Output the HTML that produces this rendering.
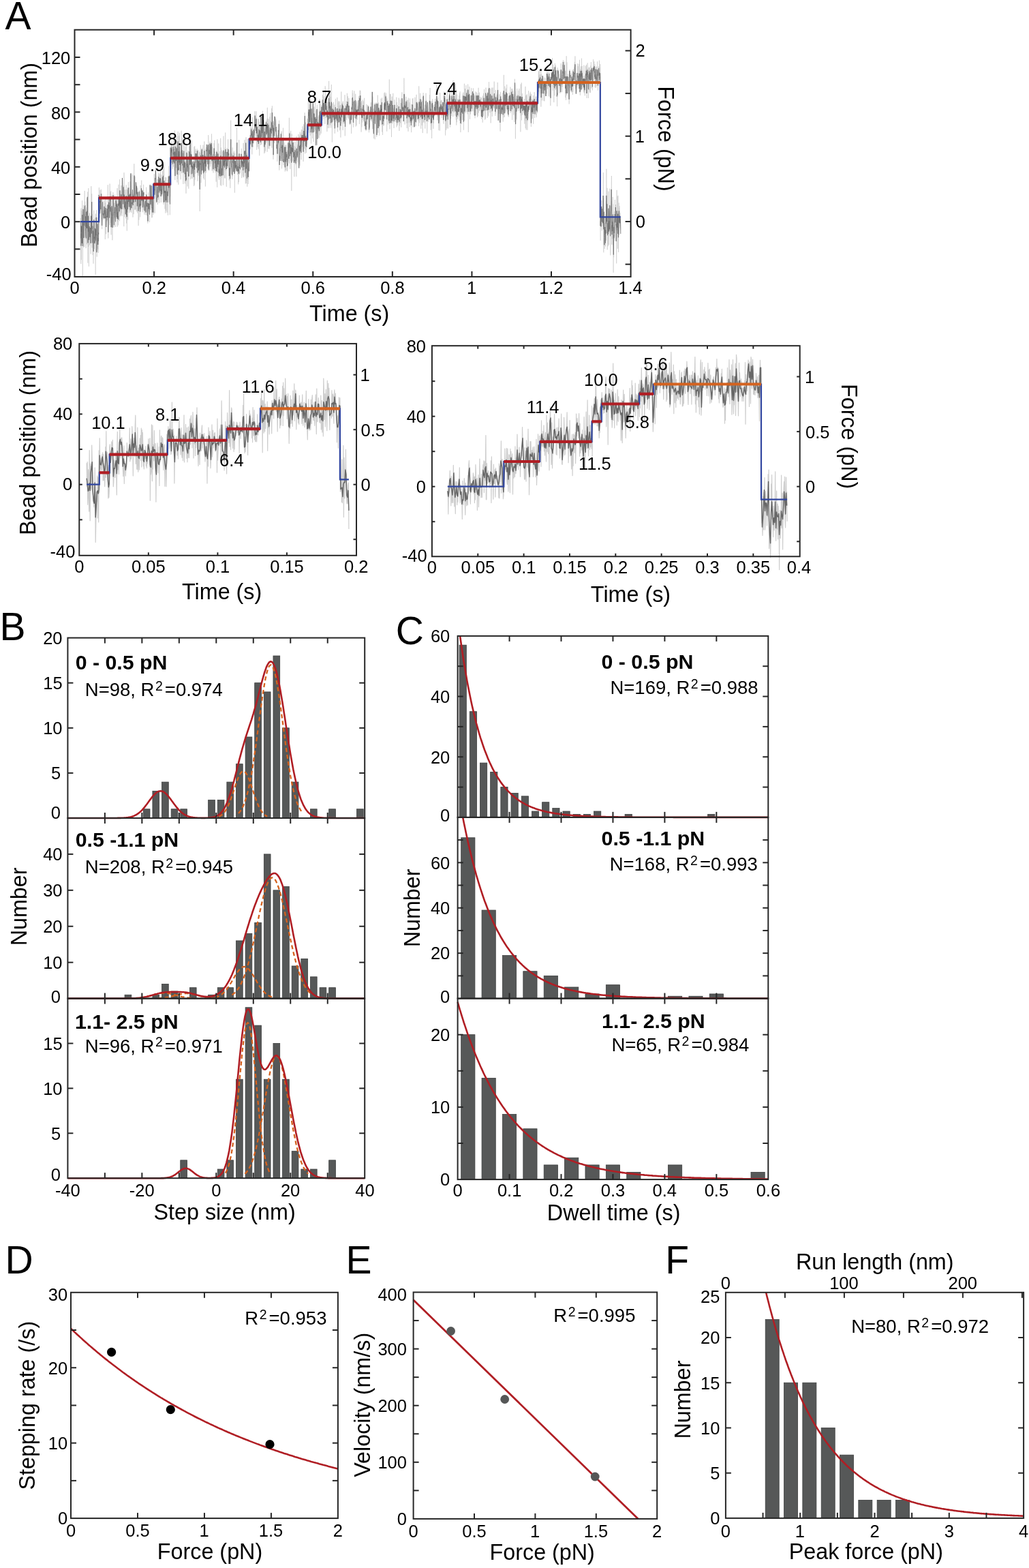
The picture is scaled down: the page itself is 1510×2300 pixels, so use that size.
<!DOCTYPE html>
<html><head><meta charset="utf-8"><title>Figure</title><style>html,body{margin:0;padding:0;background:#fff}svg{display:block}</style></head><body>
<svg width="1510" height="2300" viewBox="0 0 1510 2300" font-family='"Liberation Sans", Arial, Helvetica, sans-serif'>
<rect width="1510" height="2300" fill="#fff"/>
<polyline points="118.1,325.3 118.3,320 118.6,335.3 118.8,387 119,305.5 119.2,381.2 119.5,308.8 119.7,330.5 119.9,360.2 120.1,355.8 120.4,345.5 120.6,294.2 120.8,348.4 121.1,310 121.3,405 121.5,329.3 121.7,341.3 122,306.5 122.2,323.7 122.4,300.8 122.6,363 122.9,329.1 123.1,348.7 123.3,314 123.6,316.5 123.8,362 124,299.8 124.2,279.9 124.5,338.2 124.7,295.5 124.9,312.7 125.1,348.1 125.4,300.9 125.6,347.1 125.8,307 126.1,364.1 126.3,361.2 126.5,314 126.7,320.3 127,304.4 127.2,334 127.4,358.3 127.7,290.5 127.9,352.2 128.1,292.8 128.3,305.8 128.6,281.5 128.8,385.7 129,333.8 129.2,339.7 129.5,315.7 129.7,361.9 129.9,276.1 130.2,333.1 130.4,390.8 130.6,323.8 130.8,334.1 131.1,350.9 131.3,312.5 131.5,335 131.7,359.6 132,337.9 132.2,344.9 132.4,324.9 132.7,342 132.9,333.7 133.1,372.6 133.3,354.8 133.6,329.8 133.8,273.1 134,355.3 134.2,356.7 134.5,312.2 134.7,284.1 134.9,308.1 135.2,363.5 135.4,314 135.6,332.3 135.8,349.8 136.1,374.1 136.3,343.3 136.5,342.6 136.7,331.8 137,386.7 137.2,371.1 137.4,341.2 137.7,308.5 137.9,323.7 138.1,358.1 138.3,324.1 138.6,365.3 138.8,351.3 139,348.9 139.2,358 139.5,353.9 139.7,319.7 139.9,333.8 140.2,402.7 140.4,313.6 140.6,330.3 140.8,367.7 141.1,337.6 141.3,320.3 141.5,308.1 141.7,356.7 142,367.8 142.2,376.6 142.4,343.6 142.7,367.9 142.9,318.6 143.1,345.8 143.3,326.5 143.6,345.1 143.8,358.8 144,365.8 144.3,320.4 144.5,371 144.7,335.2 144.9,322.1 145.2,303.8 145.4,275.1 145.6,306.4 145.8,313.6 146.1,304.2 146.3,319.3 146.5,301.7 146.8,308.2 147,278.7 147.2,308.5 147.4,291.3 147.7,300.2 147.9,307.8 148.1,312.7 148.3,277.7 148.6,279.8 148.8,304.6 149,321.2 149.3,319.8 149.5,329.3 149.7,336.1 149.9,322.2 150.2,312.1 150.4,293.1 150.6,295.9 150.8,305 151.1,318.4 151.3,316.1 151.5,312.4 151.8,308.8 152,322.2 152.2,316.1 152.4,318.1 152.7,317.7 152.9,301.8 153.1,293.6 153.3,320.3 153.6,317.2 153.8,306 154,301.9 154.3,351.1 154.5,297.3 154.7,308.2 154.9,317.1 155.2,291.4 155.4,314.4 155.6,343.4 155.8,326.9 156.1,320.6 156.3,318.8 156.5,309.5 156.8,324.5 157,305.1 157.2,301.6 157.4,309.9 157.7,322.9 157.9,312.2 158.1,319 158.3,271.2 158.6,329.2 158.8,349.5 159,331 159.3,300.9 159.5,291.7 159.7,312.1 159.9,288.6 160.2,319.6 160.4,297.7 160.6,324.5 160.9,330.3 161.1,269.5 161.3,310.1 161.5,294.8 161.8,281.8 162,297.8 162.2,305.2 162.4,327 162.7,280.3 162.9,325.8 163.1,344.4 163.4,318.6 163.6,318.6 163.8,308.5 164,286 164.3,315.9 164.5,313.3 164.7,320 164.9,352.3 165.2,319.2 165.4,314.3 165.6,333.7 165.9,282.1 166.1,285 166.3,298.4 166.5,292 166.8,316.1 167,297.5 167.2,333.4 167.4,330.1 167.7,316.7 167.9,297.7 168.1,315.8 168.4,319 168.6,285.7 168.8,310.1 169,316.2 169.3,308.3 169.5,333 169.7,326.5 169.9,289.6 170.2,306.5 170.4,288.9 170.6,314.3 170.9,288.8 171.1,320.9 171.3,310 171.5,320.3 171.8,301 172,276.1 172.2,332.6 172.4,298.1 172.7,324.8 172.9,307.6 173.1,312.1 173.4,330.4 173.6,304.3 173.8,321.7 174,270.7 174.3,312.4 174.5,293.2 174.7,295.5 174.9,296.9 175.2,302.8 175.4,324.3 175.6,263.2 175.9,297 176.1,283.9 176.3,317.3 176.5,289.4 176.8,305.1 177,291.6 177.2,309.9 177.5,315.6 177.7,290.9 177.9,298 178.1,272 178.4,303.6 178.6,312.7 178.8,287.4 179,317.2 179.3,261.2 179.5,263.8 179.7,271.4 180,287.1 180.2,296.2 180.4,294 180.6,294.4 180.9,307.1 181.1,285.6 181.3,272 181.5,272.8 181.8,332.1 182,253.2 182.2,290.3 182.5,318.2 182.7,301.5 182.9,278.4 183.1,293.8 183.4,308 183.6,314.5 183.8,278.4 184,308.3 184.3,299.7 184.5,315.4 184.7,320.5 185,290.4 185.2,271.3 185.4,303 185.6,327.6 185.9,308.2 186.1,300.2 186.3,338.5 186.5,278 186.8,312.5 187,286.9 187.2,298.2 187.5,297.7 187.7,322.5 187.9,279.5 188.1,286.5 188.4,267 188.6,303.4 188.8,285 189,300.6 189.3,275.1 189.5,286.9 189.7,312.2 190,290.5 190.2,304 190.4,302.5 190.6,287.6 190.9,266.1 191.1,309.6 191.3,296.6 191.5,310.5 191.8,258 192,263.7 192.2,255.8 192.5,278 192.7,312.1 192.9,304.6 193.1,292.3 193.4,295 193.6,306.3 193.8,288.3 194.1,301.7 194.3,297 194.5,256.2 194.7,288 195,318.7 195.2,288.8 195.4,292.3 195.6,284.5 195.9,286.5 196.1,314.1 196.3,289.9 196.6,276.3 196.8,240.3 197,284.8 197.2,259.5 197.5,262.2 197.7,307.6 197.9,304.9 198.1,258.8 198.4,307.6 198.6,300.6 198.8,279.4 199.1,307.3 199.3,267.1 199.5,274.7 199.7,270.3 200,275.3 200.2,310.2 200.4,271.9 200.6,275.9 200.9,279.8 201.1,300.4 201.3,291.7 201.6,312.5 201.8,285.4 202,275.7 202.2,290.1 202.5,299.9 202.7,283.4 202.9,304.7 203.1,331.1 203.4,288.4 203.6,300.2 203.8,322.7 204.1,287.9 204.3,283.5 204.5,279.2 204.7,304.5 205,306.8 205.2,293.8 205.4,296.7 205.6,318.4 205.9,311.2 206.1,271.8 206.3,296 206.6,298 206.8,306.9 207,290.2 207.2,284 207.5,287.2 207.7,264.5 207.9,295 208.1,285 208.4,304.4 208.6,278.4 208.8,288.3 209.1,280.2 209.3,278.9 209.5,311.4 209.7,291.7 210,307.8 210.2,280 210.4,302 210.6,270.8 210.9,291.5 211.1,289.6 211.3,308.3 211.6,301.3 211.8,296.2 212,314.7 212.2,302.3 212.5,307.6 212.7,311.6 212.9,296.2 213.2,291.8 213.4,303.1 213.6,290 213.8,303.8 214.1,315.4 214.3,311.3 214.5,289.9 214.7,274.6 215,295.9 215.2,295 215.4,316.1 215.7,289.9 215.9,293.1 216.1,310.4 216.3,289.1 216.6,294.9 216.8,327.5 217,325.3 217.2,310.2 217.5,303.2 217.7,282.3 217.9,310.1 218.2,302.5 218.4,304.9 218.6,293.7 218.8,303.3 219.1,299.9 219.3,307.6 219.5,325.8 219.7,307 220,271.5 220.2,282.4 220.4,270.7 220.7,285 220.9,307.9 221.1,304.7 221.3,286.6 221.6,302 221.8,284.3 222,273.1 222.2,272.2 222.5,281.5 222.7,319.4 222.9,273.1 223.2,317.7 223.4,318.9 223.6,292.4 223.8,294 224.1,285.6 224.3,295.4 224.5,306.4 224.7,295.5 225,314.7 225.2,294 225.4,279.2 225.7,279.1 225.9,273.9 226.1,280.3 226.3,255.2 226.6,281.4 226.8,278.8 227,261.3 227.2,312.7 227.5,260.6 227.7,263 227.9,282.9 228.2,245.8 228.4,264.4 228.6,252.4 228.8,261.5 229.1,276.4 229.3,284.8 229.5,297.5 229.8,290.3 230,295.9 230.2,285.4 230.4,267 230.7,293 230.9,265.5 231.1,262.7 231.3,300.1 231.6,287.3 231.8,278.7 232,289.8 232.3,292.8 232.5,253.2 232.7,274.9 232.9,255.8 233.2,277.7 233.4,263.9 233.6,297.8 233.8,283.4 234.1,260.4 234.3,274.4 234.5,254.5 234.8,275.2 235,283.9 235.2,279.2 235.4,241.6 235.7,268.2 235.9,282.3 236.1,280.7 236.3,297 236.6,256.2 236.8,286.2 237,265.3 237.3,280.6 237.5,283.9 237.7,287.6 237.9,266 238.2,279.4 238.4,255.4 238.6,251 238.8,283.7 239.1,273.4 239.3,247 239.5,259.2 239.8,273.7 240,299.9 240.2,292.7 240.4,287.6 240.7,243.5 240.9,272.7 241.1,282.3 241.3,281.2 241.6,283.4 241.8,271.8 242,306.3 242.3,301.4 242.5,275.8 242.7,259.9 242.9,312.6 243.2,267.3 243.4,297.4 243.6,309.3 243.8,260.4 244.1,280.7 244.3,271.2 244.5,286.3 244.8,283.3 245,311.7 245.2,288.1 245.4,277.9 245.7,296.9 245.9,273.2 246.1,271.1 246.4,315.8 246.6,264.1 246.8,270.7 247,280 247.3,260.8 247.5,243.5 247.7,296.9 247.9,264 248.2,267.4 248.4,269.3 248.6,257.5 248.9,256.8 249.1,277 249.3,315.3 249.5,287.2 249.8,288 250,249.7 250.2,233.8 250.4,214.3 250.7,248.4 250.9,231.8 251.1,234.3 251.4,232.1 251.6,223.7 251.8,207.6 252,242.2 252.3,210.3 252.5,213.9 252.7,227.8 252.9,219.8 253.2,236 253.4,247.8 253.6,234.9 253.9,234 254.1,231 254.3,244.7 254.5,199.3 254.8,237.3 255,216 255.2,211.9 255.4,232.1 255.7,224.5 255.9,241.3 256.1,250.2 256.4,191.5 256.6,229.9 256.8,264.1 257,245.5 257.3,255.9 257.5,233 257.7,206.6 257.9,211.4 258.2,242.2 258.4,246.3 258.6,216.6 258.9,223.7 259.1,233.3 259.3,199.9 259.5,224.5 259.8,258.6 260,267.5 260.2,229.2 260.4,262.9 260.7,221.9 260.9,216.6 261.1,192.9 261.4,247.3 261.6,225 261.8,270.8 262,236.5 262.3,233.6 262.5,199.4 262.7,256.7 263,226.2 263.2,229.5 263.4,194.8 263.6,248.1 263.9,250.5 264.1,222.3 264.3,233.2 264.5,238.8 264.8,249.4 265,235 265.2,263.3 265.5,230.4 265.7,224.6 265.9,226.8 266.1,191.7 266.4,222.7 266.6,254 266.8,241 267,221.2 267.3,242.6 267.5,202.1 267.7,232 268,245.6 268.2,249.5 268.4,224.5 268.6,253.4 268.9,270 269.1,231.6 269.3,251.6 269.5,213.1 269.8,206.9 270,251.4 270.2,241.1 270.5,243.8 270.7,231.8 270.9,236.4 271.1,254.8 271.4,269.4 271.6,237.1 271.8,214.5 272,265 272.3,253.7 272.5,256.1 272.7,248.1 273,283.8 273.2,246.3 273.4,252.4 273.6,213 273.9,234.1 274.1,233.4 274.3,244.7 274.5,249.5 274.8,230.5 275,273.4 275.2,225.9 275.5,236.4 275.7,247.2 275.9,221 276.1,253.4 276.4,255 276.6,239.3 276.8,276.7 277,245.5 277.3,248.5 277.5,226.6 277.7,214.9 278,232.8 278.2,236.2 278.4,234.2 278.6,254.5 278.9,200.2 279.1,221.2 279.3,209.9 279.6,263.1 279.8,230.2 280,231.2 280.2,222.1 280.5,255.7 280.7,233.8 280.9,244.9 281.1,206.2 281.4,261.6 281.6,248.4 281.8,250.3 282.1,262.2 282.3,238 282.5,238.1 282.7,253.5 283,248.2 283.2,237.9 283.4,242.3 283.6,232.3 283.9,252.6 284.1,256.7 284.3,241.7 284.6,273.1 284.8,215.3 285,236.6 285.2,271.4 285.5,235.4 285.7,214.3 285.9,264.1 286.1,249.8 286.4,221 286.6,254.8 286.8,223.7 287.1,218.5 287.3,238.9 287.5,233.5 287.7,224.7 288,235.5 288.2,224.6 288.4,242.1 288.6,241.1 288.9,253.5 289.1,232.9 289.3,218.5 289.6,218.3 289.8,235.5 290,265.8 290.2,253.4 290.5,228.6 290.7,256.7 290.9,220.2 291.1,257.8 291.4,234.7 291.6,254.5 291.8,251.8 292.1,236.4 292.3,246.8 292.5,222.6 292.7,239.1 293,259.2 293.2,309.9 293.4,252.6 293.6,242.2 293.9,224 294.1,258.8 294.3,212.7 294.6,227.8 294.8,247.6 295,221.4 295.2,268.3 295.5,261.1 295.7,232.7 295.9,232.2 296.2,217.8 296.4,217.1 296.6,248.1 296.8,251.4 297.1,245.6 297.3,242.3 297.5,229.1 297.7,244.1 298,212.7 298.2,237.1 298.4,261.4 298.7,258.7 298.9,228.1 299.1,229.2 299.3,257.5 299.6,263.4 299.8,207.5 300,224.9 300.2,237.6 300.5,253.3 300.7,218.7 300.9,243.7 301.2,227.5 301.4,273.5 301.6,240.8 301.8,232.3 302.1,229.8 302.3,253.4 302.5,246.5 302.7,216 303,237.9 303.2,211.2 303.4,221.7 303.7,212.2 303.9,212 304.1,222 304.3,217 304.6,243.3 304.8,247.6 305,230 305.2,214.3 305.5,246.6 305.7,198.1 305.9,201.5 306.2,247.3 306.4,245.3 306.6,250.5 306.8,228.8 307.1,211.3 307.3,222.8 307.5,240.3 307.7,218.3 308,220.1 308.2,207.8 308.4,211.1 308.7,244.5 308.9,237.7 309.1,209.9 309.3,211.8 309.6,221.5 309.8,240.5 310,212.6 310.2,230.7 310.5,196.4 310.7,211.9 310.9,241.9 311.2,250.6 311.4,215.6 311.6,223.2 311.8,249.7 312.1,229.3 312.3,226 312.5,243.2 312.8,238.3 313,253.6 313.2,248.5 313.4,225.2 313.7,232.6 313.9,233.3 314.1,209.9 314.3,216.4 314.6,249.7 314.8,205.8 315,250.1 315.3,237.1 315.5,229.5 315.7,240.6 315.9,240.8 316.2,253.1 316.4,226.2 316.6,230.6 316.8,229.9 317.1,266.6 317.3,252.7 317.5,221.1 317.8,230 318,222.9 318.2,235.5 318.4,239.3 318.7,274.7 318.9,204.3 319.1,253.2 319.3,243.3 319.6,222.7 319.8,231.7 320,225.5 320.3,235.3 320.5,253 320.7,210.5 320.9,260.3 321.2,231.3 321.4,263.7 321.6,244.8 321.8,257.6 322.1,246 322.3,254.9 322.5,237.6 322.8,221.9 323,247.5 323.2,248.4 323.4,271.8 323.7,202.8 323.9,232.4 324.1,255.8 324.3,216.5 324.6,232.9 324.8,272.6 325,259.5 325.3,220.2 325.5,260.2 325.7,255.8 325.9,249.3 326.2,242.2 326.4,241.1 326.6,222.3 326.8,228.2 327.1,250.6 327.3,242.1 327.5,271.5 327.8,234.2 328,199.6 328.2,234 328.4,242.9 328.7,244.9 328.9,239.4 329.1,222.4 329.4,261.4 329.6,224.6 329.8,249.3 330,232.2 330.3,216.7 330.5,261.4 330.7,194.5 330.9,223.5 331.2,245.3 331.4,232.1 331.6,250.1 331.9,235.6 332.1,230 332.3,273.9 332.5,232.7 332.8,233.3 333,217.4 333.2,223.3 333.4,246.8 333.7,245.4 333.9,234.5 334.1,222.5 334.4,246.3 334.6,204.4 334.8,227.8 335,229.7 335.3,219.8 335.5,236.3 335.7,222.7 335.9,219.8 336.2,264.5 336.4,246.6 336.6,254.8 336.9,235.9 337.1,251.1 337.3,247.6 337.5,254.9 337.8,275.8 338,231.8 338.2,239.6 338.4,234.8 338.7,176.5 338.9,212.7 339.1,235.4 339.4,245.1 339.6,224.9 339.8,253.1 340,255.4 340.3,226.6 340.5,258.2 340.7,262.8 340.9,241 341.2,216.4 341.4,258.5 341.6,230.1 341.9,226.8 342.1,235.2 342.3,223.7 342.5,251.1 342.8,245.4 343,253.5 343.2,244 343.4,221.5 343.7,232 343.9,248.9 344.1,226.3 344.4,282.7 344.6,229.9 344.8,224.1 345,252.5 345.3,246.4 345.5,234 345.7,231.3 346,242.8 346.2,248.7 346.4,248.8 346.6,231.2 346.9,244.2 347.1,252 347.3,251.8 347.5,187.1 347.8,224.7 348,225.9 348.2,236.1 348.5,243.3 348.7,256.2 348.9,251.8 349.1,238.9 349.4,240.6 349.6,270.4 349.8,230.7 350,245.9 350.3,267.2 350.5,246.4 350.7,205.2 351,245.1 351.2,231.9 351.4,235.9 351.6,255.8 351.9,246 352.1,234.4 352.3,254 352.5,246.6 352.8,242.5 353,245.6 353.2,243.7 353.5,233.2 353.7,231.4 353.9,239.4 354.1,223.6 354.4,217.9 354.6,261.1 354.8,234.7 355,237.8 355.3,235.6 355.5,239.3 355.7,239.7 356,242.7 356.2,228.2 356.4,257.7 356.6,230 356.9,260.1 357.1,209.9 357.3,224.3 357.5,260.1 357.8,241.2 358,232.2 358.2,249.5 358.5,225.3 358.7,244.1 358.9,205.2 359.1,234.8 359.4,231.3 359.6,251.9 359.8,258.6 360,228.4 360.3,269.5 360.5,231.5 360.7,207 361,201.2 361.2,269 361.4,240.9 361.6,231.9 361.9,230.6 362.1,224.2 362.3,265.1 362.5,240.6 362.8,273.8 363,240.1 363.2,203.8 363.5,259.5 363.7,237.8 363.9,239.6 364.1,270 364.4,239.6 364.6,263.2 364.8,243.6 365.1,231.9 365.3,252 365.5,233.3 365.7,226.2 366,221.3 366.2,206.1 366.4,214.3 366.6,212.7 366.9,197.9 367.1,218.7 367.3,199.4 367.6,213.6 367.8,184.5 368,203.2 368.2,208.6 368.5,187.9 368.7,193.9 368.9,190.4 369.1,211.6 369.4,187.5 369.6,207.1 369.8,226.4 370.1,206.8 370.3,172.3 370.5,202 370.7,215.9 371,192.7 371.2,215.8 371.4,206.8 371.6,203.4 371.9,192.5 372.1,188.4 372.3,192.8 372.6,197.4 372.8,205.4 373,202.3 373.2,189 373.5,194.1 373.7,198.1 373.9,163.2 374.1,177 374.4,176.6 374.6,186.8 374.8,187 375.1,186.5 375.3,174.9 375.5,202.6 375.7,195.6 376,163.3 376.2,192.3 376.4,172.3 376.6,219.8 376.9,182.1 377.1,184.2 377.3,191.9 377.6,186.7 377.8,188.2 378,215.7 378.2,195 378.5,205.4 378.7,210.6 378.9,174.4 379.1,218.6 379.4,201.3 379.6,206.8 379.8,174.8 380.1,201.3 380.3,194.3 380.5,178.7 380.7,228.3 381,197.5 381.2,183.8 381.4,190.2 381.7,202.2 381.9,206.4 382.1,198.1 382.3,208.3 382.6,212.7 382.8,167.1 383,179.4 383.2,169.8 383.5,188.8 383.7,211.8 383.9,199.8 384.2,171.2 384.4,184.7 384.6,208.4 384.8,183.5 385.1,191.5 385.3,198 385.5,162.8 385.7,206.5 386,199.1 386.2,202.9 386.4,175.9 386.7,178.3 386.9,182 387.1,197.8 387.3,195 387.6,196 387.8,225.2 388,215.6 388.2,181.2 388.5,183.4 388.7,223.8 388.9,188.9 389.2,216.9 389.4,221.4 389.6,186.4 389.8,190.4 390.1,196.2 390.3,180 390.5,177.1 390.7,186 391,209.1 391.2,188.4 391.4,192.6 391.7,188.1 391.9,174.3 392.1,222.8 392.3,157.8 392.6,185.8 392.8,207.7 393,173.5 393.2,207.8 393.5,218.1 393.7,180.6 393.9,198 394.2,174.7 394.4,202.8 394.6,194.9 394.8,197.5 395.1,218.6 395.3,201.2 395.5,215.2 395.7,201.7 396,171.4 396.2,196.4 396.4,199.9 396.7,166 396.9,214 397.1,192.4 397.3,198.4 397.6,177.7 397.8,193.6 398,198.9 398.3,189.6 398.5,196.1 398.7,158.9 398.9,216.9 399.2,174.2 399.4,155.3 399.6,175.1 399.8,177.9 400.1,201.7 400.3,177.4 400.5,198.8 400.8,179.4 401,233.8 401.2,205.9 401.4,228.3 401.7,177.8 401.9,207.3 402.1,180 402.3,207.3 402.6,209.9 402.8,170.2 403,176.9 403.3,176.1 403.5,170.8 403.7,184.3 403.9,181.2 404.2,172.5 404.4,198.4 404.6,206.3 404.8,174.6 405.1,188.7 405.3,200.2 405.5,197.8 405.8,190.3 406,217 406.2,217.5 406.4,215 406.7,199.6 406.9,236.8 407.1,233.4 407.3,198.2 407.6,203.5 407.8,225.6 408,190.5 408.3,211.6 408.5,206.4 408.7,194.1 408.9,203.7 409.2,181.2 409.4,199.2 409.6,176.7 409.8,249.7 410.1,235.3 410.3,232.1 410.5,217.5 410.8,229.9 411,235.2 411.2,232.7 411.4,231.3 411.7,200.5 411.9,223 412.1,205.9 412.3,194.8 412.6,194.4 412.8,221.9 413,232.9 413.3,192.3 413.5,247.3 413.7,242.8 413.9,212.6 414.2,211 414.4,217.9 414.6,237 414.9,214.5 415.1,201.8 415.3,227.3 415.5,187.7 415.8,224 416,242.4 416.2,228.7 416.4,236.8 416.7,232.9 416.9,235.8 417.1,224.8 417.4,208.7 417.6,219.1 417.8,221.7 418,245.1 418.3,251.7 418.5,232.8 418.7,212.8 418.9,214.1 419.2,222.4 419.4,249.9 419.6,232.2 419.9,225 420.1,212.3 420.3,239.6 420.5,228.5 420.8,223.3 421,224.7 421.2,251.3 421.4,220.5 421.7,250.7 421.9,244.8 422.1,224.3 422.4,237.3 422.6,220.1 422.8,208.5 423,218.1 423.3,207.7 423.5,231.8 423.7,224 423.9,233.6 424.2,239.6 424.4,172.8 424.6,230.6 424.9,194.4 425.1,229.2 425.3,210.9 425.5,227 425.8,247.9 426,196 426.2,227.6 426.4,222.2 426.7,191.8 426.9,235.8 427.1,225.3 427.4,215.4 427.6,213.3 427.8,279.8 428,219.7 428.3,196.4 428.5,210.4 428.7,221.2 428.9,221.2 429.2,225.3 429.4,209.2 429.6,236.5 429.9,218.1 430.1,203.4 430.3,211.5 430.5,219 430.8,238.4 431,232.5 431.2,218 431.5,224.1 431.7,228 431.9,259.2 432.1,213.8 432.4,232.2 432.6,236.4 432.8,207.9 433,227.5 433.3,226.7 433.5,215.5 433.7,232 434,239.6 434.2,242.2 434.4,218.4 434.6,223.6 434.9,259.1 435.1,199.7 435.3,221.5 435.5,232.4 435.8,220.1 436,227 436.2,218.7 436.5,229.3 436.7,238 436.9,211.9 437.1,219.4 437.4,215.2 437.6,209.2 437.8,215.5 438,196.9 438.3,229.5 438.5,245.7 438.7,245.4 439,237.6 439.2,199.3 439.4,240.7 439.6,202.7 439.9,212.1 440.1,243.4 440.3,193.5 440.5,226.7 440.8,216.5 441,209.2 441.2,196.4 441.5,218.3 441.7,204.6 441.9,230.3 442.1,234.3 442.4,190.1 442.6,206.3 442.8,209.5 443,194.8 443.3,194.7 443.5,215.5 443.7,209.7 444,185.4 444.2,203 444.4,220.4 444.6,190.9 444.9,195.4 445.1,237 445.3,232.2 445.5,182.3 445.8,185.8 446,213.7 446.2,188.1 446.5,204.3 446.7,200.9 446.9,218.1 447.1,165.3 447.4,170.9 447.6,187.7 447.8,225.3 448.1,205.9 448.3,179.4 448.5,216.6 448.7,220.3 449,202.1 449.2,199.2 449.4,211.6 449.6,224.2 449.9,206.2 450.1,211.9 450.3,201.3 450.6,194.6 450.8,185.6 451,203.8 451.2,193.1 451.5,174.6 451.7,193.4 451.9,184.4 452.1,190.2 452.4,147.5 452.6,184.3 452.8,165.4 453.1,161.4 453.3,160.3 453.5,194.6 453.7,188.2 454,159.7 454.2,153.1 454.4,171.7 454.6,163.1 454.9,198.9 455.1,147.2 455.3,141.2 455.6,168.6 455.8,173.3 456,177.2 456.2,187.9 456.5,210.5 456.7,170.5 456.9,167.3 457.1,146.8 457.4,180.1 457.6,191 457.8,173 458.1,196.6 458.3,177.3 458.5,203 458.7,183.3 459,159 459.2,166.1 459.4,150.6 459.6,147.3 459.9,180.6 460.1,189.1 460.3,208 460.6,173.2 460.8,171.4 461,156.6 461.2,193.1 461.5,183.1 461.7,167.1 461.9,188.5 462.1,185.9 462.4,147.7 462.6,190.6 462.8,180.8 463.1,172.3 463.3,171.5 463.5,208.6 463.7,206.7 464,211.6 464.2,161.7 464.4,170.1 464.7,196 464.9,162.3 465.1,171.3 465.3,153.7 465.6,213 465.8,200.4 466,189.2 466.2,186.1 466.5,175.8 466.7,177.2 466.9,193 467.2,171.1 467.4,202.2 467.6,175.4 467.8,168.9 468.1,202.4 468.3,179.6 468.5,190.7 468.7,175 469,145.4 469.2,190.8 469.4,161 469.7,198.4 469.9,157.4 470.1,151.8 470.3,185.9 470.6,187.7 470.8,184.4 471,164.2 471.2,195.8 471.5,159.8 471.7,175.8 471.9,154.2 472.2,160.7 472.4,179.7 472.6,155.9 472.8,175.7 473.1,176.8 473.3,139.1 473.5,147.5 473.7,159.6 474,156.6 474.2,168.5 474.4,134.3 474.7,174.3 474.9,174.6 475.1,161.5 475.3,141.5 475.6,162 475.8,153.6 476,170.5 476.2,160.5 476.5,172.1 476.7,153.7 476.9,181.8 477.2,126.3 477.4,145.6 477.6,168.6 477.8,140.5 478.1,172.9 478.3,145 478.5,162.8 478.7,148.6 479,155.4 479.2,163.9 479.4,159.9 479.7,155.8 479.9,193.1 480.1,162.9 480.3,148.3 480.6,175.6 480.8,174.7 481,179.5 481.3,188.1 481.5,149.8 481.7,178.6 481.9,179.8 482.2,163.3 482.4,166.8 482.6,118.9 482.8,153.9 483.1,187.8 483.3,135.8 483.5,153.3 483.8,164.8 484,168.7 484.2,183.6 484.4,135.3 484.7,160.8 484.9,172.8 485.1,141.8 485.3,159.2 485.6,187.5 485.8,179 486,168.4 486.3,124 486.5,160.8 486.7,169.2 486.9,158.8 487.2,162.9 487.4,208.5 487.6,161.6 487.8,151.6 488.1,168.9 488.3,161.4 488.5,162.5 488.8,165.2 489,178.3 489.2,170.6 489.4,149.8 489.7,164.7 489.9,174.2 490.1,159.9 490.3,184.4 490.6,178.4 490.8,153.7 491,172.7 491.3,195.8 491.5,190.5 491.7,166.9 491.9,179.1 492.2,155.9 492.4,144.9 492.6,174.5 492.8,170.7 493.1,174.5 493.3,165.7 493.5,171.2 493.8,159.7 494,174.6 494.2,179.5 494.4,167.4 494.7,179.9 494.9,143 495.1,157.4 495.3,189.7 495.6,193.3 495.8,171.6 496,167.3 496.3,150 496.5,173.1 496.7,180 496.9,148.1 497.2,178.6 497.4,178.1 497.6,177.6 497.9,155.3 498.1,178.8 498.3,148.8 498.5,191.2 498.8,171.8 499,154 499.2,189.9 499.4,186.9 499.7,160.2 499.9,201.6 500.1,154.3 500.4,172.7 500.6,184.9 500.8,134.5 501,181.6 501.3,165.8 501.5,167.3 501.7,152.1 501.9,172.9 502.2,151.3 502.4,154.4 502.6,161.6 502.9,150.3 503.1,191 503.3,148.3 503.5,157.4 503.8,164.3 504,170.2 504.2,181.3 504.4,181 504.7,164.3 504.9,163.5 505.1,169.9 505.4,181.1 505.6,179.4 505.8,161.6 506,139.1 506.3,199.4 506.5,181.4 506.7,172 506.9,173.1 507.2,160.6 507.4,154.4 507.6,163.6 507.9,164.6 508.1,159.2 508.3,148.5 508.5,163.5 508.8,176.2 509,160 509.2,167.1 509.4,136.7 509.7,163.1 509.9,164 510.1,148.4 510.4,141.2 510.6,172.1 510.8,154.1 511,172.7 511.3,158.9 511.5,174.4 511.7,160.5 511.9,143.9 512.2,165.1 512.4,162.2 512.6,176.2 512.9,159.9 513.1,161.7 513.3,179.6 513.5,183 513.8,176.4 514,180.2 514.2,170.5 514.4,174.2 514.7,175.8 514.9,168.2 515.1,162.6 515.4,163.5 515.6,195.9 515.8,160.4 516,157.5 516.3,155.7 516.5,160.8 516.7,164 517,143.9 517.2,132.4 517.4,165.2 517.6,136.6 517.9,164.1 518.1,162.9 518.3,178.3 518.5,186.6 518.8,168.4 519,155 519.2,146.3 519.5,151.5 519.7,163.9 519.9,133.3 520.1,164.8 520.4,164.5 520.6,173.1 520.8,158.9 521,165 521.3,152.8 521.5,156.4 521.7,137.8 522,165.1 522.2,185.6 522.4,165.2 522.6,168.4 522.9,148.8 523.1,184.2 523.3,151.5 523.5,173.7 523.8,164.1 524,147.5 524.2,175.6 524.5,161.9 524.7,164.4 524.9,167.8 525.1,159.8 525.4,155.6 525.6,168.9 525.8,156.7 526,162.9 526.3,152.6 526.5,141.2 526.7,154.4 527,157.6 527.2,165.2 527.4,182.1 527.6,140.6 527.9,166.6 528.1,132.6 528.3,148.9 528.5,157.1 528.8,132.9 529,137.3 529.2,165.5 529.5,165.1 529.7,162 529.9,150.7 530.1,193.6 530.4,159.4 530.6,148.4 530.8,186.4 531,171.1 531.3,157.1 531.5,179.7 531.7,164.2 532,169.7 532.2,163.9 532.4,146.4 532.6,175.4 532.9,164.4 533.1,148.5 533.3,152.8 533.6,178.1 533.8,159 534,165.8 534.2,175 534.5,167.9 534.7,143.8 534.9,175.2 535.1,179.6 535.4,178.8 535.6,189.6 535.8,172.9 536.1,178.6 536.3,190 536.5,162.9 536.7,191.8 537,191.7 537.2,177.4 537.4,191.4 537.6,177.1 537.9,152.9 538.1,182.3 538.3,169.7 538.6,169.5 538.8,166.5 539,182.8 539.2,172.1 539.5,154.5 539.7,171.4 539.9,174.2 540.1,154.4 540.4,159 540.6,158.7 540.8,155.9 541.1,170.8 541.3,180.5 541.5,194.3 541.7,185.1 542,182.5 542.2,183.6 542.4,187.6 542.6,161.6 542.9,176 543.1,170.9 543.3,164.3 543.6,161 543.8,160.5 544,163.7 544.2,150.3 544.5,176.6 544.7,168 544.9,170 545.1,173.2 545.4,178.4 545.6,159.3 545.8,165.6 546.1,143.5 546.3,134.4 546.5,138.3 546.7,189.2 547,141.7 547.2,175 547.4,189 547.6,160.3 547.9,191 548.1,194.5 548.3,181.8 548.6,203.2 548.8,178.2 549,158.8 549.2,177 549.5,163.4 549.7,151 549.9,151.6 550.2,204.4 550.4,164.2 550.6,169.5 550.8,161 551.1,171.2 551.3,166 551.5,164.9 551.7,153.6 552,150.3 552.2,159.1 552.4,174.7 552.7,200.9 552.9,186.2 553.1,196.8 553.3,177.3 553.6,168.9 553.8,150.9 554,171.2 554.2,139.6 554.5,166.2 554.7,194.7 554.9,175.9 555.2,187.4 555.4,165.3 555.6,150.5 555.8,163.6 556.1,164.8 556.3,187.5 556.5,198.9 556.7,159.8 557,165.3 557.2,168.9 557.4,166.2 557.7,154 557.9,172.9 558.1,176.8 558.3,177.7 558.6,154 558.8,168.9 559,144.6 559.2,183.1 559.5,154.9 559.7,165.7 559.9,162.1 560.2,160.7 560.4,153.5 560.6,143.4 560.8,193.5 561.1,172.5 561.3,171.8 561.5,198 561.7,166.4 562,175.2 562.2,166.5 562.4,184.5 562.7,174.2 562.9,172.2 563.1,164.3 563.3,171.2 563.6,184 563.8,136.4 564,164 564.2,158.9 564.5,160.6 564.7,135.5 564.9,175.1 565.2,151.3 565.4,160.7 565.6,157.2 565.8,139.4 566.1,156.6 566.3,136.5 566.5,150.2 566.8,159 567,163 567.2,162.7 567.4,159.8 567.7,192.7 567.9,169 568.1,144.3 568.3,153.3 568.6,152.1 568.8,158.3 569,151.6 569.3,147.6 569.5,182.6 569.7,161.1 569.9,154.2 570.2,155.7 570.4,156.4 570.6,179.9 570.8,167.6 571.1,177.4 571.3,116.5 571.5,166.2 571.8,177.8 572,189.4 572.2,161.9 572.4,137.8 572.7,171.9 572.9,155.5 573.1,138.1 573.3,155.3 573.6,179.1 573.8,181 574,175.1 574.3,149.3 574.5,201.1 574.7,146.9 574.9,161.8 575.2,141.7 575.4,181.5 575.6,169.3 575.8,177.2 576.1,165.8 576.3,162.7 576.5,166.2 576.8,136.9 577,179.8 577.2,178.7 577.4,158.9 577.7,164.5 577.9,169.6 578.1,187.9 578.3,171.7 578.6,167.2 578.8,159.8 579,146.3 579.3,160.4 579.5,170.5 579.7,164.2 579.9,169.9 580.2,179 580.4,174 580.6,172.2 580.8,177.8 581.1,170.6 581.3,167.1 581.5,173 581.8,142.7 582,186.5 582.2,149.9 582.4,181.4 582.7,169.2 582.9,184.6 583.1,169.1 583.4,154.3 583.6,182.7 583.8,170.8 584,169 584.3,166.9 584.5,179.9 584.7,176.7 584.9,169.3 585.2,143.6 585.4,160.4 585.6,168.1 585.9,192 586.1,171.6 586.3,164.6 586.5,184.4 586.8,165.9 587,167.6 587.2,169.8 587.4,146.1 587.7,180.5 587.9,173.4 588.1,163.4 588.4,151.1 588.6,170.5 588.8,186.8 589,156.6 589.3,151.4 589.5,173.5 589.7,143.6 589.9,135.3 590.2,160 590.4,156.3 590.6,162.1 590.9,157.5 591.1,169.7 591.3,160.7 591.5,155.8 591.8,157.3 592,173.3 592.2,178.1 592.4,175.6 592.7,172.7 592.9,114.5 593.1,148.5 593.4,159.4 593.6,166.4 593.8,138.9 594,182.5 594.3,165.7 594.5,152.3 594.7,163.4 594.9,155.5 595.2,150.5 595.4,169.2 595.6,155.7 595.9,141.9 596.1,153.6 596.3,160.9 596.5,147.3 596.8,181 597,147.1 597.2,188.1 597.4,175.2 597.7,149.5 597.9,165.1 598.1,180.4 598.4,160.9 598.6,146.6 598.8,165.1 599,192.8 599.3,143.7 599.5,173.6 599.7,165.9 600,164.2 600.2,159.9 600.4,159.9 600.6,179.7 600.9,174 601.1,150.2 601.3,186.2 601.5,144.5 601.8,172.3 602,165.1 602.2,179.7 602.5,168.1 602.7,179.9 602.9,164.9 603.1,179.3 603.4,169.8 603.6,194.2 603.8,152.8 604,180.3 604.3,171.9 604.5,168 604.7,158.4 605,173 605.2,145 605.4,147.1 605.6,176.8 605.9,144 606.1,186.6 606.3,162.9 606.5,171.3 606.8,169.6 607,173.5 607.2,163.5 607.5,161.6 607.7,165.3 607.9,182.1 608.1,183.7 608.4,185.3 608.6,172.2 608.8,164 609,142.8 609.3,176.7 609.5,178.6 609.7,161.1 610,178.6 610.2,185.1 610.4,167.1 610.6,180.1 610.9,169.9 611.1,138.8 611.3,157.2 611.5,158 611.8,170.9 612,151 612.2,157.5 612.5,149.4 612.7,162 612.9,164 613.1,177.5 613.4,175.8 613.6,166.6 613.8,168.5 614,165.9 614.3,165.4 614.5,185.1 614.7,126.4 615,159.9 615.2,166.8 615.4,180.3 615.6,148.6 615.9,169.4 616.1,176 616.3,157.1 616.6,136.8 616.8,159 617,146.7 617.2,172.9 617.5,150.6 617.7,188.8 617.9,165.5 618.1,151.7 618.4,155.3 618.6,146.1 618.8,168 619.1,183.9 619.3,159.1 619.5,175.5 619.7,148 620,165.7 620.2,195.1 620.4,142 620.6,180.3 620.9,179.8 621.1,136.2 621.3,143.3 621.6,150.3 621.8,179.1 622,158.7 622.2,162.7 622.5,176.1 622.7,167.3 622.9,169.5 623.1,160.9 623.4,180.6 623.6,153.6 623.8,188.6 624.1,159.7 624.3,153.5 624.5,174.1 624.7,171.2 625,136.6 625.2,168.3 625.4,146.5 625.6,154.8 625.9,177.9 626.1,154.6 626.3,172.1 626.6,161.6 626.8,195.7 627,166.5 627.2,150.6 627.5,151.1 627.7,153.7 627.9,168.9 628.1,166.1 628.4,178.6 628.6,167.4 628.8,166.6 629.1,169.4 629.3,163.2 629.5,168.9 629.7,176 630,175.4 630.2,156 630.4,139.1 630.6,153.1 630.9,168.8 631.1,129 631.3,158.4 631.6,172.2 631.8,158.1 632,150 632.2,190.6 632.5,185 632.7,161.4 632.9,184.1 633.2,183.7 633.4,148.1 633.6,203 633.8,150.8 634.1,161 634.3,148.9 634.5,164.8 634.7,145.2 635,164.4 635.2,180.6 635.4,168.3 635.7,161.9 635.9,188.9 636.1,153.9 636.3,180.9 636.6,162.4 636.8,169.3 637,167.5 637.2,167.6 637.5,163.1 637.7,153.2 637.9,155.6 638.2,169.8 638.4,160.7 638.6,145.2 638.8,152.9 639.1,152.5 639.3,162.6 639.5,166 639.7,165.9 640,156 640.2,166.1 640.4,146.3 640.7,124.6 640.9,165 641.1,143.1 641.3,153.4 641.6,149.1 641.8,176.5 642,150.1 642.2,170.8 642.5,159.9 642.7,148.4 642.9,142.8 643.2,171.7 643.4,170.6 643.6,175.7 643.8,191.2 644.1,168.4 644.3,168.7 644.5,162.9 644.7,165.2 645,158.3 645.2,149.8 645.4,191.6 645.7,136.1 645.9,166.1 646.1,168.2 646.3,164.9 646.6,147.9 646.8,159.3 647,155.9 647.2,146.7 647.5,162.4 647.7,156.5 647.9,153.9 648.2,173 648.4,147.4 648.6,169.1 648.8,153.1 649.1,168.2 649.3,163.8 649.5,166.2 649.8,149.4 650,153.2 650.2,152.9 650.4,168.3 650.7,175.8 650.9,181.6 651.1,158.7 651.3,167.5 651.6,143 651.8,134.2 652,153.2 652.3,156.2 652.5,143 652.7,139.8 652.9,171.5 653.2,152.9 653.4,141.4 653.6,198.6 653.8,168.1 654.1,162.1 654.3,176.3 654.5,156.7 654.8,190.8 655,145.8 655.2,149.8 655.4,166.8 655.7,156.6 655.9,188.4 656.1,134.6 656.3,146.5 656.6,161.2 656.8,165.5 657,171.6 657.3,161.1 657.5,188.5 657.7,149.2 657.9,159.2 658.2,169.2 658.4,153 658.6,152.4 658.8,149.9 659.1,147.7 659.3,140.6 659.5,148.3 659.8,133.7 660,161.4 660.2,133.6 660.4,186.6 660.7,181 660.9,172.9 661.1,154.2 661.3,149.2 661.6,174 661.8,158.4 662,163.9 662.3,144.2 662.5,170 662.7,143 662.9,155.4 663.2,129 663.4,142.8 663.6,159.3 663.8,146.3 664.1,145.9 664.3,164.3 664.5,151.5 664.8,171.1 665,118.1 665.2,160.9 665.4,160.6 665.7,130.9 665.9,133.3 666.1,165 666.4,136.2 666.6,142 666.8,161.2 667,147.4 667.3,159.2 667.5,140.7 667.7,158.2 667.9,169.7 668.2,159.7 668.4,122.8 668.6,163.3 668.9,156.1 669.1,143.4 669.3,175.9 669.5,131.6 669.8,183.6 670,146.9 670.2,179.1 670.4,156.7 670.7,138.5 670.9,159.2 671.1,162.7 671.4,166.2 671.6,174.6 671.8,145.4 672,165.1 672.3,169.5 672.5,155 672.7,145.2 672.9,145.2 673.2,169.8 673.4,171.4 673.6,147.2 673.9,140.2 674.1,177.2 674.3,136.6 674.5,161.4 674.8,147.6 675,134.1 675.2,163.2 675.4,159.1 675.7,182.7 675.9,194.1 676.1,157.9 676.4,175.5 676.6,176.2 676.8,153 677,147.6 677.3,182.1 677.5,153 677.7,157.6 677.9,152.8 678.2,155.7 678.4,149.6 678.6,168.3 678.9,176 679.1,152 679.3,137.6 679.5,156.7 679.8,135.5 680,147.7 680.2,174.9 680.4,190.7 680.7,162.3 680.9,140 681.1,166 681.4,122.7 681.6,145 681.8,177 682,165.5 682.3,134.2 682.5,130 682.7,165.8 682.9,152 683.2,144.1 683.4,157.8 683.6,145 683.9,125.1 684.1,164.3 684.3,143.1 684.5,138.3 684.8,132.6 685,154.3 685.2,138.9 685.5,160.5 685.7,146.9 685.9,167.4 686.1,146.3 686.4,142.2 686.6,123.6 686.8,136.1 687,160 687.3,193.9 687.5,131.9 687.7,135.2 688,154.8 688.2,156.5 688.4,139.6 688.6,151.2 688.9,127.1 689.1,145.5 689.3,162.9 689.5,174.8 689.8,149.4 690,147.6 690.2,158.4 690.5,167.6 690.7,158.2 690.9,140.3 691.1,155.2 691.4,164.1 691.6,138.7 691.8,129.1 692,155.9 692.3,154.6 692.5,163.2 692.7,151.5 693,140.9 693.2,142.5 693.4,133.8 693.6,134.7 693.9,139.5 694.1,141 694.3,163.3 694.5,129.4 694.8,146.6 695,138.7 695.2,168.7 695.5,150.5 695.7,141.5 695.9,157.2 696.1,147 696.4,139.8 696.6,168.9 696.8,158.2 697,173.4 697.3,165.6 697.5,160.3 697.7,151.4 698,134.4 698.2,160 698.4,150.6 698.6,159.2 698.9,150.3 699.1,139.6 699.3,135.4 699.5,159.8 699.8,168.3 700,146.8 700.2,158.4 700.5,172 700.7,139.8 700.9,147.9 701.1,137.2 701.4,170.3 701.6,156.7 701.8,146.7 702.1,128.8 702.3,149 702.5,165.6 702.7,147.8 703,146.5 703.2,162 703.4,135.7 703.6,154.7 703.9,162.8 704.1,142.4 704.3,141.6 704.6,157.4 704.8,152.6 705,151.3 705.2,158.3 705.5,159.7 705.7,143 705.9,145.6 706.1,161.5 706.4,171.2 706.6,174.5 706.8,143.2 707.1,171.3 707.3,165.9 707.5,154.8 707.7,162.3 708,167.1 708.2,179.7 708.4,140.5 708.6,164.1 708.9,152.4 709.1,150.3 709.3,169.9 709.6,163.6 709.8,136.9 710,147.2 710.2,155 710.5,131 710.7,163.3 710.9,149.3 711.1,151.6 711.4,154.3 711.6,175.8 711.8,150.6 712.1,144.4 712.3,174.4 712.5,142.9 712.7,142.1 713,128.6 713.2,162.5 713.4,151.9 713.6,155.2 713.9,151.1 714.1,147.9 714.3,138.7 714.6,138.1 714.8,155.4 715,151.7 715.2,173 715.5,138.3 715.7,141.6 715.9,134.6 716.1,169.1 716.4,130.9 716.6,160.6 716.8,170.6 717.1,147.7 717.3,160 717.5,120.2 717.7,146.3 718,129 718.2,155.1 718.4,152.6 718.7,140.1 718.9,165.3 719.1,156.3 719.3,144 719.6,144.2 719.8,130.1 720,148.7 720.2,180.5 720.5,140 720.7,157.3 720.9,144.1 721.2,164 721.4,159.3 721.6,150.3 721.8,128.6 722.1,146.1 722.3,170.8 722.5,150.5 722.7,163.6 723,148.5 723.2,128.5 723.4,161 723.7,159.3 723.9,146 724.1,148.2 724.3,158.2 724.6,144.4 724.8,158.4 725,151.5 725.2,119.6 725.5,151.8 725.7,144 725.9,140.9 726.2,159.5 726.4,147.4 726.6,162.3 726.8,169.9 727.1,155.8 727.3,132.1 727.5,143.4 727.7,166.5 728,150.1 728.2,142.1 728.4,151.4 728.7,159.8 728.9,155.7 729.1,161.1 729.3,139.8 729.6,147 729.8,147.1 730,150.5 730.2,120.9 730.5,148.5 730.7,131.8 730.9,172.2 731.2,173.9 731.4,176.5 731.6,164.5 731.8,146.5 732.1,166.8 732.3,149.7 732.5,159.9 732.7,138.4 733,143 733.2,159.2 733.4,178.2 733.7,152.5 733.9,185.2 734.1,192.6 734.3,134.9 734.6,153.4 734.8,140.5 735,152 735.3,146.3 735.5,153.3 735.7,168.9 735.9,168.8 736.2,158.9 736.4,156.3 736.6,158.1 736.8,157.7 737.1,164 737.3,155.1 737.5,162.8 737.8,136 738,165 738.2,178.5 738.4,156.3 738.7,133.3 738.9,172.4 739.1,148 739.3,109.9 739.6,149.7 739.8,161.2 740,158.5 740.3,171.9 740.5,163.2 740.7,157 740.9,126.5 741.2,138.6 741.4,158.2 741.6,165.8 741.8,141.2 742.1,148 742.3,163.6 742.5,130.4 742.8,129.6 743,153.9 743.2,159.8 743.4,150.2 743.7,124 743.9,156.7 744.1,137.8 744.3,166.5 744.6,154.6 744.8,158.3 745,162 745.3,144.9 745.5,164.1 745.7,170 745.9,157.9 746.2,171.5 746.4,141.9 746.6,163.4 746.8,154.2 747.1,135.9 747.3,148.1 747.5,141.4 747.8,141.1 748,149 748.2,162.9 748.4,144.2 748.7,150.3 748.9,127.6 749.1,149.9 749.3,165.7 749.6,161.2 749.8,156.3 750,142.1 750.3,135.3 750.5,147.4 750.7,130.1 750.9,131.6 751.2,163.7 751.4,137.3 751.6,175.9 751.9,130.2 752.1,155.9 752.3,133.1 752.5,151.5 752.8,133.3 753,149.2 753.2,145.3 753.4,140.5 753.7,154.8 753.9,168.4 754.1,137.9 754.4,159.2 754.6,146.4 754.8,145.7 755,179.1 755.3,115.8 755.5,137 755.7,121.8 755.9,143.9 756.2,144.8 756.4,203.5 756.6,154.9 756.9,176.6 757.1,169.4 757.3,144.9 757.5,157.9 757.8,174.9 758,152.9 758.2,154 758.4,158.3 758.7,129.9 758.9,139.8 759.1,157.2 759.4,160.2 759.6,138.8 759.8,148.4 760,151.2 760.3,150.1 760.5,162.7 760.7,155.1 760.9,155.9 761.2,132.8 761.4,137.7 761.6,158.9 761.9,130 762.1,157 762.3,144.4 762.5,142 762.8,162.4 763,144.1 763.2,141 763.4,144.6 763.7,154.9 763.9,193.4 764.1,123.5 764.4,154.5 764.6,152.6 764.8,169.5 765,151.3 765.3,121.3 765.5,176.4 765.7,142.4 765.9,156.9 766.2,137.2 766.4,142.4 766.6,150.3 766.9,168.5 767.1,167.9 767.3,147.1 767.5,162.7 767.8,149.8 768,157.3 768.2,158.8 768.5,165.5 768.7,149 768.9,156.3 769.1,161.2 769.4,159.4 769.6,145.3 769.8,181.7 770,150.7 770.3,169.2 770.5,160.7 770.7,176.7 771,126.9 771.2,188.1 771.4,155.1 771.6,140 771.9,159.7 772.1,190.4 772.3,165.3 772.5,139.7 772.8,151.1 773,177.5 773.2,138.4 773.5,155.5 773.7,155.4 773.9,190.7 774.1,154.6 774.4,177.5 774.6,150.1 774.8,147.6 775,173.8 775.3,167.2 775.5,133.2 775.7,167.2 776,166.8 776.2,148.2 776.4,160.6 776.6,161.2 776.9,150 777.1,147.9 777.3,145.7 777.5,151.4 777.8,137.1 778,155.7 778.2,134.7 778.5,157.4 778.7,154.8 778.9,142.2 779.1,169.5 779.4,186 779.6,176.5 779.8,137.8 780,175.1 780.3,159.9 780.5,153.9 780.7,145.2 781,153.5 781.2,173.9 781.4,163 781.6,149.8 781.9,146.5 782.1,149.4 782.3,164.4 782.5,181.8 782.8,140.2 783,155.5 783.2,151.2 783.5,146 783.7,162.5 783.9,163.8 784.1,135.1 784.4,141.4 784.6,173.1 784.8,161 785.1,163.7 785.3,148.9 785.5,150.8 785.7,163.2 786,149.9 786.2,141.7 786.4,157 786.6,169.2 786.9,141.6 787.1,172.2 787.3,166.9 787.6,145.4 787.8,157.9 788,157.4 788.2,165.9 788.5,166 788.7,138.3 788.9,138.2 789.1,137.3 789.4,124.2 789.6,128.4 789.8,127.2 790.1,143.7 790.3,104.6 790.5,137.6 790.7,110.1 791,132.1 791.2,140.5 791.4,102.2 791.6,128.2 791.9,118.2 792.1,118.2 792.3,123.9 792.6,109.1 792.8,110 793,133.2 793.2,137.1 793.5,116.4 793.7,103.2 793.9,156.6 794.1,138.6 794.4,128.6 794.6,108.6 794.8,114.7 795.1,127.3 795.3,111 795.5,147.4 795.7,127.6 796,132 796.2,111.5 796.4,113.3 796.6,114.2 796.9,130.1 797.1,122.3 797.3,121.5 797.6,130.2 797.8,129.6 798,147.9 798.2,124 798.5,113.6 798.7,127.9 798.9,148.4 799.1,119.5 799.4,127 799.6,120.9 799.8,131.9 800.1,130 800.3,114.2 800.5,122.3 800.7,139.3 801,140.8 801.2,137.6 801.4,137.1 801.7,119.9 801.9,119.5 802.1,137.4 802.3,108 802.6,123.8 802.8,98.8 803,119.1 803.2,113.6 803.5,105.8 803.7,130.7 803.9,111.8 804.2,115.9 804.4,117.1 804.6,111 804.8,141.3 805.1,113.1 805.3,122.5 805.5,100.7 805.7,112.5 806,115.8 806.2,116 806.4,111.8 806.7,122.6 806.9,141.7 807.1,117.2 807.3,117.7 807.6,113.5 807.8,155.1 808,141.5 808.2,125.8 808.5,127.3 808.7,106.6 808.9,114.2 809.2,119.2 809.4,117.1 809.6,103.5 809.8,104.2 810.1,122.1 810.3,119 810.5,85.1 810.7,116.5 811,132.8 811.2,105.5 811.4,118.8 811.7,94.7 811.9,127.7 812.1,100.5 812.3,98.8 812.6,111.5 812.8,150.1 813,108.2 813.2,98.9 813.5,123.4 813.7,120 813.9,140.2 814.2,98.5 814.4,92.9 814.6,111.1 814.8,121.4 815.1,121.8 815.3,131.9 815.5,95.7 815.7,105 816,116.3 816.2,130.1 816.4,124.9 816.7,112.1 816.9,102.5 817.1,129.5 817.3,130.6 817.6,156.1 817.8,114.6 818,139.3 818.3,99.2 818.5,108.8 818.7,106.6 818.9,108.5 819.2,102.4 819.4,107 819.6,113.3 819.8,108.3 820.1,125.3 820.3,114.6 820.5,115.6 820.8,136.6 821,120.1 821.2,118 821.4,114.7 821.7,116.5 821.9,123.9 822.1,103.8 822.3,130.7 822.6,136.6 822.8,131.4 823,108.9 823.3,93 823.5,109.4 823.7,117 823.9,126.8 824.2,111.8 824.4,109.9 824.6,135.2 824.8,103.9 825.1,127.5 825.3,125.6 825.5,94.9 825.8,117.3 826,106.5 826.2,101.5 826.4,88.1 826.7,92 826.9,120 827.1,108.8 827.3,119.2 827.6,100.1 827.8,109.9 828,110.9 828.3,92.1 828.5,90.6 828.7,121.5 828.9,118.8 829.2,103.6 829.4,115.2 829.6,126.2 829.8,143.2 830.1,104.3 830.3,125.1 830.5,146.8 830.8,118.4 831,138.8 831.2,82.2 831.4,139.8 831.7,119 831.9,91.3 832.1,129.6 832.3,133.6 832.6,135.6 832.8,135.6 833,117.9 833.3,108.6 833.5,113.1 833.7,119.2 833.9,125.7 834.2,113 834.4,121.1 834.6,133.1 834.8,124.8 835.1,152.6 835.3,150.7 835.5,103.4 835.8,112.4 836,101.9 836.2,104.7 836.4,128.9 836.7,107.9 836.9,107.6 837.1,119 837.4,133.5 837.6,118.2 837.8,117.3 838,135.5 838.3,129.2 838.5,129 838.7,135 838.9,107.6 839.2,123.3 839.4,112.3 839.6,135 839.9,131.2 840.1,104.5 840.3,139.1 840.5,102.8 840.8,134.9 841,121.4 841.2,105.3 841.4,101.4 841.7,113.2 841.9,117.6 842.1,108.1 842.4,126 842.6,97.9 842.8,117 843,116.8 843.3,90.9 843.5,121.9 843.7,100.1 843.9,82.4 844.2,108.7 844.4,115 844.6,130.6 844.9,110.8 845.1,137.9 845.3,136.2 845.5,132.4 845.8,134.4 846,120.8 846.2,107.7 846.4,124.1 846.7,128.3 846.9,118.2 847.1,112 847.4,93.2 847.6,124.2 847.8,120.3 848,97.2 848.3,117 848.5,124.3 848.7,113.1 848.9,125.3 849.2,125.8 849.4,93.7 849.6,110.4 849.9,121.3 850.1,128.1 850.3,135.4 850.5,87.9 850.8,113.7 851,126.3 851.2,132.9 851.4,139.8 851.7,102.8 851.9,111.6 852.1,101.1 852.4,128.1 852.6,97.4 852.8,133.2 853,130.6 853.3,124 853.5,85.6 853.7,107 854,127.5 854.2,96.9 854.4,113.7 854.6,116 854.9,130.2 855.1,121.2 855.3,121.1 855.5,111.7 855.8,118.9 856,117.3 856.2,128.7 856.5,116.7 856.7,134.6 856.9,95.6 857.1,136.5 857.4,115.2 857.6,135 857.8,120.3 858,131.3 858.3,140.4 858.5,111.9 858.7,120.5 859,116.4 859.2,122.4 859.4,96.7 859.6,116.6 859.9,113.9 860.1,105.9 860.3,114.6 860.5,94.9 860.8,137 861,123.3 861.2,144 861.5,104.5 861.7,100.7 861.9,120.5 862.1,92.3 862.4,120.4 862.6,107.1 862.8,111.6 863,120.2 863.3,117.7 863.5,144 863.7,127.3 864,99.7 864.2,132.2 864.4,98.2 864.6,118.7 864.9,99.3 865.1,104.7 865.3,135.5 865.5,109.1 865.8,107 866,107.8 866.2,111 866.5,136.1 866.7,97.8 866.9,96.3 867.1,122.9 867.4,91.1 867.6,108.2 867.8,129.5 868,113.1 868.3,105.8 868.5,102.4 868.7,99 869,104.5 869.2,116.3 869.4,132.4 869.6,127.4 869.9,104.7 870.1,102.2 870.3,122.5 870.6,87.2 870.8,107 871,108 871.2,96.6 871.5,98.6 871.7,118.7 871.9,90.2 872.1,101.6 872.4,105.5 872.6,116 872.8,94.3 873.1,128.3 873.3,108.5 873.5,109.1 873.7,107.7 874,102.8 874.2,97.9 874.4,129 874.6,115.5 874.9,111.1 875.1,126.5 875.3,101.5 875.6,119.9 875.8,110.9 876,97.5 876.2,121.9 876.5,90.3 876.7,121.2 876.9,101 877.1,119.2 877.4,132.6 877.6,120.7 877.8,104 878.1,113.2 878.3,108.2 878.5,97.7 878.7,99.1 879,114.6 879.2,121.5 879.4,88.6 879.6,113 879.9,122 880.1,116.5 880.3,99.4 880.6,131 880.8,94.1 881,335.9 881.2,352.9 881.5,286.5 881.7,329.2 881.9,332.7 882.1,330.1 882.4,308.1 882.6,316.8 882.8,293.8 883.1,328.4 883.3,338.3 883.5,309.5 883.7,302.8 884,316.1 884.2,327.4 884.4,328.5 884.6,324.4 884.9,331.4 885.1,292.8 885.3,253.1 885.6,348.4 885.8,370.3 886,290.9 886.2,311.3 886.5,338.4 886.7,355.5 886.9,347.2 887.2,364.9 887.4,327 887.6,339.8 887.8,340.9 888.1,317.4 888.3,361.6 888.5,344.5 888.7,352.4 889,314.6 889.2,352.8 889.4,294.7 889.7,334.7 889.9,247.8 890.1,293.7 890.3,341.9 890.6,307.8 890.8,324.7 891,275.8 891.2,366.3 891.5,339.7 891.7,320.5 891.9,331.5 892.2,329.9 892.4,361.2 892.6,327.2 892.8,280.7 893.1,313 893.3,359.2 893.5,339.2 893.7,309.4 894,338.3 894.2,325.8 894.4,339.1 894.7,276.7 894.9,297.4 895.1,341.9 895.3,317.1 895.6,334.3 895.8,374.4 896,310.9 896.2,326.8 896.5,304.7 896.7,302.2 896.9,316.1 897.2,276 897.4,258 897.6,358.7 897.8,316.1 898.1,350.3 898.3,323.5 898.5,324.9 898.7,342 899,344.1 899.2,289 899.4,359.3 899.7,299.3 899.9,331 900.1,399.9 900.3,330.3 900.6,377.3 900.8,319.2 901,347.2 901.2,332.1 901.5,344.8 901.7,311.2 901.9,310.2 902.2,346.8 902.4,292.9 902.6,313.5 902.8,353.4 903.1,316.3 903.3,307.3 903.5,300 903.8,336.6 904,321.2 904.2,338.2 904.4,329.6 904.7,386.4 904.9,323.5 905.1,278.8 905.3,336.7 905.6,331.4 905.8,337.6 906,288 906.3,364.8 906.5,331.1 906.7,330.6 906.9,286.8 907.2,344.6 907.4,328.1 907.6,369.9 907.8,319.4 908.1,297.4 908.3,335 908.5,304.9 908.8,344.6 909,302.1 909.2,329.3 909.4,325.5 909.7,332.3 909.9,321.2 910.1,312.2 910.3,334.8 910.6,317.5 910.8,337.4" fill="none" stroke="#c4c4c4" stroke-width="0.55" stroke-linejoin="round"/>
<polyline points="118.1,324.8 118.3,325.1 118.6,349.5 118.8,342.7 119,360.7 119.2,331.4 119.5,340.2 119.7,332.7 119.9,350.2 120.1,356.6 120.4,330.3 120.6,328.5 120.8,315.1 121.1,357.1 121.3,349.4 121.5,361 121.7,324.3 122,322.7 122.2,306.9 122.4,327.5 122.6,330.8 122.9,349.1 123.1,329.7 123.3,326 123.6,330.9 123.8,325.7 124,310.8 124.2,304.1 124.5,301.7 124.7,314.1 124.9,317.7 125.1,320.3 125.4,332.5 125.6,317.4 125.8,342.1 126.1,345.9 126.3,349.5 126.5,332.9 126.7,310.7 127,318 127.2,333.8 127.4,326.9 127.7,335 127.9,309.4 128.1,315.1 128.3,288.8 128.6,323.2 128.8,334 129,356.3 129.2,329.5 129.5,339.8 129.7,316.8 129.9,321.3 130.2,333.7 130.4,351.3 130.6,352.1 130.8,336.7 131.1,332 131.3,332.6 131.5,336.2 131.7,346.1 132,347.9 132.2,337.3 132.4,337.3 132.7,334 132.9,350.3 133.1,356.8 133.3,355 133.6,316.8 133.8,317.3 134,327.2 134.2,342.6 134.5,314.8 134.7,296.1 134.9,316 135.2,327 135.4,335.7 135.6,331.4 135.8,353.7 136.1,356.4 136.3,354.6 136.5,338.6 136.7,355.5 137,365.7 137.2,369 137.4,339.5 137.7,322.2 137.9,328.4 138.1,334.1 138.3,349.8 138.6,347.6 138.8,357 139,354.1 139.2,355.3 139.5,344 139.7,334.9 139.9,353.3 140.2,351 140.4,350.4 140.6,336.4 140.8,345.3 141.1,342.4 141.3,318.9 141.5,325.5 141.7,345.9 142,370.2 142.2,365.5 142.4,364.7 142.7,344 142.9,344.2 143.1,328.5 143.3,339.1 143.6,343.2 143.8,358.9 144,348.9 144.3,353.7 144.5,341.4 144.7,343.7 144.9,330.6 145.2,285.9 145.4,293.2 145.6,296.9 145.8,308.3 146.1,313.3 146.3,308.4 146.5,309.9 146.8,294.7 147,297.1 147.2,290.6 147.4,298.7 147.7,298.7 147.9,307 148.1,297.7 148.3,287.3 148.6,284.3 148.8,300.4 149,316.2 149.3,325.2 149.5,330.6 149.7,331 149.9,325.4 150.2,308.7 150.4,298 150.6,296.3 150.8,305.6 151.1,313.8 151.3,315.5 151.5,312.8 151.8,314.8 152,315.6 152.2,320.1 152.4,318.3 152.7,312.6 152.9,302.9 153.1,304.7 153.3,310.7 153.6,314.4 153.8,308.4 154,320.4 154.3,317.9 154.5,319.6 154.7,307.3 154.9,304.9 155.2,306.7 155.4,317.4 155.6,330.6 155.8,333 156.1,323.9 156.3,317.2 156.5,318.7 156.8,313.6 157,310.4 157.2,305.9 157.4,312 157.7,315.8 157.9,319.1 158.1,300.1 158.3,306.1 158.6,318.1 158.8,340.6 159,329.9 159.3,307.7 159.5,300.9 159.7,296.7 159.9,306.2 160.2,301.4 160.4,314.8 160.6,319.5 160.9,308.1 161.1,303 161.3,288.5 161.5,295 161.8,288.5 162,293.7 162.2,310.4 162.4,303.9 162.7,311.1 162.9,317.5 163.1,333.2 163.4,329.2 163.6,316.5 163.8,304.4 164,302.4 164.3,304.7 164.5,317.6 164.7,331.8 164.9,333.8 165.2,331.3 165.4,325 165.6,310.4 165.9,299.7 166.1,286.1 166.3,290.5 166.5,301.3 166.8,301.9 167,317.3 167.2,322.3 167.4,330.2 167.7,315.8 167.9,311.3 168.1,311.9 168.4,307 168.6,305.2 168.8,303.9 169,312.2 169.3,321.2 169.5,325.3 169.7,318.1 169.9,307.6 170.2,294 170.4,302.8 170.6,296.5 170.9,308.4 171.1,307.6 171.3,318.4 171.5,311.3 171.8,299.4 172,302.9 172.2,302.3 172.4,321 172.7,311.4 172.9,316.6 173.1,319.8 173.4,317.1 173.6,322.2 173.8,298.7 174,302.1 174.3,291.3 174.5,300.8 174.7,295.4 174.9,298.2 175.2,310.2 175.4,296.1 175.6,294.8 175.9,279.4 176.1,299.9 176.3,296.9 176.5,304.8 176.8,294.7 177,303.4 177.2,306.7 177.5,306.3 177.7,302.3 177.9,285.3 178.1,289.9 178.4,296.5 178.6,301.7 178.8,306.6 179,287.4 179.3,279.1 179.5,261 179.7,271 180,283.2 180.2,292.3 180.4,294.5 180.6,299.4 180.9,295.6 181.1,287.1 181.3,274.4 181.5,292.1 181.8,285.1 182,291.8 182.2,286.3 182.5,304.3 182.7,300.4 182.9,290.7 183.1,294.1 183.4,306.6 183.6,301.1 183.8,301.3 184,295.7 184.3,309.3 184.5,314.2 184.7,310.4 185,293.8 185.2,287.4 185.4,300.8 185.6,315.4 185.9,314 186.1,318.1 186.3,307 186.5,311.3 186.8,292 187,299.4 187.2,294.5 187.5,307.1 187.7,300.4 187.9,296.2 188.1,275.5 188.4,284.1 188.6,284.5 188.8,296 189,285.9 189.3,287.2 189.5,290.6 189.7,297.3 190,303.5 190.2,299.5 190.4,298.6 190.6,284.6 190.9,287.2 191.1,289.7 191.3,307.8 191.5,287.6 191.8,275.4 192,254.3 192.2,262.4 192.5,280.3 192.7,298.7 192.9,305.1 193.1,297.3 193.4,298.4 193.6,296.9 193.8,299.2 194.1,296.3 194.3,283.7 194.5,278.3 194.7,286.7 195,298.8 195.2,301.1 195.4,287.3 195.6,286.9 195.9,295.2 196.1,296.9 196.3,293.5 196.6,265.1 196.8,263.6 197,257.5 197.2,265 197.5,274.2 197.7,291.6 197.9,289.9 198.1,289.9 198.4,288.8 198.6,296.1 198.8,295.8 199.1,283.5 199.3,281.7 199.5,267.5 199.7,270.6 200,283.6 200.2,284.6 200.4,284.5 200.6,273.3 200.9,283.8 201.1,289.8 201.3,302.4 201.6,296.3 201.8,290.3 202,281.7 202.2,287.3 202.5,290.1 202.7,295.5 202.9,307.5 203.1,309.5 203.4,306.9 203.6,304.7 203.8,304.1 204.1,298.2 204.3,281.2 204.5,288.1 204.7,296.3 205,302.9 205.2,299 205.4,303.6 205.6,310.5 205.9,301 206.1,292.5 206.3,287.6 206.6,301.5 206.8,298.3 207,293.1 207.2,286.4 207.5,276.2 207.7,280.5 207.9,279.6 208.1,294.3 208.4,288.7 208.6,289.6 208.8,279.8 209.1,280.9 209.3,288.5 209.5,293.7 209.7,304.2 210,292.5 210.2,295.5 210.4,282.4 210.6,286.4 210.9,282.2 211.1,295.7 211.3,299.9 211.6,302 211.8,304.7 212,305.7 212.2,309.2 212.5,308 212.7,306.3 212.9,299.9 213.2,296.6 213.4,294.8 213.6,299.1 213.8,304.1 214.1,311.5 214.3,306.8 214.5,291.1 214.7,285.5 215,287.2 215.2,303.1 215.4,300.8 215.7,299.8 215.9,297.5 216.1,297.9 216.3,297.9 216.6,304.6 216.8,317.6 217,324.5 217.2,314.8 217.5,298 217.7,297.9 217.9,298 218.2,306.8 218.4,299.4 218.6,300.5 218.8,298.7 219.1,303.7 219.3,312.2 219.5,314.8 219.7,301.5 220,285.2 220.2,271.5 220.4,276 220.7,286.7 220.9,299.3 221.1,300 221.3,297.2 221.6,290.2 221.8,284.8 222,274.1 222.2,272.3 222.5,290.6 222.7,289.8 222.9,304.6 223.2,304.2 223.4,311.5 223.6,302.5 223.8,289.3 224.1,291.5 224.3,295.8 224.5,299.2 224.7,306 225,311.7 225.2,289.9 225.4,285.3 225.7,277.3 225.9,278.8 226.1,268.8 226.3,271.8 226.6,271 226.8,273.5 227,285.7 227.2,277.7 227.5,279.2 227.7,267.6 227.9,261.6 228.2,263 228.4,250.3 228.6,257.2 228.8,260.9 229.1,273.5 229.3,287.6 229.5,292.9 229.8,296.4 230,292.2 230.2,283.6 230.4,282.9 230.7,274.8 230.9,273.8 231.1,275.8 231.3,284.8 231.6,290.1 231.8,286.2 232,288.8 232.3,279.4 232.5,272.6 232.7,259.3 232.9,268.4 233.2,264.3 233.4,280.5 233.6,282.3 233.8,281.3 234.1,272.1 234.3,261.4 234.5,267.4 234.8,270.4 235,279.9 235.2,267.4 235.4,261.6 235.7,262.4 235.9,276.6 236.1,288.1 236.3,278.2 236.6,280.6 236.8,268 237,276.7 237.3,276.9 237.5,285.2 237.7,279.1 237.9,277.7 238.2,266 238.4,259.8 238.6,261.9 238.8,268.2 239.1,267 239.3,258.2 239.5,257.8 239.8,277.9 240,290.1 240.2,296.7 240.4,274.2 240.7,266.9 240.9,265.1 241.1,279 241.3,282.7 241.6,279.9 241.8,288.2 242,295.5 242.3,296.4 242.5,279.9 242.7,282.8 242.9,280.8 243.2,294 243.4,293.3 243.6,290.6 243.8,284.5 244.1,269.1 244.3,280 244.5,280.5 244.8,295.7 245,296.8 245.2,294.2 245.4,288.9 245.7,283 245.9,280.8 246.1,287.5 246.4,284.3 246.6,283.9 246.8,270.7 247,269.5 247.3,258.6 247.5,265.7 247.7,267 247.9,275.5 248.2,265.5 248.4,263.3 248.6,258.5 248.9,262.7 249.1,283.7 249.3,295.6 249.5,299.5 249.8,275 250,270.1 250.2,216.6 250.4,231.5 250.7,231 250.9,239.3 251.1,231.7 251.4,229.4 251.6,219.4 251.8,223.5 252,217.2 252.3,220.9 252.5,215.4 252.7,218.6 252.9,226.8 253.2,235 253.4,240.3 253.6,239.9 253.9,233.5 254.1,237.4 254.3,223.7 254.5,226.6 254.8,215.4 255,220.2 255.2,218.9 255.4,221.5 255.7,232.2 255.9,239.6 256.1,227.2 256.4,222.5 256.6,228.1 256.8,248.4 257,258.1 257.3,246.7 257.5,231.9 257.7,215 257.9,218.5 258.2,233.5 258.4,235.9 258.6,228.7 258.9,223.4 259.1,217.4 259.3,217.7 259.5,227.2 259.8,253.1 260,254 260.2,256 260.4,239.3 260.7,233.8 260.9,207.3 261.1,217.4 261.4,220.3 261.6,250 261.8,245.7 262,249.2 262.3,221.9 262.5,229.2 262.7,226.7 263,238.5 263.2,214.5 263.4,222.9 263.6,230.3 263.9,242 264.1,235.5 264.3,230.7 264.5,241.3 264.8,242.3 265,251.1 265.2,244.1 265.5,240.1 265.7,226.4 265.9,211.4 266.1,210.2 266.4,221.2 266.6,239.7 266.8,239.2 267,233.7 267.3,220.5 267.5,223.7 267.7,225.2 268,242.5 268.2,240.4 268.4,242.9 268.6,250.7 268.9,253.3 269.1,252.7 269.3,230.9 269.5,221.5 269.8,221.5 270,232.5 270.2,245.8 270.5,238.1 270.7,237.2 270.9,240.8 271.1,255.3 271.4,254.9 271.6,239.7 271.8,238.6 272,244.6 272.3,259.8 272.5,253.8 272.7,265.4 273,260.8 273.2,263.6 273.4,235.4 273.6,232 273.9,223.8 274.1,236.6 274.3,242.8 274.5,240.7 274.8,251.7 275,243.3 275.2,245.3 275.5,235.8 275.7,233.6 275.9,239.3 276.1,243.3 276.4,250 276.6,258.7 276.8,255.1 277,258.6 277.3,239.8 277.5,227.6 277.7,222.3 278,226.5 278.2,232.5 278.4,241.7 278.6,228 278.9,222.9 279.1,206 279.3,230.4 279.6,233.4 279.8,241.4 280,225.8 280.2,236.1 280.5,236.4 280.7,245.2 280.9,226.7 281.1,236.6 281.4,238.5 281.6,255.2 281.8,254.8 282.1,251.3 282.3,246.8 282.5,243.2 282.7,247.4 283,246.6 283.2,243.4 283.4,236.9 283.6,242.4 283.9,247.6 284.1,251.4 284.3,259.7 284.6,243.3 284.8,242.1 285,240 285.2,248.9 285.5,240.5 285.7,237.4 285.9,242.4 286.1,245.2 286.4,242 286.6,232.2 286.8,230.8 287.1,225.1 287.3,228.6 287.5,230.4 287.7,230.8 288,225.7 288.2,233.1 288.4,234.7 288.6,246.4 288.9,242.5 289.1,233.8 289.3,221.1 289.6,222 289.8,239.4 290,253.3 290.2,250.1 290.5,246.8 290.7,235 290.9,244.9 291.1,237 291.4,250.2 291.6,247.8 291.8,248.3 292.1,245.4 292.3,234.5 292.5,235.5 292.7,239.9 293,273.6 293.2,277.9 293.4,272.1 293.6,239.2 293.9,242 294.1,230.3 294.3,231.8 294.6,227.8 294.8,230.7 295,246.3 295.2,251.1 295.5,255.7 295.7,242.1 295.9,225.8 296.2,219.1 296.4,226.2 296.6,238.3 296.8,249.8 297.1,247.5 297.3,238 297.5,239 297.7,227.1 298,230.6 298.2,237 298.4,254.2 298.7,251.1 298.9,239.3 299.1,238.6 299.3,252.2 299.6,243.6 299.8,232.1 300,221.2 300.2,240.1 300.5,236.4 300.7,239.5 300.9,229.4 301.2,250.1 301.4,249.1 301.6,250.6 301.8,234.2 302.1,239.2 302.3,244.3 302.5,239 302.7,233.2 303,219.9 303.2,221.9 303.4,212.6 303.7,212.3 303.9,213.2 304.1,214.3 304.3,226.2 304.6,236.4 304.8,240.9 305,230.4 305.2,229.7 305.5,217.7 305.7,212.2 305.9,213.5 306.2,231.2 306.4,249.2 306.6,242.8 306.8,229.2 307.1,219.9 307.3,223.6 307.5,225.9 307.7,225.5 308,213.5 308.2,210.5 308.4,219.8 308.7,230.9 308.9,230.7 309.1,218.1 309.3,212 309.6,223.9 309.8,223.4 310,227.3 310.2,211 310.5,209.9 310.7,214 310.9,235 311.2,236.2 311.4,228.6 311.6,229 311.8,233.6 312.1,235 312.3,232.5 312.5,235.3 312.8,246.6 313,248.1 313.2,243.4 313.4,235.6 313.7,229.7 313.9,224.3 314.1,217.5 314.3,224.1 314.6,222.8 314.8,235.3 315,231.1 315.3,239.5 315.5,236.2 315.7,237 315.9,246.9 316.2,240.6 316.4,236.7 316.6,228.8 316.8,243.1 317.1,251 317.3,248.7 317.5,234.8 317.8,222.9 318,228.3 318.2,232.1 318.4,251.8 318.7,239.9 318.9,245 319.1,233.3 319.3,240.6 319.6,231.9 319.8,225.4 320,230 320.3,238 320.5,232.8 320.7,241.5 320.9,234.1 321.2,253.3 321.4,247.9 321.6,257.9 321.8,250.7 322.1,254.9 322.3,247.3 322.5,238.6 322.8,235.3 323,239.5 323.2,258.7 323.4,241.1 323.7,236.2 323.9,228.4 324.1,235.1 324.3,235.1 324.6,240.8 324.8,257.8 325,252.4 325.3,247.8 325.5,247 325.7,257.4 325.9,251.1 326.2,244.6 326.4,235.3 326.6,229.7 326.8,232.7 327.1,240.3 327.3,257.2 327.5,250.6 327.8,234.1 328,220.6 328.2,223.8 328.4,240.2 328.7,243 328.9,235.8 329.1,241.1 329.4,235.9 329.6,245.7 329.8,235.6 330,232 330.3,236.6 330.5,222.5 330.7,224.6 330.9,219.1 331.2,232.9 331.4,243.4 331.6,239.1 331.9,238.5 332.1,248 332.3,246.7 332.5,247.8 332.8,226.5 333,222.9 333.2,228.4 333.4,238.7 333.7,243.6 333.9,233.5 334.1,234.3 334.4,223.5 334.6,224.6 334.8,218.8 335,224.7 335.3,228.1 335.5,224.9 335.7,225.5 335.9,235.5 336.2,245 336.4,258.1 336.6,247.1 336.9,249.2 337.1,246.2 337.3,253.3 337.5,262.3 337.8,257.1 338,251.1 338.2,235.1 338.4,214.4 338.7,204.4 338.9,205 339.1,230.3 339.4,234.8 339.6,242.4 339.8,245.6 340,246.5 340.3,248.4 340.5,251.8 340.7,256.4 340.9,241 341.2,239.2 341.4,235.6 341.6,238.8 341.9,230.5 342.1,228.1 342.3,237.1 342.5,241.3 342.8,251.9 343,249.3 343.2,240.6 343.4,232.6 343.7,234.2 343.9,236 344.1,255 344.4,247.7 344.6,247.4 344.8,236.1 345,241.4 345.3,245.7 345.5,237.6 345.7,236.3 346,242.2 346.2,247.5 346.4,244.1 346.6,242.1 346.9,243.1 347.1,250.8 347.3,229.3 347.5,218.9 347.8,209.3 348,226.9 348.2,234.7 348.5,245.9 348.7,251.6 348.9,250.4 349.1,244.3 349.4,250.8 349.6,248 349.8,250.4 350,248.8 350.3,254.8 350.5,239.7 350.7,231.5 351,225.5 351.2,237.7 351.4,241.3 351.6,247 351.9,246.1 352.1,246 352.3,245.7 352.5,248.4 352.8,246.1 353,244.7 353.2,240.7 353.5,235.4 353.7,234.3 353.9,230 354.1,225.8 354.4,233.5 354.6,237.7 354.8,245.4 355,235.7 355.3,237 355.5,238.3 355.7,240 356,237 356.2,243.1 356.4,238.3 356.6,249.9 356.9,232.4 357.1,230 357.3,229.6 357.5,241.8 357.8,244.9 358,240.8 358.2,234.5 358.5,239.3 358.7,222.3 358.9,226.2 359.1,221.1 359.4,238.7 359.6,247.7 359.8,247.3 360,253.4 360.3,243.2 360.5,234.9 360.7,209.6 361,223.1 361.2,236.9 361.4,247.5 361.6,233.4 361.9,227.4 362.1,239.7 362.3,243.3 362.5,261.7 362.8,253.1 363,238.6 363.2,232.7 363.5,233.1 363.7,245.6 363.9,249.8 364.1,250.2 364.4,259.9 364.6,249.2 364.8,246.2 365.1,243 365.3,238 365.5,250.8 365.7,215.5 366,219.4 366.2,215.6 366.4,211.9 366.6,208.9 366.9,210.2 367.1,206 367.3,211.5 367.6,199.5 367.8,199.1 368,198.7 368.2,199.7 368.5,196.2 368.7,189.8 368.9,198.1 369.1,195.8 369.4,202.6 369.6,207.7 369.8,215.4 370.1,202.5 370.3,192.5 370.5,197 370.7,203.9 371,209.6 371.2,206.2 371.4,210.2 371.6,201.2 371.9,194.7 372.1,190.5 372.3,192.6 372.6,198.5 372.8,203 373,199.3 373.2,195.4 373.5,194 373.7,184 373.9,178 374.1,169.6 374.4,178.8 374.6,182.1 374.8,187 375.1,181.9 375.3,186.8 375.5,191.7 375.7,186.5 376,182.6 376.2,174.4 376.4,195.3 376.6,191.7 376.9,195.3 377.1,186 377.3,187.2 377.6,189 377.8,197.5 378,200.5 378.2,207.9 378.5,205.3 378.7,197.8 378.9,202.8 379.1,198.9 379.4,211 379.6,195.6 379.8,195.4 380.1,189.8 380.3,191.8 380.5,201.7 380.7,204.4 381,204.7 381.2,191.3 381.4,192.5 381.7,201.2 381.9,204 382.1,207.1 382.3,208.7 382.6,197 382.8,186.6 383,170.6 383.2,177.3 383.5,191 383.7,201.5 383.9,195.5 384.2,184.6 384.4,187.7 384.6,192.3 384.8,195.1 385.1,191.2 385.3,182.5 385.5,189 385.7,188.8 386,204.2 386.2,192.9 386.4,185 386.7,176.3 386.9,185 387.1,191.8 387.3,196.7 387.6,206.7 387.8,215.5 388,208.7 388.2,193 388.5,196.8 388.7,199.4 388.9,212.2 389.2,210.6 389.4,209.9 389.6,200.8 389.8,190.3 390.1,188.1 390.3,183.4 390.5,179.4 390.7,189.5 391,194.6 391.2,197.3 391.4,188.9 391.7,183 391.9,195.4 392.1,183.3 392.3,187.9 392.6,181.3 392.8,188.7 393,195.7 393.2,200.5 393.5,203.2 393.7,199.1 393.9,183.2 394.2,191.1 394.4,190.9 394.6,198.6 394.8,204.6 395.1,208.7 395.3,213.7 395.5,208.2 395.7,195.9 396,189.9 396.2,189.1 396.4,187.1 396.7,193 396.9,191.1 397.1,202.6 397.3,189.2 397.6,190.1 397.8,189.1 398,194.1 398.3,195.6 398.5,179.6 398.7,190.6 398.9,181.8 399.2,180.8 399.4,165.1 399.6,165.9 399.8,184.1 400.1,184.8 400.3,192.4 400.5,183.8 400.8,205.6 401,207.9 401.2,227 401.4,204.7 401.7,205.5 401.9,187.6 402.1,198.1 402.3,199.4 402.6,196.3 402.8,184.2 403,171.2 403.3,171.5 403.5,174.6 403.7,176.2 403.9,177.4 404.2,182.3 404.4,191.6 404.6,192.8 404.8,188.5 405.1,186.2 405.3,195.1 405.5,195.8 405.8,201.5 406,209.4 406.2,218.2 406.4,212 406.7,219 406.9,225.7 407.1,225.3 407.3,212.9 407.6,209.9 407.8,207.1 408,209.2 408.3,202.6 408.5,204 408.7,200.4 408.9,191.5 409.2,192.8 409.4,182 409.6,209 409.8,222.5 410.1,242 410.3,230.7 410.5,228.6 410.8,229.5 411,234.8 411.2,236 411.4,222.3 411.7,218.8 411.9,209.1 412.1,206.7 412.3,196.5 412.6,201.7 412.8,216.8 413,215.7 413.3,224.8 413.5,229.5 413.7,236.1 413.9,223.1 414.2,213 414.4,222 414.6,223.7 414.9,217.7 415.1,213.3 415.3,203.3 415.5,212.7 415.8,216.7 416,233 416.2,238 416.4,233.7 416.7,237.4 416.9,232.3 417.1,222.6 417.4,217 417.6,215.7 417.8,229.2 418,241.8 418.3,245.4 418.5,234 418.7,218.7 418.9,215.7 419.2,228.6 419.4,236.2 419.6,237.3 419.9,222.8 420.1,225.7 420.3,227.2 420.5,230.8 420.8,226.4 421,234.1 421.2,233.1 421.4,243.9 421.7,239.9 421.9,242.9 422.1,237.5 422.4,227.5 422.6,221.7 422.8,214.8 423,209.7 423.3,218.9 423.5,220.7 423.7,230.8 423.9,233 424.2,214.5 424.4,213.1 424.6,195.7 424.9,216.5 425.1,210.2 425.3,221.9 425.5,229.1 425.8,223.1 426,224.1 426.2,214.1 426.4,212.1 426.7,215.4 426.9,217 427.1,225.9 427.4,216.3 427.6,238.3 427.8,238.7 428,232.9 428.3,206.9 428.5,206.3 428.7,216.6 428.9,222.4 429.2,217 429.4,223.2 429.6,221 429.9,218 430.1,209.4 430.3,208.9 430.5,223.2 430.8,230.1 431,230.7 431.2,224.8 431.5,223.1 431.7,239 431.9,235.1 432.1,236.5 432.4,228 432.6,225.6 432.8,223.9 433,220.4 433.3,223.2 433.5,225.2 433.7,229.6 434,239.6 434.2,235.7 434.4,228.9 434.6,235.5 434.9,228.4 435.1,227.9 435.3,217.8 435.5,225.3 435.8,228.5 436,222.1 436.2,225.9 436.5,230.7 436.7,227.8 436.9,223.8 437.1,215.6 437.4,214.5 437.6,213 437.8,205.8 438,213.5 438.3,225.3 438.5,243.4 438.7,246.5 439,228.9 439.2,227.5 439.4,213.9 439.6,219.7 439.9,219.9 440.1,216.6 440.3,222.1 440.5,212.7 440.8,218 441,207 441.2,207.4 441.5,205.3 441.7,218.9 441.9,224.1 442.1,219.2 442.4,209.3 442.6,200.7 442.8,202 443,198.1 443.3,199.5 443.5,206 443.7,201.9 444,198.1 444.2,201.4 444.4,203.7 444.6,201 444.9,207.6 445.1,222.8 445.3,218.1 445.5,199.2 445.8,192 446,193.4 446.2,201.5 446.5,196.4 446.7,207.7 446.9,193 447.1,181.4 447.4,170.1 447.6,193 447.8,205.7 448.1,203.1 448.3,199.6 448.5,205 448.7,214.4 449,207.1 449.2,203.9 449.4,212.6 449.6,215.2 449.9,215.8 450.1,207 450.3,202.8 450.6,192.5 450.8,194.5 451,193.3 451.2,196.4 451.5,181.2 451.7,185.1 451.9,190.8 452.1,174.1 452.4,173.3 452.6,164.5 452.8,170 453.1,160.7 453.3,171.9 453.5,181.6 453.7,182.6 454,165.3 454.2,160.6 454.4,161.3 454.6,178.7 454.9,169.1 455.1,161.6 455.3,149.5 455.6,159.6 455.8,172.4 456,180.7 456.2,194.2 456.5,191.3 456.7,183.9 456.9,159.5 457.1,163.4 457.4,171.7 457.6,181.9 457.8,188.8 458.1,182.7 458.3,194.4 458.5,189.3 458.7,182.8 459,168.2 459.2,156.2 459.4,151.5 459.6,157.5 459.9,172.2 460.1,194.2 460.3,192.7 460.6,184.8 460.8,166.5 461,173.1 461.2,178.1 461.5,181.5 461.7,180.2 461.9,181.1 462.1,172.6 462.4,175.3 462.6,171.9 462.8,181.6 463.1,174.5 463.3,184.4 463.5,197.6 463.7,213.2 464,195.3 464.2,180.7 464.4,175.3 464.7,175.2 464.9,175.8 465.1,160 465.3,179 465.6,189.7 465.8,203.9 466,192.5 466.2,184.1 466.5,178.9 466.7,182.4 466.9,180.1 467.2,189.5 467.4,182.6 467.6,182.5 467.8,182.5 468.1,183.4 468.3,192.2 468.5,181.9 468.7,168.9 469,168.4 469.2,163.8 469.4,184 469.7,170.5 469.9,167.9 470.1,162.7 470.3,174.4 470.6,186 470.8,178.7 471,181.8 471.2,171.5 471.5,176.5 471.7,167 471.9,156.8 472.2,164.7 472.4,165.6 472.6,170.2 472.8,170.7 473.1,163.5 473.3,152.6 473.5,146.5 473.7,153.1 474,161.7 474.2,151.1 474.4,158.4 474.7,160.7 474.9,170.8 475.1,159.4 475.3,153.6 475.6,151 475.8,161.9 476,161.7 476.2,168.6 476.5,162.4 476.7,169.9 476.9,153.2 477.2,149.9 477.4,144.8 477.6,150 477.8,161.1 478.1,151 478.3,160.7 478.5,150.1 478.7,154.9 479,155.4 479.2,159.3 479.4,159.7 479.7,170.5 479.9,171.7 480.1,169.3 480.3,162.1 480.6,166.4 480.8,179.1 481,182.8 481.3,173.6 481.5,173.8 481.7,170.2 481.9,175.4 482.2,170.8 482.4,148.2 482.6,144.1 482.8,152.4 483.1,158.9 483.3,158.7 483.5,149.9 483.8,162.5 484,174 484.2,162.5 484.4,160.3 484.7,155.5 484.9,158.2 485.1,158.1 485.3,162.7 485.6,177.5 485.8,180.4 486,156.5 486.3,149.7 486.5,149.8 486.7,163.3 486.9,163.4 487.2,178.7 487.4,179.3 487.6,175 487.8,160.5 488.1,159.6 488.3,163.8 488.5,163.1 488.8,168.6 489,172.2 489.2,166.2 489.4,161.2 489.7,162 489.9,166.6 490.1,172.9 490.3,175.7 490.6,172.3 490.8,168.6 491,175.3 491.3,188.3 491.5,187 491.7,180.9 491.9,167 492.2,158.9 492.4,157.3 492.6,163 492.8,174.3 493.1,171.1 493.3,170.5 493.5,165.3 493.8,168.6 494,172.1 494.2,174.3 494.4,176.9 494.7,162.5 494.9,159 495.1,162.7 495.3,182 495.6,186.8 495.8,178.4 496,162.7 496.3,162.8 496.5,167.1 496.7,166.9 496.9,168.7 497.2,168.2 497.4,179.2 497.6,170.1 497.9,170.8 498.1,159.6 498.3,173.4 498.5,170.4 498.8,172.4 499,172.6 499.2,177.7 499.4,180.3 499.7,184.4 499.9,172.7 500.1,177.1 500.4,170.9 500.6,163.6 500.8,166.9 501,159.8 501.3,171.7 501.5,161.2 501.7,163.5 501.9,158 502.2,157.8 502.4,154.5 502.6,153.6 502.9,167.5 503.1,162.9 503.3,164.7 503.5,155.2 503.8,163 504,172.8 504.2,178.7 504.4,176.4 504.7,169.4 504.9,165.5 505.1,172 505.4,177.7 505.6,174.8 505.8,158.8 506,166.5 506.3,174.1 506.5,186 506.7,176.7 506.9,168.6 507.2,161.7 507.4,158.7 507.6,159.9 507.9,161.4 508.1,155.7 508.3,156.5 508.5,161.5 508.8,166.6 509,167.8 509.2,152.9 509.4,154.2 509.7,153 509.9,157.3 510.1,149.3 510.4,152.3 510.6,154.5 510.8,166.3 511,161.6 511.3,168.8 511.5,164.6 511.7,158.7 511.9,155.1 512.2,155.9 512.4,168.3 512.6,166 512.9,165.4 513.1,167.5 513.3,176.1 513.5,181.4 513.8,181.6 514,177.5 514.2,176.3 514.4,174.6 514.7,174.3 514.9,169.8 515.1,165 515.4,175.8 515.6,175.2 515.8,172.1 516,157.7 516.3,157.5 516.5,160.4 516.7,155.4 517,144.5 517.2,145.6 517.4,142.9 517.6,154.1 517.9,153.7 518.1,169.3 518.3,177.9 518.5,179.9 518.8,171.2 519,155.6 519.2,149.5 519.5,152.4 519.7,147.9 519.9,152.5 520.1,152.8 520.4,168.5 520.6,165.4 520.8,166 521,158.3 521.3,157.4 521.5,146.9 521.7,151.9 522,162.8 522.2,173.2 522.4,174.2 522.6,160.6 522.9,167.4 523.1,161.8 523.3,170.6 523.5,162.9 523.8,162.2 524,162.3 524.2,161.2 524.5,168.3 524.7,165.4 524.9,164.6 525.1,160.4 525.4,161.4 525.6,160.4 525.8,163.2 526,156.5 526.3,150.8 526.5,147.2 526.7,149.6 527,158.5 527.2,168.8 527.4,162.3 527.6,162.9 527.9,144.1 528.1,147.5 528.3,143.5 528.5,143.7 528.8,140.2 529,142.5 529.2,154.4 529.5,164.6 529.7,159.1 529.9,169 530.1,169 530.4,167.9 530.6,164.5 530.8,169.9 531,172.7 531.3,170.4 531.5,167.8 531.7,172.8 532,166 532.2,159.7 532.4,162.2 532.6,161.9 532.9,162.8 533.1,154.3 533.3,159.4 533.6,163.3 533.8,167.8 534,166.9 534.2,170.1 534.5,162 534.7,161.7 534.9,166.3 535.1,179.4 535.4,185 535.6,181.8 535.8,182.7 536.1,182.3 536.3,178.4 536.5,183.7 536.7,184.1 537,189.9 537.2,189.9 537.4,183.8 537.6,174.7 537.9,171.7 538.1,169 538.3,175.2 538.6,168.4 538.8,174.8 539,174.4 539.2,170.8 539.5,166.4 539.7,167.2 539.9,166.3 540.1,162.5 540.4,156.8 540.6,156.4 540.8,161.1 541.1,169.9 541.3,183.6 541.5,189.4 541.7,190.3 542,186.1 542.2,186.2 542.4,179.8 542.6,176.1 542.9,169.5 543.1,171.1 543.3,164.8 543.6,161.6 543.8,161.1 544,156.6 544.2,162.8 544.5,165.1 544.7,171.6 544.9,170.7 545.1,174.7 545.4,170.5 545.6,167.9 545.8,154.6 546.1,145.3 546.3,135 546.5,152 546.7,154.8 547,169.1 547.2,168.9 547.4,175.8 547.6,181.4 547.9,183.9 548.1,192 548.3,196.3 548.6,190.5 548.8,181.6 549,171.6 549.2,165.9 549.5,163.1 549.7,153.4 549.9,168.5 550.2,173.7 550.4,181.6 550.6,163.2 550.8,167.6 551.1,165 551.3,166.7 551.5,160.6 551.7,154.5 552,152.3 552.2,159.7 552.4,179.3 552.7,189.6 552.9,198.1 553.1,188.9 553.3,182.5 553.6,165.1 553.8,162.4 554,152.3 554.2,157.3 554.5,166.1 554.7,180.3 554.9,188 555.2,177.1 555.4,167.4 555.6,158.2 555.8,158.3 556.1,172.4 556.3,185.3 556.5,183.7 556.7,175.3 557,163.7 557.2,166.4 557.4,161.8 557.7,163.9 557.9,167.3 558.1,176.2 558.3,169.6 558.6,166.4 558.8,153.8 559,164.6 559.2,159.8 559.5,167.6 559.7,160.2 559.9,161.5 560.2,157.8 560.4,150.2 560.6,163 560.8,169.8 561.1,181.2 561.3,182.3 561.5,180.1 561.7,181.8 562,169.8 562.2,175.9 562.4,176.8 562.7,177.9 562.9,170.8 563.1,169.9 563.3,173.7 563.6,163.8 563.8,160.8 564,151.6 564.2,160.4 564.5,150.3 564.7,155.6 564.9,153.1 565.2,161.7 565.4,155.4 565.6,151.4 565.8,149.3 566.1,141.5 566.3,145.5 566.5,147 566.8,156.7 567,161.7 567.2,161.5 567.4,173.1 567.7,175.2 567.9,170.1 568.1,154.4 568.3,148.6 568.6,153.7 568.8,153 569,151.4 569.3,161 569.5,163.4 569.7,168 569.9,156.1 570.2,155 570.4,164.7 570.6,168.9 570.8,177.1 571.1,153 571.3,152.5 571.5,152.1 571.8,180.9 572,177.7 572.2,163.1 572.4,156.7 572.7,154 572.9,154.4 573.1,147.6 573.3,156.9 573.6,172.8 573.8,180 574,169.5 574.3,176.5 574.5,166.5 574.7,170.8 574.9,148.2 575.2,161.6 575.4,164.2 575.6,177.4 575.8,172.2 576.1,169.6 576.3,164.9 576.5,154 576.8,160.3 577,165.6 577.2,173.9 577.4,167.4 577.7,164.1 577.9,175.5 578.1,177.9 578.3,176.7 578.6,166.5 578.8,156.4 579,153.9 579.3,158 579.5,165.3 579.7,167.3 579.9,172 580.2,175.1 580.4,175.8 580.6,175.8 580.8,174.5 581.1,172.4 581.3,171 581.5,159.2 581.8,167.8 582,158.9 582.2,173 582.4,167 582.7,179.8 582.9,175 583.1,169.8 583.4,168.9 583.6,169 583.8,175.7 584,169.5 584.3,172.4 584.5,176 584.7,176.2 584.9,163.3 585.2,156.7 585.4,156.2 585.6,174.8 585.9,178.6 586.1,177.6 586.3,174.2 586.5,172.7 586.8,173.4 587,168.2 587.2,160.2 587.4,165.7 587.7,166.1 587.9,173.4 588.1,162.2 588.4,161.1 588.6,170.1 588.8,172 589,164.3 589.3,159.9 589.5,155.3 589.7,148.2 589.9,144.3 590.2,148.2 590.4,158.7 590.6,158 590.9,162.9 591.1,162.6 591.3,161.3 591.5,157.6 591.8,161.7 592,170.4 592.2,178 592.4,176.6 592.7,153.5 592.9,142.6 593.1,137.9 593.4,158 593.6,154.1 593.8,162.5 594,162.6 594.3,167.5 594.5,160.5 594.7,156.8 594.9,155.4 595.2,158.3 595.4,158.2 595.6,155 595.9,148.8 596.1,151.1 596.3,152.7 596.5,163.4 596.8,157.9 597,173.5 597.2,171.4 597.4,171.7 597.7,163.7 597.9,165.4 598.1,169.5 598.4,162.6 598.6,157 598.8,168.5 599,167.5 599.3,171.2 599.5,160.7 599.7,168.4 600,163.3 600.2,161.1 600.4,166.5 600.6,172 600.9,169 601.1,171.1 601.3,159.8 601.5,168.5 601.8,160.4 602,173.7 602.2,172 602.5,177.4 602.7,172.3 602.9,176.3 603.1,172.5 603.4,183.9 603.6,173.1 603.8,177.5 604,168.5 604.3,175.3 604.5,166 604.7,167 605,158 605.2,153.4 605.4,155.4 605.6,154.6 605.9,169.8 606.1,163.9 606.3,174.7 606.5,168.1 606.8,172.7 607,168.7 607.2,166.4 607.5,162.9 607.7,170.3 607.9,178.4 608.1,186.3 608.4,182.2 608.6,174.9 608.8,158.8 609,160.5 609.3,166.5 609.5,172.5 609.7,173.9 610,176.4 610.2,178.6 610.4,179.2 610.6,173 610.9,163.6 611.1,153.6 611.3,149.9 611.5,162.2 611.8,159.4 612,159.4 612.2,151.6 612.5,155.6 612.7,157.6 612.9,168.7 613.1,173.7 613.4,175 613.6,171 613.8,168 614,167 614.3,173.6 614.5,158.4 614.7,156.4 615,149.7 615.2,169.4 615.4,166 615.6,166.6 615.9,165.1 616.1,167.9 616.3,155.5 616.6,149.7 616.8,145.4 617,159.2 617.2,156 617.5,171.6 617.7,169.1 617.9,169.7 618.1,157.1 618.4,149.6 618.6,155.5 618.8,166.8 619.1,171.6 619.3,174.4 619.5,161 619.7,163.4 620,170.6 620.2,168.6 620.4,174.1 620.6,168.2 620.9,165.8 621.1,151.8 621.3,140.7 621.6,156.7 621.8,162.8 622,167 622.2,165.9 622.5,169.7 622.7,171.5 622.9,166.5 623.1,171.3 623.4,164.7 623.6,176 623.8,167.6 624.1,167.7 624.3,162.5 624.5,166.5 624.7,160.1 625,158.2 625.2,148.3 625.4,155.5 625.6,159.3 625.9,161.8 626.1,168.7 626.3,162.3 626.6,177.7 626.8,175.9 627,171.7 627.2,154.7 627.5,149.8 627.7,156.6 627.9,163 628.1,172.3 628.4,170.9 628.6,172 628.8,168.3 629.1,166.7 629.3,167.9 629.5,169.9 629.7,175 630,169.8 630.2,155.7 630.4,147.8 630.6,152.4 630.9,148.3 631.1,150.4 631.3,151.7 631.6,162.6 631.8,159.7 632,166.7 632.2,176.5 632.5,180.9 632.7,178.6 632.9,178.1 633.2,173.2 633.4,180.1 633.6,167.8 633.8,172.6 634.1,152.4 634.3,157.8 634.5,151 634.7,157.5 635,163.4 635.2,172.1 635.4,170.9 635.7,174 635.9,168.8 636.1,175.8 636.3,165.7 636.6,171.7 636.8,166 637,169.2 637.2,166.5 637.5,160.1 637.7,156.9 637.9,159 638.2,162.3 638.4,157.8 638.6,151.3 638.8,149.2 639.1,154.6 639.3,160.4 639.5,164.7 639.7,162.6 640,162.5 640.2,154.9 640.4,143 640.7,142.8 640.9,140.8 641.1,152.6 641.3,146.4 641.6,158.3 641.8,157.8 642,165.9 642.2,159.1 642.5,159.1 642.7,148.3 642.9,152.8 643.2,161.1 643.4,173.9 643.6,180.9 643.8,180.6 644.1,177.6 644.3,167.1 644.5,166.2 644.7,161.8 645,157.2 645.2,166.9 645.4,158.7 645.7,165.1 645.9,156.1 646.1,166.4 646.3,160.8 646.6,156.3 646.8,153.3 647,153.1 647.2,153.6 647.5,154.7 647.7,156.9 647.9,160.4 648.2,158 648.4,163.1 648.6,156 648.8,163.3 649.1,161.4 649.3,166.9 649.5,159.1 649.8,155.3 650,150.2 650.2,157.3 650.4,166.1 650.7,175.9 650.9,173.3 651.1,169.5 651.3,155.2 651.6,145.8 651.8,140.5 652,145.3 652.3,149 652.5,143.6 652.7,150.2 652.9,152.6 653.2,153.8 653.4,164.7 653.6,169.5 653.8,177.5 654.1,169.6 654.3,164.3 654.5,175.8 654.8,164 655,161.1 655.2,152.4 655.4,156.7 655.7,170.4 655.9,162.8 656.1,152.6 656.3,145.6 656.6,158.1 656.8,167.2 657,167.5 657.3,175.4 657.5,167.9 657.7,166.3 657.9,159.7 658.2,160.7 658.4,158.8 658.6,150.7 658.8,148.8 659.1,144.7 659.3,144.1 659.5,138.6 659.8,146.5 660,140.8 660.2,161.1 660.4,168.6 660.7,182.9 660.9,171.1 661.1,158.8 661.3,159.9 661.6,160.8 661.8,166.4 662,155.8 662.3,159.4 662.5,152.1 662.7,156.5 662.9,140.6 663.2,141.4 663.4,141.8 663.6,148.7 663.8,150.5 664.1,151.6 664.3,154.4 664.5,163.1 664.8,146.4 665,149.5 665.2,145.3 665.4,150.7 665.7,140.3 665.9,141.2 666.1,144.2 666.4,146.9 666.6,145.1 666.8,150.4 667,156.2 667.3,148.3 667.5,152.6 667.7,156.6 667.9,163.3 668.2,150.6 668.4,147.6 668.6,145.7 668.9,154.1 669.1,159.3 669.3,148.9 669.5,164.8 669.8,153.8 670,171.3 670.2,161.2 670.4,158.3 670.7,150.6 670.9,152.8 671.1,163.1 671.4,168.8 671.6,163 671.8,161.8 672,159.7 672.3,164 672.5,156.2 672.7,146.8 672.9,152.7 673.2,162.2 673.4,163.7 673.6,151.6 673.9,154.3 674.1,150.3 674.3,158 674.5,147.1 674.8,146 675,146 675.2,151.4 675.4,169.2 675.7,181 675.9,180.5 676.1,177.5 676.4,170.8 676.6,169.5 676.8,158.6 677,161.1 677.3,160.9 677.5,164.8 677.7,154.2 677.9,154.4 678.2,151.9 678.4,158.2 678.6,165.1 678.9,166.7 679.1,154.6 679.3,148.1 679.5,140.5 679.8,145.5 680,151.9 680.2,173 680.4,178.6 680.7,165.6 680.9,155.7 681.1,140.9 681.4,143.1 681.6,147.1 681.8,163.5 682,159.5 682.3,141.4 682.5,141.9 682.7,148.7 682.9,153.7 683.2,151.3 683.4,147.6 683.6,141.8 683.9,143.4 684.1,143 684.3,147.7 684.5,136.4 684.8,140.3 685,140.3 685.2,150.8 685.5,149 685.7,158.4 685.9,154 686.1,151.9 686.4,135.2 686.6,131.6 686.8,139 687,164 687.3,163.6 687.5,154 687.7,139.4 688,148.6 688.2,150.3 688.4,148.5 688.6,137.9 688.9,140.1 689.1,144.2 689.3,162 689.5,164.1 689.8,158.3 690,151.4 690.2,158.9 690.5,162.7 690.7,155.7 690.9,151.5 691.1,153.1 691.4,153.4 691.6,143 691.8,139.8 692,146 692.3,159.3 692.5,156.9 692.7,152.4 693,144.6 693.2,137.2 693.4,135.3 693.6,134.4 693.9,136.7 694.1,148.2 694.3,143.9 694.5,146 694.8,137.1 695,151.7 695.2,153.5 695.5,154.1 695.7,150.6 695.9,148.2 696.1,148.1 696.4,152.6 696.6,156.4 696.8,169.5 697,168 697.3,168.8 697.5,160.3 697.7,148.5 698,148.5 698.2,148.1 698.4,157.3 698.6,153.5 698.9,150.2 699.1,140.2 699.3,144.4 699.5,155 699.8,158.9 700,158.7 700.2,160.2 700.5,157.5 700.7,152.8 700.9,140.2 701.1,151.6 701.4,155 701.6,158.2 701.8,143.1 702.1,140 702.3,147 702.5,154 702.7,153.5 703,152.1 703.2,147.2 703.4,150.4 703.6,150.7 703.9,153.5 704.1,148.1 704.3,146 704.6,150.1 704.8,153.5 705,153.9 705.2,156.3 705.5,153.7 705.7,148.7 705.9,148.9 706.1,159.9 706.4,170.9 706.6,163.9 706.8,164 707.1,161 707.3,164.9 707.5,161.8 707.7,162.2 708,172 708.2,162.5 708.4,162.8 708.6,152.2 708.9,155.8 709.1,157.6 709.3,163 709.6,156.9 709.8,148.8 710,145.4 710.2,143.7 710.5,149.5 710.7,147.4 710.9,155.5 711.1,151.5 711.4,162 711.6,161.7 711.8,158.1 712.1,157.1 712.3,154.2 712.5,153.9 712.7,136.5 713,143.9 713.2,146.8 713.4,157.8 713.6,153.4 713.9,151.4 714.1,145.7 714.3,140.7 714.6,143.1 714.8,147.9 715,161.7 715.2,155 715.5,151.2 715.7,136.2 715.9,148.4 716.1,144.6 716.4,153.4 716.6,154.8 716.8,161.2 717.1,160.6 717.3,141.3 717.5,140.9 717.7,129.2 718,142.5 718.2,144.6 718.4,149.2 718.7,152.1 718.9,154.6 719.1,155.4 719.3,147.7 719.6,137.9 719.8,139.3 720,153.8 720.2,156.8 720.5,159.9 720.7,146.7 720.9,155.5 721.2,156.2 721.4,158.4 721.6,145.1 721.8,140.4 722.1,147.5 722.3,156 722.5,162.5 722.7,154.1 723,146 723.2,144.7 723.4,148.8 723.7,155.6 723.9,150.8 724.1,149.9 724.3,150.4 724.6,153 724.8,151 725,142.4 725.2,138.6 725.5,137 725.7,144 725.9,147.2 726.2,148.7 726.4,156.8 726.6,160.7 726.8,163.8 727.1,152 727.3,142.6 727.5,146.4 727.7,153 728,152.9 728.2,147.4 728.4,150.5 728.7,156.2 728.9,159.6 729.1,152.3 729.3,149.1 729.6,143.6 729.8,147.7 730,138 730.2,138 730.5,132 730.7,149.9 730.9,160.9 731.2,176.6 731.4,174.3 731.6,163.7 731.8,160.3 732.1,154.5 732.3,159.9 732.5,148.5 732.7,146.5 733,145.8 733.2,161.5 733.4,164.8 733.7,174.5 733.9,179.9 734.1,173.3 734.3,161 734.6,141.6 734.8,148 735,145.1 735.3,149.9 735.5,156.2 735.7,165.1 735.9,167 736.2,161.6 736.4,158.3 736.6,157.7 736.8,160.3 737.1,159.6 737.3,160.8 737.5,151.3 737.8,154.6 738,160.3 738.2,168.3 738.4,156.4 738.7,154.1 738.9,151 739.1,142.1 739.3,133.4 739.6,138.7 739.8,156.7 740,165.1 740.3,166.3 740.5,165 740.7,148.5 740.9,138.7 741.2,138.7 741.4,154.2 741.6,155.2 741.8,150.7 742.1,150.4 742.3,145.8 742.5,139.3 742.8,135.3 743,146.8 743.2,153.7 743.4,143.4 743.7,141.9 743.9,136.9 744.1,153.2 744.3,152.9 744.6,160.4 744.8,158.9 745,154.9 745.3,157.5 745.5,160.6 745.7,165.6 745.9,168.2 746.2,158.4 746.4,159.6 746.6,153.3 746.8,151.4 747.1,145.7 747.3,140.5 747.5,142.7 747.8,143.6 748,151 748.2,152.2 748.4,153.5 748.7,139.5 748.9,141.9 749.1,147.2 749.3,160.4 749.6,162.8 749.8,153.6 750,144 750.3,140.6 750.5,135.7 750.7,134.8 750.9,140.4 751.2,143.7 751.4,160.2 751.6,147.2 751.9,154.9 752.1,138 752.3,146.8 752.5,138 752.8,143.7 753,142.4 753.2,144.5 753.4,146.4 753.7,156 753.9,154.5 754.1,156.1 754.4,148.6 754.6,150.2 754.8,158.3 755,147.7 755.3,143.3 755.5,121.5 755.7,132.6 755.9,135.7 756.2,165.7 756.4,170.2 756.6,182.1 756.9,169.5 757.1,165.2 757.3,158.4 757.5,160.3 757.8,163.5 758,161.5 758.2,155.8 758.4,146.8 758.7,141.6 758.9,140.7 759.1,152.8 759.4,152.2 759.6,148.1 759.8,145.7 760,149.7 760.3,154.5 760.5,156.2 760.7,158.8 760.9,147.3 761.2,140.5 761.4,141.2 761.6,141.6 761.9,147.3 762.1,142.4 762.3,147.3 762.5,149.2 762.8,148.5 763,148.9 763.2,141.3 763.4,146.2 763.7,165.6 763.9,157.7 764.1,157.1 764.4,141.8 764.6,159.7 764.8,157.7 765,146.3 765.3,148.5 765.5,145.3 765.7,158.9 765.9,144.1 766.2,143.1 766.4,142 766.6,153.4 766.9,162.7 767.1,161.7 767.3,159.7 767.5,152.9 767.8,156.4 768,155 768.2,161.3 768.5,157.4 768.7,157.1 768.9,155.3 769.1,159 769.4,155.4 769.6,162.2 769.8,159.4 770,168.3 770.3,161 770.5,169.5 770.7,155 771,164.2 771.2,156.7 771.4,161.4 771.6,150.5 771.9,164.1 772.1,173.6 772.3,166.3 772.5,150.9 772.8,155.7 773,155.4 773.2,157.1 773.5,147.8 773.7,168.7 773.9,168.1 774.1,176 774.4,160.4 774.6,158.9 774.8,156.5 775,163.8 775.3,157.6 775.5,155.4 775.7,155.5 776,161.2 776.2,158.3 776.4,156.7 776.6,157.3 776.9,152.6 777.1,146.8 777.3,147 777.5,142.9 777.8,147.1 778,140.7 778.2,148.2 778.5,148.1 778.7,150.3 778.9,155.5 779.1,166.8 779.4,180.5 779.6,167.7 779.8,164 780,157.5 780.3,164.5 780.5,152.3 780.7,150.2 781,157.8 781.2,164.4 781.4,163.4 781.6,152.8 781.9,147.9 782.1,152.6 782.3,167 782.5,162.5 782.8,159.7 783,147.6 783.2,150.4 783.5,152.7 783.7,157.8 783.9,153.3 784.1,145 784.4,149.4 784.6,158.5 784.8,167.4 785.1,157.9 785.3,154.1 785.5,153.9 785.7,154.3 786,150.7 786.2,148.8 786.4,155.8 786.6,155.5 786.9,161.4 787.1,160.9 787.3,161.6 787.6,156.8 787.8,152.8 788,161.2 788.2,163.6 788.5,156.4 788.7,146.1 788.9,148.7 789.1,121.4 789.4,130.9 789.6,127.1 789.8,134.7 790.1,125.3 790.3,129.5 790.5,116.9 790.7,127.2 791,128.4 791.2,124.9 791.4,123.9 791.6,115.5 791.9,121.2 792.1,119.4 792.3,116.2 792.6,113.4 792.8,116.3 793,126.7 793.2,130 793.5,118.1 793.7,125.5 793.9,134 794.1,143.2 794.4,125.8 794.6,116.4 794.8,115.5 795.1,116.7 795.3,129.5 795.5,128.6 795.7,137.1 796,123.6 796.2,117.8 796.4,111.4 796.6,117.7 796.9,121.9 797.1,124.5 797.3,124.3 797.6,127 797.8,137.3 798,134.8 798.2,128.2 798.5,121.4 798.7,130.4 798.9,132.3 799.1,132.5 799.4,121.6 799.6,126.4 799.8,127.7 800.1,125.5 800.3,121.5 800.5,125 800.7,135.5 801,141 801.2,139.9 801.4,132.6 801.7,125.4 801.9,125.9 802.1,120.9 802.3,122.9 802.6,108 802.8,112.8 803,108.6 803.2,111.3 803.5,115.7 803.7,115.1 803.9,119.4 804.2,113.8 804.4,113.4 804.6,123.6 804.8,122.1 805.1,126.1 805.3,111.1 805.5,110.6 805.7,107.9 806,114.4 806.2,113.8 806.4,116 806.7,126.5 806.9,127.9 807.1,125.9 807.3,116.1 807.6,129.7 807.8,139.2 808,143.8 808.2,133.3 808.5,120.2 808.7,115.8 808.9,112.8 809.2,117.1 809.4,112.5 809.6,107.5 809.8,109.2 810.1,115 810.3,107.6 810.5,105.8 810.7,111.1 811,118.5 811.2,119.2 811.4,105.4 811.7,113.2 811.9,106.6 812.1,108 812.3,102.1 812.6,120.2 812.8,124.2 813,119.5 813.2,109.2 813.5,113.7 813.7,129.3 813.9,120 814.2,109.9 814.4,98.4 814.6,107.3 814.8,118.3 815.1,126.4 815.3,116.2 815.5,110.2 815.7,103.5 816,117.5 816.2,124.5 816.4,122.9 816.7,112.8 816.9,113.9 817.1,121.3 817.3,141.5 817.6,136.2 817.8,139.4 818,117.5 818.3,115.6 818.5,103.4 818.7,107.1 818.9,104.2 819.2,104.6 819.4,106.7 819.6,108.4 819.8,115.5 820.1,116.5 820.3,118.8 820.5,123 820.8,125.2 821,126 821.2,118.1 821.4,116 821.7,118.9 821.9,114.8 822.1,120 822.3,124.7 822.6,135 822.8,127 823,110.8 823.3,102 823.5,105.5 823.7,117.7 823.9,119.3 824.2,116.1 824.4,119.6 824.6,116.5 824.8,123.6 825.1,119.3 825.3,116.2 825.5,112.8 825.8,104.7 826,107.8 826.2,96.9 826.4,90.9 826.7,98.1 826.9,105.8 827.1,115.8 827.3,109 827.6,109.2 827.8,105.5 828,103.2 828.3,95.3 828.5,99.3 828.7,109.4 828.9,114.8 829.2,112 829.4,114.5 829.6,129.6 829.8,125.8 830.1,125.2 830.3,126.2 830.5,131.8 830.8,137 831,112.4 831.2,120.6 831.4,113 831.7,116.7 831.9,111.9 832.1,118.3 832.3,134.9 832.6,137 832.8,131.3 833,120.5 833.3,112.5 833.5,113 833.7,119.2 833.9,119.3 834.2,119.6 834.4,122.7 834.6,127.3 834.8,138.9 835.1,145.7 835.3,137.8 835.5,122 835.8,104.2 836,104.1 836.2,110.8 836.4,112.5 836.7,113.9 836.9,110 837.1,120 837.4,123.1 837.6,123.7 837.8,123.4 838,128 838.3,132.4 838.5,132.5 838.7,123.6 838.9,122.7 839.2,112.5 839.4,124.5 839.6,126.9 839.9,123.8 840.1,125.2 840.3,115.4 840.5,126.5 840.8,119.4 841,121.1 841.2,108 841.4,104.9 841.7,109.7 841.9,112.3 842.1,117.2 842.4,109.6 842.6,113.2 842.8,109.5 843,106.6 843.3,109 843.5,102.3 843.7,99.5 843.9,94.3 844.2,99.4 844.4,118.5 844.6,118.7 844.9,127.8 845.1,129.9 845.3,137.2 845.5,137.5 845.8,130.4 846,121.8 846.2,117.9 846.4,120.5 846.7,124.5 846.9,120 847.1,107 847.4,109.4 847.6,111.6 847.8,113.8 848,111.1 848.3,112.9 848.5,117.8 848.7,122.2 848.9,121.8 849.2,115.3 849.4,109.2 849.6,107.7 849.9,120.3 850.1,130.1 850.3,117.4 850.5,112.1 850.8,107.8 851,126.2 851.2,134.9 851.4,126.3 851.7,118.2 851.9,104.1 852.1,112.7 852.4,108 852.6,119.9 852.8,120.5 853,131.3 853.3,113 853.5,103.8 853.7,105.2 854,109.5 854.2,112.2 854.4,107.5 854.6,120.4 854.9,123.2 855.1,124.9 855.3,117.8 855.5,117 855.8,115.7 856,122.4 856.2,120.5 856.5,127.7 856.7,115.3 856.9,122.7 857.1,115.7 857.4,129.3 857.6,124.5 857.8,130.2 858,132.2 858.3,128.7 858.5,125.3 858.7,115.8 859,119.4 859.2,110.8 859.4,111.2 859.6,108 859.9,110.8 860.1,110.5 860.3,103.7 860.5,115 860.8,118.6 861,137 861.2,124.9 861.5,116.1 861.7,107.8 861.9,102.6 862.1,109.8 862.4,105.6 862.6,112.7 862.8,112.1 863,116.3 863.3,128.6 863.5,131.1 863.7,124.7 864,119.8 864.2,109.2 864.4,115.8 864.6,103.9 864.9,106.3 865.1,112.3 865.3,116.3 865.5,117.6 865.8,106.6 866,107.5 866.2,118.4 866.5,115.2 866.7,109.3 866.9,104 867.1,102.4 867.4,106.3 867.6,108.9 867.8,117.5 868,116.5 868.3,106.1 868.5,101.1 868.7,100.1 869,105.5 869.2,118.5 869.4,127.3 869.6,122.4 869.9,110.9 870.1,109.3 870.3,102.5 870.6,104.6 870.8,99.3 871,102.5 871.2,99.3 871.5,103.2 871.7,101.2 871.9,101.7 872.1,97.2 872.4,106.6 872.6,104.2 872.8,112.7 873.1,109.5 873.3,115.6 873.5,107.7 873.7,105.8 874,101.4 874.2,109.1 874.4,114.6 874.6,119.2 874.9,118.4 875.1,113.2 875.3,116.4 875.6,110.5 875.8,109.2 876,109.5 876.2,102.2 876.5,111.1 876.7,102.5 876.9,114.4 877.1,118.1 877.4,125.5 877.6,119.8 877.8,112.1 878.1,108.1 878.3,104.8 878.5,100 878.7,102.7 879,111 879.2,107.3 879.4,106.5 879.6,106.7 879.9,117.5 880.1,112.6 880.3,115.3 880.6,107.4 880.8,116.9 881,331.3 881.2,325.7 881.5,322.5 881.7,313.5 881.9,332.3 882.1,323.5 882.4,317.2 882.6,303 882.8,311.3 883.1,318.8 883.3,325.4 883.5,315.6 883.7,306.1 884,314.3 884.2,323.1 884.4,326 884.6,327.2 884.9,314.8 885.1,287 885.3,293.4 885.6,323.1 885.8,336.3 886,323.6 886.2,310.7 886.5,335.9 886.7,348.5 886.9,359.3 887.2,348.4 887.4,345.7 887.6,336 887.8,333.1 888.1,342 888.3,342.1 888.5,356.5 888.7,337.3 889,342.6 889.2,318.8 889.4,328.2 889.7,288.1 889.9,286.9 890.1,291 890.3,312.9 890.6,325.1 890.8,299.1 891,322.4 891.2,327.7 891.5,345.2 891.7,331.4 891.9,327.1 892.2,343.3 892.4,341.7 892.6,322.4 892.8,305.7 893.1,315.1 893.3,339.6 893.5,338 893.7,329.1 894,323.9 894.2,336.4 894.4,312.3 894.7,301.2 894.9,302.9 895.1,317.8 895.3,331.5 895.6,346.3 895.8,340 896,339.5 896.2,312.9 896.5,310 896.7,306 896.9,294.8 897.2,277.8 897.4,293.7 897.6,310.7 897.8,344.2 898.1,330.3 898.3,334.6 898.5,330.3 898.7,339.1 899,325.4 899.2,330.3 899.4,314.5 899.7,331 899.9,344 900.1,357.7 900.3,373.6 900.6,344.8 900.8,349.3 901,332.9 901.2,341.9 901.5,328.5 901.7,320.5 901.9,320.4 902.2,314.1 902.4,314.5 902.6,318.1 902.8,326.2 903.1,324.1 903.3,304.1 903.5,311.2 903.8,317.9 904,330.4 904.2,329.3 904.4,353.9 904.7,346.9 904.9,329.6 905.1,309.3 905.3,313.4 905.6,333.8 905.8,317.4 906,329.5 906.3,327.1 906.5,342.8 906.7,313.7 906.9,318.7 907.2,318.4 907.4,348.3 907.6,340.7 907.8,327.6 908.1,315.6 908.3,309.5 908.5,326.3 908.8,315.7 909,323.7 909.2,317.3 909.4,327.3 909.7,324.6 909.9,320.8 910.1,319.9 910.3,320.7 910.6,328.2 910.8,342.9" fill="none" stroke="#6c6c6c" stroke-width="0.8" stroke-linejoin="round"/>
<polyline points="118.1,325.1 145.1,325.1 145.1,290.3 225.2,290.3 225.2,270.3 250.2,270.3 250.2,231.9 365.6,231.9 365.6,204.1 451.3,204.1 451.3,183.3 471.9,183.3 471.9,166.4 655.9,166.4 655.9,151.3 789,151.3 789,121 880.8,121 880.8,318.3 910.8,318.3" fill="none" stroke="#3146A0" stroke-width="2.2" stroke-linejoin="miter"/>
<line x1="145.10" y1="290.30" x2="225.20" y2="290.30" stroke="#B01E24" stroke-width="4.2" stroke-linecap="butt"/>
<line x1="225.20" y1="270.30" x2="250.20" y2="270.30" stroke="#B01E24" stroke-width="4.2" stroke-linecap="butt"/>
<line x1="250.20" y1="231.90" x2="365.60" y2="231.90" stroke="#B01E24" stroke-width="4.2" stroke-linecap="butt"/>
<line x1="365.60" y1="204.10" x2="451.30" y2="204.10" stroke="#B01E24" stroke-width="4.2" stroke-linecap="butt"/>
<line x1="451.30" y1="183.30" x2="471.90" y2="183.30" stroke="#B01E24" stroke-width="4.2" stroke-linecap="butt"/>
<line x1="471.90" y1="166.40" x2="655.90" y2="166.40" stroke="#B01E24" stroke-width="4.2" stroke-linecap="butt"/>
<line x1="655.90" y1="151.30" x2="789.00" y2="151.30" stroke="#B01E24" stroke-width="4.2" stroke-linecap="butt"/>
<line x1="789.00" y1="121.00" x2="880.80" y2="121.00" stroke="#D4621F" stroke-width="4.2" stroke-linecap="butt"/>
<rect x="109.50" y="43.70" width="816.10" height="362.30" fill="none" stroke="#262626" stroke-width="2.0"/>
<line x1="226.09" y1="406.00" x2="226.09" y2="398.00" stroke="#262626" stroke-width="2.0"/>
<line x1="226.09" y1="43.70" x2="226.09" y2="51.70" stroke="#262626" stroke-width="2.0"/>
<line x1="342.67" y1="406.00" x2="342.67" y2="398.00" stroke="#262626" stroke-width="2.0"/>
<line x1="342.67" y1="43.70" x2="342.67" y2="51.70" stroke="#262626" stroke-width="2.0"/>
<line x1="459.26" y1="406.00" x2="459.26" y2="398.00" stroke="#262626" stroke-width="2.0"/>
<line x1="459.26" y1="43.70" x2="459.26" y2="51.70" stroke="#262626" stroke-width="2.0"/>
<line x1="575.84" y1="406.00" x2="575.84" y2="398.00" stroke="#262626" stroke-width="2.0"/>
<line x1="575.84" y1="43.70" x2="575.84" y2="51.70" stroke="#262626" stroke-width="2.0"/>
<line x1="692.43" y1="406.00" x2="692.43" y2="398.00" stroke="#262626" stroke-width="2.0"/>
<line x1="692.43" y1="43.70" x2="692.43" y2="51.70" stroke="#262626" stroke-width="2.0"/>
<line x1="809.01" y1="406.00" x2="809.01" y2="398.00" stroke="#262626" stroke-width="2.0"/>
<line x1="809.01" y1="43.70" x2="809.01" y2="51.70" stroke="#262626" stroke-width="2.0"/>
<line x1="109.50" y1="365.40" x2="117.50" y2="365.40" stroke="#262626" stroke-width="2.0"/>
<line x1="109.50" y1="325.20" x2="117.50" y2="325.20" stroke="#262626" stroke-width="2.0"/>
<line x1="109.50" y1="285.00" x2="117.50" y2="285.00" stroke="#262626" stroke-width="2.0"/>
<line x1="109.50" y1="244.80" x2="117.50" y2="244.80" stroke="#262626" stroke-width="2.0"/>
<line x1="109.50" y1="204.60" x2="117.50" y2="204.60" stroke="#262626" stroke-width="2.0"/>
<line x1="109.50" y1="164.40" x2="117.50" y2="164.40" stroke="#262626" stroke-width="2.0"/>
<line x1="109.50" y1="124.20" x2="117.50" y2="124.20" stroke="#262626" stroke-width="2.0"/>
<line x1="109.50" y1="84.00" x2="117.50" y2="84.00" stroke="#262626" stroke-width="2.0"/>
<line x1="925.60" y1="387.65" x2="917.60" y2="387.65" stroke="#262626" stroke-width="2.0"/>
<line x1="925.60" y1="325.00" x2="917.60" y2="325.00" stroke="#262626" stroke-width="2.0"/>
<line x1="925.60" y1="262.35" x2="917.60" y2="262.35" stroke="#262626" stroke-width="2.0"/>
<line x1="925.60" y1="199.70" x2="917.60" y2="199.70" stroke="#262626" stroke-width="2.0"/>
<line x1="925.60" y1="137.05" x2="917.60" y2="137.05" stroke="#262626" stroke-width="2.0"/>
<line x1="925.60" y1="74.40" x2="917.60" y2="74.40" stroke="#262626" stroke-width="2.0"/>
<text x="60.75" y="94.27" font-size="25.5" fill="#000">120</text>
<text x="74.93" y="174.67" font-size="25.5" fill="#000">80</text>
<text x="74.93" y="255.07" font-size="25.5" fill="#000">40</text>
<text x="89.11" y="335.47" font-size="25.5" fill="#000">0</text>
<text x="67.74" y="410.87" font-size="25.5" fill="#000">-40</text>
<text x="102.41" y="430.80" font-size="25.5" fill="#000">0</text>
<text x="208.50" y="430.80" font-size="25.5" fill="#000">0.2</text>
<text x="324.82" y="430.80" font-size="25.5" fill="#000">0.4</text>
<text x="441.60" y="430.80" font-size="25.5" fill="#000">0.6</text>
<text x="558.17" y="430.80" font-size="25.5" fill="#000">0.8</text>
<text x="684.99" y="430.80" font-size="25.5" fill="#000">1</text>
<text x="790.96" y="430.80" font-size="25.5" fill="#000">1.2</text>
<text x="907.28" y="430.80" font-size="25.5" fill="#000">1.4</text>
<text x="932.80" y="333.97" font-size="25.5" fill="#000">0</text>
<text x="931.86" y="208.67" font-size="25.5" fill="#000">1</text>
<text x="932.52" y="83.37" font-size="25.5" fill="#000">2</text>
<text x="454.07" y="470.90" font-size="32.3" fill="#000">Time (s)</text>
<text transform="translate(54.40,363.05) rotate(-90)" font-size="32.3">Bead position (nm)</text>
<text transform="translate(966.30,126.35) rotate(90)" font-size="32.3">Force (pN)</text>
<text x="205.80" y="251.40" font-size="25.5" fill="#000">9.9</text>
<text x="231.56" y="212.50" font-size="25.5" fill="#000">18.8</text>
<text x="342.86" y="185.20" font-size="25.5" fill="#000">14.1</text>
<text x="450.79" y="151.30" font-size="25.5" fill="#000">8.7</text>
<text x="451.36" y="232.00" font-size="25.5" fill="#000">10.0</text>
<text x="635.09" y="139.00" font-size="25.5" fill="#000">7.4</text>
<text x="761.76" y="104.10" font-size="25.5" fill="#000">15.2</text>
<text x="7.39" y="43.10" font-size="57" fill="#000">A</text>
<polyline points="127.2,679.3 127.7,713.8 128.2,677.5 128.7,740.3 129.2,728.9 129.7,688.8 130.2,720.7 130.7,750.2 131.2,660.5 131.7,716.5 132.2,763.8 132.7,680.2 133.2,716.7 133.7,684 134.2,718.9 134.7,653.1 135.2,675.2 135.7,704.7 136.2,723.9 136.7,727.4 137.2,728.8 137.7,744 138.2,733.9 138.7,732.7 139.2,686.1 139.7,709.3 140.2,795.5 140.7,771.5 141.2,732.1 141.7,727.7 142.2,735.8 142.7,697.8 143.2,759.9 143.7,700.1 144.2,707.3 144.7,765.9 145.2,660.9 145.7,722.9 146.2,642.8 146.7,673.8 147.2,687.3 147.7,683.5 148.2,692.7 148.7,672.2 149.2,689.2 149.7,666.9 150.2,681.9 150.7,663.8 151.2,704.9 151.7,666.6 152.2,704.6 152.7,683.3 153.2,684.1 153.7,713.7 154.2,693.9 154.8,655.7 155.3,700.4 155.8,632.7 156.3,696.4 156.8,683.8 157.3,663.1 157.8,693.3 158.3,685.8 158.8,731 159.3,682.7 159.8,729.7 160.3,719.6 160.8,655.7 161.3,651.8 161.8,693.9 162.3,666.9 162.8,674.4 163.3,665.9 163.8,647.9 164.3,666.1 164.8,655.7 165.3,645.4 165.8,671 166.3,713.8 166.8,707.2 167.3,674.5 167.8,677.4 168.3,684.4 168.8,700.5 169.3,679.3 169.8,663.5 170.3,666.2 170.8,698.3 171.3,725.9 171.8,662.9 172.3,633.4 172.8,689.1 173.3,671.7 173.8,675.4 174.3,695.4 174.8,672.9 175.3,644.2 175.8,629.8 176.3,664.9 176.8,643.6 177.3,671.9 177.8,642.4 178.3,662 178.8,641.8 179.3,664.9 179.8,664.6 180.3,686 180.8,698.7 181.3,667.4 181.8,653.9 182.3,709.4 182.8,677.4 183.3,682.2 183.8,679.6 184.3,698.1 184.8,686.6 185.3,680.1 185.8,682.2 186.3,649.6 186.8,655.7 187.3,667.4 187.8,669.7 188.3,666.2 188.8,671 189.3,661.5 189.8,652.4 190.3,627.8 190.8,676.8 191.3,672.5 191.8,643.8 192.3,673.3 192.8,670.5 193.3,663.8 193.8,625.6 194.3,637.3 194.8,650.8 195.3,698.1 195.8,648 196.3,659.5 196.8,642.5 197.3,654.7 197.8,670 198.3,623.7 198.8,609.2 199.3,680.5 199.8,665.6 200.3,653.8 200.8,688 201.3,688.5 201.8,627.2 202.3,666 202.8,692.2 203.3,657 203.8,664.7 204.3,689.1 204.8,664.5 205.3,643.1 205.8,652.6 206.3,638.6 206.8,675.5 207.3,628.1 207.8,684.9 208.3,630.7 208.8,663.3 209.3,634.3 209.9,658.9 210.4,683.7 210.9,683.1 211.4,687.9 211.9,659.9 212.4,661.1 212.9,664.5 213.4,672.4 213.9,654.6 214.4,683.8 214.9,669.3 215.4,686.6 215.9,673 216.4,679.8 216.9,654 217.4,659.9 217.9,643.8 218.4,663.1 218.9,665.4 219.4,684.6 219.9,642.9 220.4,734.2 220.9,667.6 221.4,696 221.9,691.7 222.4,622.9 222.9,670.8 223.4,705.7 223.9,623.8 224.4,688.1 224.9,652.3 225.4,661 225.9,676 226.4,631.7 226.9,670.7 227.4,655 227.9,650.6 228.4,678.1 228.9,736.2 229.4,673.3 229.9,676.7 230.4,664.3 230.9,649.8 231.4,668 231.9,693.8 232.4,666.9 232.9,678.4 233.4,655.6 233.9,712.4 234.4,630.9 234.9,677.3 235.4,675.9 235.9,667.9 236.4,640.6 236.9,639.3 237.4,659 237.9,666.1 238.4,641.8 238.9,643.4 239.4,678.7 239.9,689.5 240.4,655.8 240.9,654 241.4,652.2 241.9,713.3 242.4,672.5 242.9,663.6 243.4,687 243.9,713.7 244.4,689.4 244.9,637 245.4,665.5 245.9,638.8 246.4,639 246.9,625.6 247.4,641.1 247.9,628.8 248.4,658.3 248.9,654.3 249.4,621.6 249.9,615 250.4,642.7 250.9,666.6 251.4,664.3 251.9,656 252.4,590.2 252.9,642.2 253.4,636.2 253.9,645.8 254.4,629.4 254.9,643.6 255.4,638.7 255.9,708.9 256.4,670.1 256.9,647.3 257.4,651 257.9,648.8 258.4,655.3 258.9,639.8 259.4,646.6 259.9,668.1 260.4,663.4 260.9,652.3 261.4,673.1 261.9,650.3 262.4,626.3 262.9,612.1 263.4,631.7 263.9,643.1 264.4,651 265,667 265.5,633.8 266,627.5 266.5,661.6 267,671.3 267.5,637.5 268,654 268.5,675.7 269,654 269.5,649.3 270,608.9 270.5,677.9 271,661.2 271.5,650.3 272,637.9 272.5,622.4 273,647.2 273.5,647.3 274,672.5 274.5,627.3 275,677.8 275.5,647.7 276,671.2 276.5,626 277,654.8 277.5,671.6 278,649.2 278.5,614.3 279,636.2 279.5,652 280,612.4 280.5,609.5 281,644.5 281.5,622 282,656.9 282.5,620.1 283,604.6 283.5,625.6 284,671.9 284.5,624 285,643.5 285.5,651.1 286,628.8 286.5,668.6 287,650.2 287.5,656.7 288,613.6 288.5,615.2 289,597.8 289.5,649.5 290,647.6 290.5,668 291,683.6 291.5,648.8 292,645.1 292.5,659.5 293,681.5 293.5,635.2 294,662.2 294.5,644.5 295,641.8 295.5,661.2 296,629.1 296.5,623.8 297,657.2 297.5,641.5 298,637.3 298.5,637.8 299,651.6 299.5,635.7 300,660.8 300.5,654.3 301,677.1 301.5,671 302,665.4 302.5,645.7 303,653.5 303.5,640.3 304,709.1 304.5,647.3 305,664.3 305.5,684.1 306,627.2 306.5,639.7 307,648.9 307.5,638.8 308,632.5 308.5,649.9 309,686.7 309.5,675 310,657.8 310.5,657.3 311,622.9 311.5,670.1 312,664.1 312.5,631.1 313,657 313.5,650 314,642.8 314.5,635 315,640.6 315.5,634.6 316,662.3 316.5,660.1 317,659.1 317.5,648.9 318,644.1 318.5,693.1 319,614.2 319.5,675.1 320.1,661.3 320.6,655 321.1,644.4 321.6,651.8 322.1,632.2 322.6,629.2 323.1,654.6 323.6,623.2 324.1,673.6 324.6,678.9 325.1,587.8 325.6,623.6 326.1,662 326.6,661.6 327.1,659 327.6,662.4 328.1,669.1 328.6,669.6 329.1,689.9 329.6,653.8 330.1,669.1 330.6,618.5 331.1,647.5 331.6,624.8 332.1,675.5 332.6,694.9 333.1,642.3 333.6,605.6 334.1,628.1 334.6,630 335.1,632.2 335.6,649.7 336.1,648.5 336.6,572.6 337.1,655.1 337.6,618.3 338.1,616.9 338.6,659.6 339.1,621.5 339.6,598 340.1,600.3 340.6,628.9 341.1,645 341.6,657.5 342.1,624 342.6,618.2 343.1,662.6 343.6,619.1 344.1,658.9 344.6,635.8 345.1,638.8 345.6,630.2 346.1,639.4 346.6,625.8 347.1,619.2 347.6,631.2 348.1,620.1 348.6,634.8 349.1,630.6 349.6,624.4 350.1,624.3 350.6,624.9 351.1,664.3 351.6,629.2 352.1,619.2 352.6,625.9 353.1,643.3 353.6,626.4 354.1,629.3 354.6,625.5 355.1,631.2 355.6,634.6 356.1,635.8 356.6,594.5 357.1,608.7 357.6,577.5 358.1,647.7 358.6,656.7 359.1,664.6 359.6,640.8 360.1,662.5 360.6,637.4 361.1,636.2 361.6,607.7 362.1,621.7 362.6,624.3 363.1,652.1 363.6,667.5 364.1,623 364.6,639.1 365.1,637.7 365.6,621 366.1,602 366.6,621.2 367.1,607.3 367.6,629.2 368.1,631.6 368.6,629.2 369.1,627.4 369.6,642.6 370.1,613.3 370.6,648.8 371.1,597.7 371.6,632.7 372.1,639.2 372.6,616 373.1,601.7 373.6,644.9 374.1,618.7 374.7,647.7 375.2,647.9 375.7,629.7 376.2,628.4 376.7,647.9 377.2,633.3 377.7,607.9 378.2,630.1 378.7,638.2 379.2,630.5 379.7,631 380.2,624.6 380.7,626.1 381.2,611 381.7,601.4 382.2,619.5 382.7,584.5 383.2,605.3 383.7,572.8 384.2,607 384.7,588 385.2,663.8 385.7,587.1 386.2,589.6 386.7,629.4 387.2,635.2 387.7,571.5 388.2,620.1 388.7,633 389.2,592.6 389.7,628.3 390.2,606.1 390.7,596.9 391.2,608.9 391.7,607.8 392.2,589.1 392.7,661.2 393.2,603.9 393.7,597 394.2,627.3 394.7,609.9 395.2,637 395.7,602.1 396.2,613.6 396.7,607.2 397.2,606.7 397.7,599.6 398.2,600.7 398.7,636 399.2,587.3 399.7,591.2 400.2,591 400.7,609 401.2,605.6 401.7,614 402.2,568.5 402.7,599.5 403.2,593.9 403.7,591.4 404.2,600.6 404.7,558.7 405.2,603.8 405.7,603 406.2,570.8 406.7,596.2 407.2,633 407.7,593.5 408.2,611.9 408.7,595.7 409.2,586.4 409.7,582.4 410.2,594.5 410.7,627.9 411.2,619 411.7,589.6 412.2,623.7 412.7,601.2 413.2,585.2 413.7,608.8 414.2,580.8 414.7,566.3 415.2,624.4 415.7,561 416.2,609.9 416.7,569.9 417.2,596.7 417.7,593.4 418.2,588.4 418.7,555.1 419.2,594.9 419.7,596.1 420.2,578.4 420.7,595.5 421.2,614.5 421.7,581.4 422.2,602 422.7,577.4 423.2,609.7 423.7,614.4 424.2,650.6 424.7,619.4 425.2,608.4 425.7,628.6 426.2,580.4 426.7,621.4 427.2,588 427.7,586 428.2,620.8 428.7,602.9 429.2,625.4 429.8,573.2 430.3,608.8 430.8,590.5 431.3,596.2 431.8,562.9 432.3,617.5 432.8,602 433.3,580 433.8,572 434.3,583.4 434.8,629.8 435.3,599.9 435.8,594.5 436.3,611.8 436.8,602.9 437.3,609.5 437.8,620.4 438.3,612.8 438.8,622.4 439.3,580 439.8,603.6 440.3,591.3 440.8,602.7 441.3,601.5 441.8,590 442.3,596.1 442.8,621.6 443.3,591.3 443.8,578.9 444.3,617.3 444.8,624.1 445.3,601.1 445.8,609.8 446.3,590.2 446.8,602.4 447.3,626.7 447.8,621.5 448.3,606.1 448.8,598.1 449.3,573.3 449.8,610.6 450.3,616.1 450.8,626.6 451.3,644.9 451.8,613.6 452.3,626.8 452.8,585.5 453.3,630.3 453.8,622.9 454.3,630.9 454.8,618.2 455.3,610.5 455.8,630.5 456.3,586.3 456.8,612.4 457.3,621.4 457.8,584.2 458.3,579.7 458.8,611.5 459.3,604 459.8,614.8 460.3,616.9 460.8,590 461.3,611.1 461.8,624.3 462.3,595.1 462.8,595.4 463.3,578.9 463.8,616.1 464.3,636.7 464.8,570.2 465.3,615.4 465.8,618.6 466.3,593.6 466.8,598.1 467.3,583.5 467.8,588.6 468.3,607.8 468.8,619.3 469.3,608.1 469.8,620.6 470.3,607.1 470.8,580.1 471.3,630.1 471.8,626.6 472.3,587.6 472.8,634.1 473.3,609.5 473.8,603.6 474.3,640 474.8,555.2 475.3,571.4 475.8,615.5 476.3,594.6 476.8,577.6 477.3,625.9 477.8,606.6 478.3,571.3 478.8,583.1 479.3,613.8 479.8,631.7 480.3,558.3 480.8,603.7 481.3,591.2 481.8,562.4 482.3,594.2 482.8,569.4 483.3,589 483.8,630.6 484.3,607.5 484.9,610.5 485.4,605.3 485.9,601 486.4,613.3 486.9,572.7 487.4,586.1 487.9,610.6 488.4,578 488.9,581.4 489.4,612.4 489.9,621.1 490.4,576.9 490.9,571.8 491.4,600.1 491.9,596.7 492.4,577 492.9,600.3 493.4,600.4 493.9,593.8 494.4,648.8 494.9,619.6 495.4,609.9 495.9,614.7 496.4,657.2 496.9,619.4 497.4,582.9 497.9,604.4 498.4,599.2 498.9,583.7 499.4,721 499.9,719.9 500.4,713.1 500.9,701.7 501.4,736.4 501.9,674 502.4,737.7 502.9,719.4 503.4,723.2 503.9,653.5 504.4,758.6 504.9,671.3 505.4,692.4 505.9,731.1 506.4,700 506.9,706.3 507.4,659.4 507.9,705.5 508.4,724.1 508.9,738.8 509.4,718.2 509.9,731.8 510.4,738.6 510.9,710.9 511.4,708.2 511.9,776" fill="none" stroke="#cdcdcd" stroke-width="1.2" stroke-linejoin="round"/>
<polyline points="127.2,701.7 128.2,710.4 129.2,720.2 130.2,719.2 131.2,708.7 132.2,719.5 133.2,693.2 134.2,686.2 135.2,677.8 136.2,720.1 137.2,734.7 138.2,738.2 139.2,708.1 140.2,758.8 141.2,743.8 142.2,721.8 143.2,719.8 144.2,724 145.2,717.2 146.2,668 147.2,681 148.2,682 149.2,677.2 150.2,670 151.2,678.7 152.2,684.3 153.2,693.2 154.2,687.8 155.3,662.2 156.3,671.1 157.3,679.4 158.3,703.6 159.3,714.5 160.3,710.2 161.3,667.2 162.3,678.5 163.3,662.3 164.3,656.7 165.3,657.3 166.3,699 167.3,687 168.3,687.5 169.3,680.9 170.3,675.7 171.3,694.8 172.3,661.8 173.3,679 174.3,680.4 175.3,649.2 176.3,644.7 177.3,651.9 178.3,648.4 179.3,656.9 180.3,684.1 181.3,673 182.3,680.1 183.3,680.5 184.3,689.5 185.3,682.9 186.3,662.1 187.3,665.4 188.3,668.7 189.3,660.3 190.3,652.1 191.3,664.4 192.3,663.4 193.3,653.2 194.3,637.1 195.3,666.9 196.3,650.9 197.3,656.2 198.3,634.6 199.3,653 200.3,668.6 201.3,668.1 202.3,661.7 203.3,671.2 204.3,672.6 205.3,652.6 206.3,655.4 207.3,661.4 208.3,659.6 209.3,652.1 210.4,675.5 211.4,677.4 212.4,660.6 213.4,663.1 214.4,668.6 215.4,676.7 216.4,669 217.4,652 218.4,657.2 219.4,663.9 220.4,681.9 221.4,685.4 222.4,661.6 223.4,668.1 224.4,655.6 225.4,662.6 226.4,659.4 227.4,659.9 228.4,687.2 229.4,695.9 230.4,663.8 231.4,669.8 232.4,680.5 233.4,681.4 234.4,673.6 235.4,674.3 236.4,649.7 237.4,655.2 238.4,651.5 239.4,671 240.4,665.5 241.4,673.8 242.4,682.1 243.4,688.5 244.4,679.6 245.4,654.4 246.4,632.7 247.4,630.9 248.4,646.8 249.4,629.4 250.4,642.1 251.4,661.6 252.4,630.5 253.4,640.5 254.4,640.5 255.4,662.9 256.4,677.6 257.4,649.6 258.4,649.2 259.4,651 260.4,661.2 261.4,658.9 262.4,629.2 263.4,628.9 264.4,652.4 265.5,643.2 266.5,653.8 267.5,654 268.5,661.8 269.5,638.2 270.5,650.6 271.5,649.9 272.5,635.2 273.5,655.4 274.5,660.5 275.5,664.8 276.5,649.2 277.5,658.4 278.5,632.4 279.5,633.3 280.5,621 281.5,640.8 282.5,628.1 283.5,633.7 284.5,645.5 285.5,641.4 286.5,648.8 287.5,640.7 288.5,608.8 289.5,632.1 290.5,666.7 291.5,660.3 292.5,661.9 293.5,660.6 294.5,649.8 295.5,642.8 296.5,637.2 297.5,644.5 298.5,641.1 299.5,649 300.5,663.8 301.5,669.7 302.5,654.9 303.5,668 304.5,673 305.5,660.6 306.5,639 307.5,641 308.5,656.9 309.5,674.2 310.5,646 311.5,652.6 312.5,649.7 313.5,650.5 314.5,640.2 315.5,645.7 316.5,660.5 317.5,650.7 318.5,650.7 319.5,649.1 320.6,653 321.6,643.4 322.6,639 323.6,650.1 324.6,646.7 325.6,623.2 326.6,661.4 327.6,662.5 328.6,675 329.6,671.2 330.6,645 331.6,649.5 332.6,676.7 333.6,625.8 334.6,630.2 335.6,642.9 336.6,623.4 337.6,630.3 338.6,635.2 339.6,605.6 340.6,625.3 341.6,642.4 342.6,634.2 343.6,645.8 344.6,644 345.6,636.9 346.6,629.5 347.6,624.1 348.6,627 349.6,627.1 350.6,638.2 351.6,636.9 352.6,630.3 353.6,632.5 354.6,629 355.6,633.4 356.6,612.1 357.6,610.8 358.6,656 359.6,655.2 360.6,644.8 361.6,622.2 362.6,633.1 363.6,648.4 364.6,632.9 365.6,621.6 366.6,610.1 367.6,622.9 368.6,629.5 369.6,628.9 370.6,619.6 371.6,623.3 372.6,618.5 373.6,621.3 374.7,637.9 375.7,634.9 376.7,637.3 377.7,623.9 378.7,633.3 379.7,628.8 380.7,620.5 381.7,621.6 382.7,601.9 383.7,595.3 384.7,619.8 385.7,613.9 386.7,618.1 387.7,608.7 388.7,614.9 389.7,607.6 390.7,604.3 391.7,602.4 392.7,619.3 393.7,609.6 394.7,625.4 395.7,616.8 396.7,609.4 397.7,602.8 398.7,608.6 399.7,591.6 400.7,601.9 401.7,595.5 402.7,586 403.7,595.1 404.7,587.6 405.7,593.4 406.7,598.2 407.7,612.8 408.7,597.2 409.7,586.5 410.7,613.5 411.7,610.9 412.7,604.9 413.7,592.5 414.7,589.5 415.7,597.2 416.7,593.4 417.7,592.9 418.7,580.3 419.7,590 420.7,597 421.7,599.1 422.7,596.8 423.7,624.9 424.7,626.8 425.7,606.4 426.7,597.1 427.7,597.8 428.7,615.8 429.8,602.8 430.8,597.5 431.8,592.4 432.8,599 433.8,577.5 434.8,605.1 435.8,601.5 436.8,607.6 437.8,614.4 438.8,605.2 439.8,592.6 440.8,598.7 441.8,595.8 442.8,603.3 443.8,595.5 444.8,613.5 445.8,600.9 446.8,606.8 447.8,619.2 448.8,592 449.8,598.8 450.8,629 451.8,628.2 452.8,614.2 453.8,628.4 454.8,621.2 455.8,609.8 456.8,606.7 457.8,594 458.8,599.1 459.8,611.9 460.8,606.3 461.8,609.5 462.8,589.4 463.8,610.9 464.8,605.7 465.8,608.2 466.8,592.4 467.8,593.1 468.8,612.7 469.8,611.6 470.8,606.1 471.8,616.1 472.8,609.6 473.8,617.4 474.8,589.6 475.8,594.2 476.8,598.1 477.8,601.8 478.8,588.8 479.8,601 480.8,584.9 481.8,581.5 482.8,585.6 483.8,609.4 484.9,607.6 485.9,606.6 486.9,591.8 487.9,592.4 488.9,590.2 489.9,605.1 490.9,582.2 491.9,592.6 492.9,591.8 493.9,615.5 494.9,626.4 495.9,626.6 496.9,619.7 497.9,594.6 498.9,595.5 499.9,717.4 500.9,716.5 501.9,715.1 502.9,728.6 503.9,710.3 504.9,707.6 505.9,707.7 506.9,689.1 507.9,695.8 508.9,726.7 509.9,729.4 510.9,719.6 511.9,748.9" fill="none" stroke="#686868" stroke-width="1.5" stroke-linejoin="round"/>
<polyline points="127.2,710.7 145.8,710.7 145.8,693.3 160.6,693.3 160.6,666.6 245.9,666.6 245.9,645.8 332.7,645.8 332.7,629.1 382,629.1 382,599.4 498.9,599.4 498.9,703.3 511.9,703.3" fill="none" stroke="#3146A0" stroke-width="2.2" stroke-linejoin="miter"/>
<line x1="145.80" y1="693.30" x2="160.60" y2="693.30" stroke="#B01E24" stroke-width="4.2" stroke-linecap="butt"/>
<line x1="160.60" y1="666.60" x2="245.90" y2="666.60" stroke="#B01E24" stroke-width="4.2" stroke-linecap="butt"/>
<line x1="245.90" y1="645.80" x2="332.70" y2="645.80" stroke="#B01E24" stroke-width="4.2" stroke-linecap="butt"/>
<line x1="332.70" y1="629.10" x2="382.00" y2="629.10" stroke="#B01E24" stroke-width="4.2" stroke-linecap="butt"/>
<line x1="382.00" y1="599.40" x2="498.90" y2="599.40" stroke="#D4621F" stroke-width="4.2" stroke-linecap="butt"/>
<rect x="116.30" y="504.10" width="406.70" height="310.70" fill="none" stroke="#262626" stroke-width="2.0"/>
<line x1="217.85" y1="814.80" x2="217.85" y2="810.30" stroke="#262626" stroke-width="2.0"/>
<line x1="217.85" y1="504.10" x2="217.85" y2="508.60" stroke="#262626" stroke-width="2.0"/>
<line x1="319.40" y1="814.80" x2="319.40" y2="810.30" stroke="#262626" stroke-width="2.0"/>
<line x1="319.40" y1="504.10" x2="319.40" y2="508.60" stroke="#262626" stroke-width="2.0"/>
<line x1="420.95" y1="814.80" x2="420.95" y2="810.30" stroke="#262626" stroke-width="2.0"/>
<line x1="420.95" y1="504.10" x2="420.95" y2="508.60" stroke="#262626" stroke-width="2.0"/>
<line x1="116.30" y1="762.35" x2="120.80" y2="762.35" stroke="#262626" stroke-width="2.0"/>
<line x1="116.30" y1="710.70" x2="120.80" y2="710.70" stroke="#262626" stroke-width="2.0"/>
<line x1="116.30" y1="659.05" x2="120.80" y2="659.05" stroke="#262626" stroke-width="2.0"/>
<line x1="116.30" y1="607.40" x2="120.80" y2="607.40" stroke="#262626" stroke-width="2.0"/>
<line x1="116.30" y1="555.75" x2="120.80" y2="555.75" stroke="#262626" stroke-width="2.0"/>
<line x1="523.00" y1="791.20" x2="518.50" y2="791.20" stroke="#262626" stroke-width="2.0"/>
<line x1="523.00" y1="710.70" x2="518.50" y2="710.70" stroke="#262626" stroke-width="2.0"/>
<line x1="523.00" y1="630.20" x2="518.50" y2="630.20" stroke="#262626" stroke-width="2.0"/>
<line x1="523.00" y1="549.70" x2="518.50" y2="549.70" stroke="#262626" stroke-width="2.0"/>
<text x="77.93" y="512.87" font-size="25.5" fill="#000">80</text>
<text x="77.93" y="616.17" font-size="25.5" fill="#000">40</text>
<text x="92.11" y="719.47" font-size="25.5" fill="#000">0</text>
<text x="73.54" y="817.77" font-size="25.5" fill="#000">-40</text>
<text x="109.21" y="839.80" font-size="25.5" fill="#000">0</text>
<text x="193.07" y="839.80" font-size="25.5" fill="#000">0.05</text>
<text x="301.80" y="839.80" font-size="25.5" fill="#000">0.1</text>
<text x="396.17" y="839.80" font-size="25.5" fill="#000">0.15</text>
<text x="504.92" y="839.80" font-size="25.5" fill="#000">0.2</text>
<text x="529.50" y="720.47" font-size="25.5" fill="#000">0</text>
<text x="529.50" y="639.97" font-size="25.5" fill="#000">0.5</text>
<text x="528.56" y="559.47" font-size="25.5" fill="#000">1</text>
<text x="267.07" y="878.70" font-size="32.3" fill="#000">Time (s)</text>
<text transform="translate(52.00,785.05) rotate(-90)" font-size="32.3">Bead position (nm)</text>
<text x="134.16" y="629.10" font-size="25.5" fill="#000">10.1</text>
<text x="228.09" y="616.50" font-size="25.5" fill="#000">8.1</text>
<text x="322.11" y="684.00" font-size="25.5" fill="#000">6.4</text>
<text x="354.86" y="575.70" font-size="25.5" fill="#000">11.6</text>
<polyline points="656.8,717.8 657.3,716.9 657.8,754.1 658.3,713.7 658.8,730 659.3,717.8 659.8,704.9 660.3,690.3 660.8,710.7 661.3,704.8 661.8,741.8 662.3,698.5 662.8,714 663.3,737.5 663.8,716.3 664.3,729.7 664.8,737.4 665.3,682.4 665.8,706.8 666.3,693.1 666.8,743 667.3,715 667.8,725.4 668.3,753.6 668.8,706.3 669.3,715.6 669.8,722.1 670.3,706.5 670.8,740.6 671.3,731.9 671.8,736.2 672.3,714.6 672.8,709.2 673.3,710.2 673.8,711.8 674.3,685.8 674.8,728.4 675.3,737.8 675.8,722.7 676.3,711.3 676.8,723.9 677.3,724.4 677.8,729.9 678.3,761.4 678.8,705.4 679.3,731.5 679.8,740.4 680.3,727.3 680.8,718.2 681.3,701.5 681.8,711.6 682.3,740.1 682.8,755.2 683.3,708.6 683.8,730.2 684.3,731.9 684.8,741.8 685.3,727.6 685.8,730.2 686.3,740.7 686.8,697.2 687.3,724.1 687.8,682.1 688.4,675.6 688.9,699.6 689.4,685.3 689.9,730 690.4,739.2 690.9,711.4 691.4,712.6 691.9,709 692.4,707.7 692.9,714.4 693.4,719.9 693.9,703.1 694.4,693.8 694.9,697.1 695.4,724.1 695.9,699.7 696.4,737.7 696.9,699.1 697.4,733 697.9,681.6 698.4,693.2 698.9,718.6 699.4,717.8 699.9,701.5 700.4,748.5 700.9,710.1 701.4,715.5 701.9,696.5 702.4,743.7 702.9,724.6 703.4,713.6 703.9,673 704.4,715.4 704.9,701.2 705.4,720.4 705.9,730 706.4,695.1 706.9,716.2 707.4,729.4 707.9,711.1 708.4,697.8 708.9,681.5 709.4,688.5 709.9,675.9 710.4,722.6 710.9,703.7 711.4,676.9 711.9,704.6 712.4,677 712.9,638.7 713.4,732.8 713.9,732.7 714.4,679.5 714.9,692.8 715.4,708.9 715.9,698.1 716.4,690.5 716.9,698.3 717.4,704.5 717.9,699.5 718.4,715.9 718.9,706.5 719.4,694.5 719.9,709.5 720.4,675.8 720.9,737.6 721.4,669.9 721.9,703.6 722.4,714 722.9,714.3 723.4,712.7 723.9,732.2 724.4,681.2 724.9,704.1 725.4,709.6 725.9,692.5 726.4,688.7 726.9,729.1 727.4,686.5 727.9,691.5 728.4,695.2 728.9,698.2 729.4,705.9 729.9,698.9 730.4,710.3 730.9,707.4 731.4,713 731.9,730.1 732.4,680.1 732.9,730.8 733.4,683.5 733.9,706.6 734.4,696.7 734.9,684.3 735.4,646.9 735.9,723.1 736.4,675 736.9,673.6 737.4,712.6 737.9,691.7 738.4,731.8 738.9,727.3 739.4,685 739.9,690.4 740.4,702.6 740.9,658 741.4,688.4 741.9,688.6 742.4,677 742.9,691.5 743.4,657.7 743.9,705.8 744.4,710.5 744.9,658.1 745.4,689.6 745.9,720.9 746.4,695.9 746.9,666.8 747.4,667.6 747.9,702.6 748.4,722.7 748.9,658.4 749.4,679.2 749.9,662.2 750.5,675 751,684.9 751.5,677.6 752,665.7 752.5,725.1 753,676.4 753.5,674.7 754,701.3 754.5,679.2 755,676.3 755.5,699.4 756,654.8 756.5,693.2 757,694.8 757.5,685.8 758,671.2 758.5,672.6 759,637 759.5,669.9 760,679.9 760.5,688.7 761,676.3 761.5,667 762,656 762.5,671 763,677 763.5,699.3 764,673.2 764.5,663.9 765,671.3 765.5,664.9 766,668.5 766.5,626.6 767,643.9 767.5,653.2 768,685.1 768.5,675.2 769,680.3 769.5,703.1 770,656.5 770.5,703.1 771,685.5 771.5,661.5 772,706.1 772.5,645.9 773,652.8 773.5,671 774,685.8 774.5,670.8 775,629.4 775.5,666.1 776,673.5 776.5,725.8 777,700.2 777.5,671.4 778,647.6 778.5,678.2 779,647.6 779.5,674.2 780,676.2 780.5,660.5 781,672.8 781.5,660.9 782,655.9 782.5,699.2 783,680.8 783.5,664.7 784,655.1 784.5,673.8 785,682.5 785.5,688.6 786,699.6 786.5,680.9 787,644.3 787.5,711.5 788,693.6 788.5,684.5 789,696 789.5,636.9 790,661.3 790.5,657.2 791,691.1 791.5,639.3 792,656.5 792.5,673.7 793,660.7 793.5,638.1 794,684.3 794.5,616.8 795,653.6 795.5,638.8 796,655.6 796.5,639.3 797,632.6 797.5,654.8 798,623.9 798.5,661.9 799,642.2 799.5,668 800,640.7 800.5,634.4 801,659 801.5,677.1 802,609.2 802.5,654.2 803,662.8 803.5,620 804,629.6 804.5,665.6 805,634.1 805.5,639.9 806,689.8 806.5,630.1 807,627.7 807.5,596.6 808,622.2 808.5,620.1 809,681.4 809.5,671.7 810,619.9 810.5,686.8 811,663.3 811.5,640.9 812,659.7 812.6,652.5 813.1,629.7 813.6,607.7 814.1,629.2 814.6,647.5 815.1,642.4 815.6,632.7 816.1,666.3 816.6,627.7 817.1,667.4 817.6,640 818.1,650.5 818.6,627.2 819.1,651.4 819.6,635.5 820.1,614.1 820.6,651.6 821.1,650.7 821.6,672.1 822.1,663 822.6,634.6 823.1,643.2 823.6,607 824.1,632.8 824.6,680.5 825.1,681.4 825.6,667.3 826.1,656.6 826.6,661.4 827.1,661 827.6,612.4 828.1,629.9 828.6,667.7 829.1,665.5 829.6,645.7 830.1,637.3 830.6,636.1 831.1,631.7 831.6,624.5 832.1,604.8 832.6,646.1 833.1,632.8 833.6,635.9 834.1,678.7 834.6,656.6 835.1,629.5 835.6,656.1 836.1,616.5 836.6,668.7 837.1,657.1 837.6,649.4 838.1,667 838.6,687.9 839.1,648.3 839.6,637 840.1,697.7 840.6,650.9 841.1,683.3 841.6,636.6 842.1,658.1 842.6,638.2 843.1,664.2 843.6,645.8 844.1,634.4 844.6,679.8 845.1,657.1 845.6,607 846.1,639.7 846.6,625.1 847.1,613.5 847.6,626.9 848.1,629.6 848.6,642.7 849.1,626.2 849.6,606.7 850.1,635.8 850.6,669.3 851.1,621.3 851.6,664.5 852.1,660.4 852.6,641 853.1,660 853.6,636.4 854.1,643.8 854.6,630.7 855.1,662.8 855.6,683.9 856.1,642.1 856.6,679.3 857.1,611.7 857.6,638.3 858.1,631.8 858.6,686.7 859.1,638 859.6,662.4 860.1,604.1 860.6,648.4 861.1,658 861.6,643.6 862.1,586.9 862.6,646.7 863.1,658.1 863.6,669 864.1,651.6 864.6,609.2 865.1,636.2 865.6,659.3 866.1,623.9 866.6,655.6 867.1,633.1 867.6,641.9 868.1,658.2 868.6,595.7 869.1,669.3 869.6,617.1 870.1,621.9 870.6,598.2 871.1,613.5 871.6,609.1 872.1,584.9 872.6,584.5 873.1,622.7 873.6,614.8 874.1,560.6 874.6,567.6 875.2,610.7 875.7,611.6 876.2,624.8 876.7,585.9 877.2,625.1 877.7,609.5 878.2,605.5 878.7,616.9 879.2,642.5 879.7,631.7 880.2,634.6 880.7,599 881.2,605.8 881.7,586.1 882.2,598.6 882.7,601.5 883.2,575.5 883.7,601.3 884.2,593 884.7,600.8 885.2,583.2 885.7,606.6 886.2,588.4 886.7,605.4 887.2,594.4 887.7,598.9 888.2,583.6 888.7,557.5 889.2,552.8 889.7,625.8 890.2,593.1 890.7,596.2 891.2,586.3 891.7,579.3 892.2,652.2 892.7,569.6 893.2,591.8 893.7,591.1 894.2,570.8 894.7,570.5 895.2,584.2 895.7,589.6 896.2,583.7 896.7,612.5 897.2,572.1 897.7,606.1 898.2,627.2 898.7,616.9 899.2,573.2 899.7,533 900.2,616.5 900.7,610.7 901.2,587 901.7,627.8 902.2,590.7 902.7,601.3 903.2,577.1 903.7,606.2 904.2,589.8 904.7,589.6 905.2,623.7 905.7,605.2 906.2,571.6 906.7,616.1 907.2,618.3 907.7,581.6 908.2,591.3 908.7,599.8 909.2,595.5 909.7,606.8 910.2,616.1 910.7,590.4 911.2,646.1 911.7,586.7 912.2,589.4 912.7,640.4 913.2,649.7 913.7,601.2 914.2,593.2 914.7,572.1 915.2,618.9 915.7,600.9 916.2,578.3 916.7,605.1 917.2,626.5 917.7,611.8 918.2,642.6 918.7,621.1 919.2,605.6 919.7,592.7 920.2,603.8 920.7,620.2 921.2,611.5 921.7,615.1 922.2,600 922.7,613.3 923.2,620.6 923.7,590.9 924.2,569.6 924.7,632.4 925.2,605.6 925.7,583.6 926.2,599.5 926.7,590.7 927.2,558.1 927.7,591.1 928.2,565.7 928.7,598 929.2,590.1 929.7,615.4 930.2,591.4 930.7,600.8 931.2,585.6 931.7,583.8 932.2,562.1 932.7,609.9 933.2,594.2 933.7,578.2 934.2,596.7 934.7,584.5 935.2,579.8 935.7,597.8 936.2,616.8 936.7,586.3 937.3,563.4 937.8,578.5 938.3,611.3 938.8,557.5 939.3,598.6 939.8,569.5 940.3,588.4 940.8,569.5 941.3,539.5 941.8,564.6 942.3,614.7 942.8,566.7 943.3,581.8 943.8,563 944.3,567.2 944.8,577.5 945.3,582 945.8,620.4 946.3,575.4 946.8,570.5 947.3,558.2 947.8,546.7 948.3,535 948.8,582.6 949.3,531.2 949.8,599.1 950.3,590 950.8,567.4 951.3,550.3 951.8,574.7 952.3,576.6 952.8,601.1 953.3,560.6 953.8,569.9 954.3,576 954.8,573.1 955.3,564.8 955.8,539.3 956.3,540.1 956.8,562.3 957.3,572.8 957.8,600 958.3,633.2 958.8,620.3 959.3,582.7 959.8,612.8 960.3,570.1 960.8,561.4 961.3,621.7 961.8,549.7 962.3,561 962.8,563.3 963.3,597.9 963.8,552.2 964.3,578.3 964.8,550.6 965.3,534.2 965.8,568 966.3,565.7 966.8,535.5 967.3,541.8 967.8,542.1 968.3,576.3 968.8,566.7 969.3,562.2 969.8,568.4 970.3,547.5 970.8,565.2 971.3,543 971.8,527.3 972.3,542.1 972.8,561.4 973.3,562.7 973.8,585.8 974.3,529.1 974.8,559.6 975.3,570.6 975.8,541.2 976.3,567.2 976.8,557.4 977.3,540.6 977.8,588.7 978.3,535.7 978.8,586.1 979.3,557.9 979.8,548.2 980.3,549.8 980.8,554.1 981.3,550.4 981.8,576 982.3,532.1 982.8,597.2 983.3,586.2 983.8,595.1 984.3,545.2 984.8,516.7 985.3,555.1 985.8,567.4 986.3,578.5 986.8,556.5 987.3,567.5 987.8,569.4 988.3,535 988.8,606.7 989.3,544.9 989.8,574.4 990.3,590.8 990.8,549.5 991.3,563.5 991.8,597.4 992.3,556.5 992.8,587.7 993.3,572.1 993.8,572.4 994.3,584.2 994.8,566.7 995.3,565.7 995.8,586.2 996.3,571.2 996.8,578.1 997.3,543 997.8,568.2 998.3,592.8 998.8,582.5 999.3,567.6 999.9,548.1 1000.4,545.8 1000.9,571 1001.4,595.9 1001.9,567.1 1002.4,595.1 1002.9,559.1 1003.4,592 1003.9,544.1 1004.4,568.8 1004.9,540.8 1005.4,576.9 1005.9,577.2 1006.4,541.5 1006.9,545.4 1007.4,550.3 1007.9,530.1 1008.4,542.4 1008.9,545.3 1009.4,581.9 1009.9,593.4 1010.4,556.3 1010.9,558 1011.4,567.3 1011.9,550.1 1012.4,554.7 1012.9,577.6 1013.4,565.3 1013.9,559.7 1014.4,550 1014.9,593.1 1015.4,550.5 1015.9,565.2 1016.4,544.9 1016.9,554.8 1017.4,571.1 1017.9,562.8 1018.4,580.9 1018.9,573.2 1019.4,543.4 1019.9,523.5 1020.4,592.7 1020.9,560.2 1021.4,605 1021.9,575.5 1022.4,557.5 1022.9,586.8 1023.4,565.6 1023.9,572.7 1024.4,551 1024.9,585.9 1025.4,596.7 1025.9,562.7 1026.4,607.5 1026.9,557.6 1027.4,574.1 1027.9,533.4 1028.4,527.8 1028.9,609.2 1029.4,594.7 1029.9,589.6 1030.4,531.5 1030.9,571.2 1031.4,572.4 1031.9,565.8 1032.4,568.7 1032.9,542.4 1033.4,560.5 1033.9,538.7 1034.4,556.2 1034.9,571.1 1035.4,545.4 1035.9,554.3 1036.4,552.5 1036.9,562.6 1037.4,580.5 1037.9,565.4 1038.4,569 1038.9,532.7 1039.4,555.2 1039.9,581 1040.4,542.5 1040.9,552.8 1041.4,541.2 1041.9,591.7 1042.4,555.8 1042.9,550.2 1043.4,579.6 1043.9,590.2 1044.4,578 1044.9,586.6 1045.4,569 1045.9,562.4 1046.4,555.5 1046.9,554.5 1047.4,552.7 1047.9,572.3 1048.4,561.7 1048.9,566.1 1049.4,579.7 1049.9,564.9 1050.4,539 1050.9,550.9 1051.4,544.8 1051.9,526.7 1052.4,567.3 1052.9,541.3 1053.4,538.8 1053.9,542 1054.4,584.8 1054.9,561.1 1055.4,590.9 1055.9,567.4 1056.4,560.7 1056.9,579.6 1057.4,581.8 1057.9,573.9 1058.4,547.9 1058.9,559.2 1059.4,541.4 1059.9,563.2 1060.4,569.8 1060.9,597.2 1061.4,595.9 1062,578.5 1062.5,585 1063,568.8 1063.5,621.2 1064,596.7 1064.5,616.3 1065,570.6 1065.5,571.4 1066,587.5 1066.5,568.1 1067,568.6 1067.5,539.5 1068,578 1068.5,566.3 1069,582 1069.5,559.9 1070,527.5 1070.5,576.9 1071,592.4 1071.5,542.8 1072,551 1072.5,565.2 1073,564.8 1073.5,534.8 1074,608.2 1074.5,592.8 1075,553.7 1075.5,527.7 1076,569.1 1076.5,607 1077,584.9 1077.5,593.7 1078,552.3 1078.5,572.4 1079,533.1 1079.5,609.6 1080,578.1 1080.5,520.3 1081,525.9 1081.5,574.6 1082,568.7 1082.5,560.2 1083,580.7 1083.5,610 1084,574.7 1084.5,532.4 1085,569.2 1085.5,546.5 1086,559.5 1086.5,581.6 1087,573.9 1087.5,555.8 1088,575.7 1088.5,559.8 1089,588.5 1089.5,569.3 1090,583.3 1090.5,569.3 1091,588.5 1091.5,567.7 1092,569.3 1092.5,558.6 1093,572.1 1093.5,531.5 1094,622.2 1094.5,549.6 1095,570.2 1095.5,556 1096,556.3 1096.5,573.6 1097,550.8 1097.5,548.6 1098,528.1 1098.5,538.4 1099,536 1099.5,596.5 1100,530.8 1100.5,538.3 1101,564.3 1101.5,591.9 1102,523.7 1102.5,526.4 1103,565.1 1103.5,570 1104,535.6 1104.5,527.3 1105,540.9 1105.5,578.1 1106,561.7 1106.5,578.8 1107,562.9 1107.5,567.8 1108,579.4 1108.5,564.4 1109,569.2 1109.5,547.7 1110,555 1110.5,576.2 1111,565.3 1111.5,552.6 1112,583.6 1112.5,579.4 1113,566 1113.5,550.3 1114,584.5 1114.5,617.4 1115,547.2 1115.5,528.3 1116,545.3 1116.5,540.4 1117,713.1 1117.5,712.9 1118,766.8 1118.5,767.6 1119,785.5 1119.5,765.5 1120,728.4 1120.5,777.1 1121,722.3 1121.5,729.9 1122,700.6 1122.5,777.2 1123,769.9 1123.5,720.7 1124.1,726.2 1124.6,740.1 1125.1,746.8 1125.6,770.9 1126.1,747 1126.6,757.5 1127.1,695.8 1127.6,734.4 1128.1,689.1 1128.6,804.6 1129.1,796.9 1129.6,773.5 1130.1,782.2 1130.6,817.7 1131.1,785 1131.6,709.9 1132.1,761.3 1132.6,696.7 1133.1,746.2 1133.6,736.9 1134.1,774.1 1134.6,787.6 1135.1,742.2 1135.6,760.5 1136.1,777.9 1136.6,762.1 1137.1,765 1137.6,691.8 1138.1,757.7 1138.6,793.2 1139.1,775.4 1139.6,720 1140.1,764.1 1140.6,776.1 1141.1,739 1141.6,790.8 1142.1,742.4 1142.6,755.8 1143.1,762.2 1143.6,835.7 1144.1,757.7 1144.6,748.4 1145.1,789.4 1145.6,750.8 1146.1,772 1146.6,697.2 1147.1,774.8 1147.6,766.9 1148.1,723.1 1148.6,806 1149.1,754 1149.6,756.2 1150.1,716 1150.6,706.5 1151.1,734.6 1151.6,699.4 1152.1,763 1152.6,774 1153.1,727 1153.6,700.1 1154.1,741 1154.6,721.6 1155.1,764.7" fill="none" stroke="#cdcdcd" stroke-width="1.2" stroke-linejoin="round"/>
<polyline points="656.8,720.1 657.8,728.1 658.8,721.2 659.8,704.2 660.8,701.8 661.8,715.6 662.8,716.4 663.8,726.1 664.8,717.1 665.8,694.1 666.8,715.9 667.8,729.5 668.8,724 669.8,714.9 670.8,726.4 671.8,728 672.8,712 673.8,702.9 674.8,717.4 675.8,725.1 676.8,721.4 677.8,739.5 678.8,732.9 679.8,733.7 680.8,714.9 681.8,717.8 682.8,734.8 683.8,722.5 684.8,732.8 685.8,731.9 686.8,720.4 687.8,693.8 688.9,686.7 689.9,718.9 690.9,721.8 691.9,709.5 692.9,713 693.9,706.6 694.9,704.6 695.9,721.5 696.9,722.3 697.9,703.3 698.9,710.4 699.9,721.4 700.9,725.4 701.9,718.2 702.9,726.9 703.9,701.6 704.9,713.1 705.9,714.6 706.9,714 707.9,712.7 708.9,689.6 709.9,696.1 710.9,700.6 711.9,687.2 712.9,684.5 713.9,714.3 714.9,694.1 715.9,699 716.9,697.9 717.9,707.1 718.9,705.9 719.9,692.3 720.9,693.5 721.9,695 722.9,712.6 723.9,708.3 724.9,698.2 725.9,696.4 726.9,701.9 727.9,691.4 728.9,700.4 729.9,705.6 730.9,711.4 731.9,708.3 732.9,698.7 733.9,695.2 734.9,676 735.9,681.6 736.9,686.7 737.9,711.2 738.9,721.7 739.9,697.1 740.9,682.9 741.9,684.4 742.9,674.6 743.9,691.9 744.9,686.1 745.9,703.1 746.9,677.3 747.9,696.5 748.9,686.5 749.9,671.3 751,678.4 752,689.5 753,691.9 754,684.6 755,685.8 756,680.9 757,690.1 758,678.2 759,660 760,680.9 761,677.6 762,664.7 763,683.1 764,678 765,666 766,653.3 767,642.7 768,669.9 769,685.7 770,686.9 771,683.1 772,670.7 773,657.3 774,677.4 775,655.8 776,690.1 777,699.4 778,665.9 779,667.5 780,669.7 781,664.3 782,672.1 783,681.2 784,664.9 785,681.7 786,688.1 787,676.9 788,697.1 789,673 790,652.8 791,663 792,663.3 793,659.5 794,646.5 795,636.6 796,645.1 797,643.8 798,647.3 799,656.6 800,648.6 801,657.4 802,647.2 803,645.2 804,636.5 805,645.6 806,655.2 807,617.4 808,613.1 809,657.6 810,659.2 811,664.9 812,649.8 813.1,630.8 814.1,629.8 815.1,642.3 816.1,640.5 817.1,644.5 818.1,638 819.1,638.5 820.1,632.8 821.1,656.9 822.1,657.8 823.1,627.8 824.1,640.2 825.1,674.5 826.1,661.7 827.1,646.5 828.1,638.3 829.1,658.9 830.1,640.6 831.1,630.3 832.1,626.2 833.1,638.7 834.1,657.5 835.1,647.3 836.1,648.5 837.1,659.3 838.1,667.8 839.1,657.9 840.1,661.7 841.1,658 842.1,643.8 843.1,649.1 844.1,652.4 845.1,649.1 846.1,622.8 847.1,620.1 848.1,632.4 849.1,624.7 850.1,636.5 851.1,650.6 852.1,655.1 853.1,647.5 854.1,637.2 855.1,658.7 856.1,669.2 857.1,643.6 858.1,651.7 859.1,663.4 860.1,638.9 861.1,650.6 862.1,626 863.1,657.1 864.1,643.5 865.1,633.7 866.1,645.5 867.1,644.3 868.1,643.3 869.1,625.3 870.1,613 871.1,605.6 872.1,592.9 873.1,607.5 874.1,582.1 875.2,599.7 876.2,607.2 877.2,606.1 878.2,609.5 879.2,631.5 880.2,621.2 881.2,596.9 882.2,595.6 883.2,584.3 884.2,597.2 885.2,594.2 886.2,600.9 887.2,599.1 888.2,581.1 889.2,578.1 890.2,604.3 891.2,588.5 892.2,600.8 893.2,584.5 894.2,577.5 895.2,582.9 896.2,593.7 897.2,597.2 898.2,615.5 899.2,574.9 900.2,587.6 901.2,607.6 902.2,606.1 903.2,594.7 904.2,594.6 905.2,606.5 906.2,598.9 907.2,605.6 908.2,591.4 909.2,600.2 910.2,604.4 911.2,608.4 912.2,605.7 913.2,630.1 914.2,588.6 915.2,596.6 916.2,594.2 917.2,614.8 918.2,624.4 919.2,607.2 920.2,604.3 921.2,615.2 922.2,609.5 923.2,607.7 924.2,598.7 925.2,606.3 926.2,591.4 927.2,579.1 928.2,585.9 929.2,600.9 930.2,603.5 931.2,589.8 932.2,586 933.2,594.6 934.2,586.8 935.2,588.9 936.2,599.5 937.3,577.3 938.3,576.1 939.3,574.6 940.3,575.6 941.3,558.1 942.3,581.3 943.3,570.6 944.3,569 945.3,593 946.3,589.7 947.3,557.2 948.3,553.2 949.3,571.7 950.3,585.6 951.3,564.6 952.3,584.3 953.3,576.3 954.3,572.1 955.3,559.7 956.3,546.5 957.3,578.2 958.3,619.6 959.3,602.1 960.3,581.1 961.3,578.1 962.3,557.6 963.3,571.5 964.3,560.4 965.3,550.2 966.3,557 967.3,540.4 968.3,560.5 969.3,565.5 970.3,560.9 971.3,545.6 972.3,544.2 973.3,570.3 974.3,558.7 975.3,556.8 976.3,554.2 977.3,561.4 978.3,569.9 979.3,564.1 980.3,550.6 981.3,559.1 982.3,568.8 983.3,592.7 984.3,552.5 985.3,546.6 986.3,569.5 987.3,566.1 988.3,570.4 989.3,575 990.3,572 991.3,569.4 992.3,579 993.3,576.8 994.3,574.1 995.3,573.7 996.3,577.6 997.3,563.3 998.3,582.1 999.3,565.4 1000.4,553.8 1001.4,579.3 1002.4,575 1003.4,566.1 1004.4,551.9 1005.4,564.2 1006.4,553.6 1007.4,541 1008.4,539.1 1009.4,574.5 1010.4,570.1 1011.4,558.7 1012.4,560.8 1013.4,567.3 1014.4,567.7 1015.4,570.2 1016.4,556.1 1017.4,562.9 1018.4,571.2 1019.4,547.2 1020.4,558.7 1021.4,580.3 1022.4,572.2 1023.4,573.3 1024.4,568.6 1025.4,582.1 1026.4,574.9 1027.4,555.3 1028.4,558.1 1029.4,597.2 1030.4,564.9 1031.4,568.6 1032.4,558.7 1033.4,548.5 1034.4,555.8 1035.4,557 1036.4,556.8 1037.4,569.3 1038.4,555.2 1039.4,556 1040.4,557.2 1041.4,561 1042.4,566.3 1043.4,573.5 1044.4,585.5 1045.4,571.9 1046.4,557.2 1047.4,560.1 1048.4,566.5 1049.4,571.4 1050.4,552.4 1051.4,541.8 1052.4,544.3 1053.4,541.1 1054.4,562.9 1055.4,574.1 1056.4,570.1 1057.4,578.2 1058.4,560.1 1059.4,553 1060.4,577 1061.4,591 1062.5,577.8 1063.5,594.5 1064.5,592.4 1065.5,575.5 1066.5,574.9 1067.5,562.1 1068.5,576.5 1069.5,556.3 1070.5,565.6 1071.5,562.2 1072.5,561 1073.5,569.1 1074.5,586.5 1075.5,551.4 1076.5,587.4 1077.5,576.7 1078.5,552.2 1079.5,575.3 1080.5,541 1081.5,556 1082.5,569.8 1083.5,588.6 1084.5,559.2 1085.5,558.3 1086.5,570.3 1087.5,569.4 1088.5,574.8 1089.5,579.1 1090.5,581 1091.5,574.7 1092.5,567.4 1093.5,575.9 1094.5,578.4 1095.5,560 1096.5,561 1097.5,541.5 1098.5,533.7 1099.5,553.8 1100.5,545.5 1101.5,561.4 1102.5,537.2 1103.5,556.3 1104.5,536.2 1105.5,560.7 1106.5,567.3 1107.5,571.8 1108.5,572 1109.5,558 1110.5,563.8 1111.5,566 1112.5,576.2 1113.5,567.2 1114.5,582.9 1115.5,539.4 1116.5,539.2 1117.5,730.1 1118.5,773.1 1119.5,760.4 1120.5,742.9 1121.5,718.7 1122.5,749.6 1123.5,737.7 1124.6,738.2 1125.6,755.9 1126.6,734.1 1127.6,706.5 1128.6,762.9 1129.6,784.5 1130.6,796.8 1131.6,751.1 1132.6,735.7 1133.6,754.6 1134.6,769.6 1135.6,759.8 1136.6,766.5 1137.6,736 1138.6,774.6 1139.6,751.1 1140.6,757.5 1141.6,758.1 1142.6,753.4 1143.6,784.3 1144.6,764.5 1145.6,770.2 1146.6,749.8 1147.6,756.9 1148.6,761.5 1149.6,744.1 1150.6,721.2 1151.6,730.7 1152.6,754.1 1153.6,723.3 1154.6,741.6" fill="none" stroke="#686868" stroke-width="1.5" stroke-linejoin="round"/>
<polyline points="656.8,713.7 739.3,713.7 739.3,677 792.2,677 792.2,647.9 868.5,647.9 868.5,618.3 882.8,618.3 882.8,592.5 938.2,592.5 938.2,577.8 959.1,577.8 959.1,563.5 1117,563.5 1117,732.7 1155.1,732.7" fill="none" stroke="#3146A0" stroke-width="2.2" stroke-linejoin="miter"/>
<line x1="739.30" y1="677.00" x2="792.20" y2="677.00" stroke="#B01E24" stroke-width="4.2" stroke-linecap="butt"/>
<line x1="792.20" y1="647.90" x2="868.50" y2="647.90" stroke="#B01E24" stroke-width="4.2" stroke-linecap="butt"/>
<line x1="868.50" y1="618.30" x2="882.80" y2="618.30" stroke="#B01E24" stroke-width="4.2" stroke-linecap="butt"/>
<line x1="882.80" y1="592.50" x2="938.20" y2="592.50" stroke="#B01E24" stroke-width="4.2" stroke-linecap="butt"/>
<line x1="938.20" y1="577.80" x2="959.10" y2="577.80" stroke="#B01E24" stroke-width="4.2" stroke-linecap="butt"/>
<line x1="959.10" y1="563.50" x2="1117.00" y2="563.50" stroke="#D4621F" stroke-width="4.2" stroke-linecap="butt"/>
<rect x="633.90" y="507.20" width="539.80" height="309.10" fill="none" stroke="#262626" stroke-width="2.0"/>
<line x1="701.25" y1="816.30" x2="701.25" y2="811.80" stroke="#262626" stroke-width="2.0"/>
<line x1="701.25" y1="507.20" x2="701.25" y2="511.70" stroke="#262626" stroke-width="2.0"/>
<line x1="768.60" y1="816.30" x2="768.60" y2="811.80" stroke="#262626" stroke-width="2.0"/>
<line x1="768.60" y1="507.20" x2="768.60" y2="511.70" stroke="#262626" stroke-width="2.0"/>
<line x1="835.95" y1="816.30" x2="835.95" y2="811.80" stroke="#262626" stroke-width="2.0"/>
<line x1="835.95" y1="507.20" x2="835.95" y2="511.70" stroke="#262626" stroke-width="2.0"/>
<line x1="903.30" y1="816.30" x2="903.30" y2="811.80" stroke="#262626" stroke-width="2.0"/>
<line x1="903.30" y1="507.20" x2="903.30" y2="511.70" stroke="#262626" stroke-width="2.0"/>
<line x1="970.65" y1="816.30" x2="970.65" y2="811.80" stroke="#262626" stroke-width="2.0"/>
<line x1="970.65" y1="507.20" x2="970.65" y2="511.70" stroke="#262626" stroke-width="2.0"/>
<line x1="1038.00" y1="816.30" x2="1038.00" y2="811.80" stroke="#262626" stroke-width="2.0"/>
<line x1="1038.00" y1="507.20" x2="1038.00" y2="511.70" stroke="#262626" stroke-width="2.0"/>
<line x1="1105.35" y1="816.30" x2="1105.35" y2="811.80" stroke="#262626" stroke-width="2.0"/>
<line x1="1105.35" y1="507.20" x2="1105.35" y2="511.70" stroke="#262626" stroke-width="2.0"/>
<line x1="633.90" y1="765.20" x2="638.40" y2="765.20" stroke="#262626" stroke-width="2.0"/>
<line x1="633.90" y1="713.70" x2="638.40" y2="713.70" stroke="#262626" stroke-width="2.0"/>
<line x1="633.90" y1="662.20" x2="638.40" y2="662.20" stroke="#262626" stroke-width="2.0"/>
<line x1="633.90" y1="610.70" x2="638.40" y2="610.70" stroke="#262626" stroke-width="2.0"/>
<line x1="633.90" y1="559.20" x2="638.40" y2="559.20" stroke="#262626" stroke-width="2.0"/>
<line x1="1173.70" y1="794.30" x2="1169.20" y2="794.30" stroke="#262626" stroke-width="2.0"/>
<line x1="1173.70" y1="713.70" x2="1169.20" y2="713.70" stroke="#262626" stroke-width="2.0"/>
<line x1="1173.70" y1="633.10" x2="1169.20" y2="633.10" stroke="#262626" stroke-width="2.0"/>
<line x1="1173.70" y1="552.50" x2="1169.20" y2="552.50" stroke="#262626" stroke-width="2.0"/>
<text x="596.63" y="517.47" font-size="25.5" fill="#000">80</text>
<text x="596.63" y="620.47" font-size="25.5" fill="#000">40</text>
<text x="610.81" y="723.47" font-size="25.5" fill="#000">0</text>
<text x="589.84" y="824.07" font-size="25.5" fill="#000">-40</text>
<text x="626.81" y="841.30" font-size="25.5" fill="#000">0</text>
<text x="676.47" y="841.30" font-size="25.5" fill="#000">0.05</text>
<text x="751.00" y="841.30" font-size="25.5" fill="#000">0.1</text>
<text x="811.17" y="841.30" font-size="25.5" fill="#000">0.15</text>
<text x="885.72" y="841.30" font-size="25.5" fill="#000">0.2</text>
<text x="945.87" y="841.30" font-size="25.5" fill="#000">0.25</text>
<text x="1020.34" y="841.30" font-size="25.5" fill="#000">0.3</text>
<text x="1080.57" y="841.30" font-size="25.5" fill="#000">0.35</text>
<text x="1154.85" y="841.30" font-size="25.5" fill="#000">0.4</text>
<text x="1182.00" y="723.47" font-size="25.5" fill="#000">0</text>
<text x="1182.00" y="642.87" font-size="25.5" fill="#000">0.5</text>
<text x="1181.06" y="562.27" font-size="25.5" fill="#000">1</text>
<text x="866.87" y="883.00" font-size="32.3" fill="#000">Time (s)</text>
<text transform="translate(1235.40,563.05) rotate(90)" font-size="32.3">Force (pN)</text>
<text x="772.66" y="606.40" font-size="25.5" fill="#000">11.4</text>
<text x="857.06" y="565.80" font-size="25.5" fill="#000">10.0</text>
<text x="944.28" y="543.00" font-size="25.5" fill="#000">5.6</text>
<text x="917.58" y="627.80" font-size="25.5" fill="#000">5.8</text>
<text x="848.96" y="688.90" font-size="25.5" fill="#000">11.5</text>
<rect x="210.31" y="1186.78" width="9.70" height="13.22" fill="#565858" stroke="#3c3e3e" stroke-width="0.8"/>
<rect x="223.93" y="1160.34" width="9.70" height="39.66" fill="#565858" stroke="#3c3e3e" stroke-width="0.8"/>
<rect x="237.55" y="1147.12" width="9.70" height="52.88" fill="#565858" stroke="#3c3e3e" stroke-width="0.8"/>
<rect x="251.17" y="1186.78" width="9.70" height="13.22" fill="#565858" stroke="#3c3e3e" stroke-width="0.8"/>
<rect x="264.78" y="1186.78" width="9.70" height="13.22" fill="#565858" stroke="#3c3e3e" stroke-width="0.8"/>
<rect x="305.64" y="1173.56" width="9.70" height="26.44" fill="#565858" stroke="#3c3e3e" stroke-width="0.8"/>
<rect x="319.26" y="1173.56" width="9.70" height="26.44" fill="#565858" stroke="#3c3e3e" stroke-width="0.8"/>
<rect x="332.88" y="1147.12" width="9.70" height="52.88" fill="#565858" stroke="#3c3e3e" stroke-width="0.8"/>
<rect x="346.50" y="1120.68" width="9.70" height="79.32" fill="#565858" stroke="#3c3e3e" stroke-width="0.8"/>
<rect x="360.12" y="1081.02" width="9.70" height="118.98" fill="#565858" stroke="#3c3e3e" stroke-width="0.8"/>
<rect x="373.73" y="1001.70" width="9.70" height="198.30" fill="#565858" stroke="#3c3e3e" stroke-width="0.8"/>
<rect x="387.35" y="1014.92" width="9.70" height="185.08" fill="#565858" stroke="#3c3e3e" stroke-width="0.8"/>
<rect x="400.97" y="962.04" width="9.70" height="237.96" fill="#565858" stroke="#3c3e3e" stroke-width="0.8"/>
<rect x="414.59" y="1067.80" width="9.70" height="132.20" fill="#565858" stroke="#3c3e3e" stroke-width="0.8"/>
<rect x="428.21" y="1147.12" width="9.70" height="52.88" fill="#565858" stroke="#3c3e3e" stroke-width="0.8"/>
<rect x="455.45" y="1186.78" width="9.70" height="13.22" fill="#565858" stroke="#3c3e3e" stroke-width="0.8"/>
<rect x="482.68" y="1186.78" width="9.70" height="13.22" fill="#565858" stroke="#3c3e3e" stroke-width="0.8"/>
<rect x="523.54" y="1186.78" width="9.70" height="13.22" fill="#565858" stroke="#3c3e3e" stroke-width="0.8"/>
<polyline points="321.4,1197.8 322.7,1197.1 324.1,1196.3 325.5,1195.3 326.8,1194.2 328.2,1192.7 329.6,1191.1 330.9,1189.1 332.3,1186.9 333.6,1184.3 335,1181.5 336.4,1178.3 337.7,1174.9 339.1,1171.2 340.5,1167.3 341.8,1163.3 343.2,1159.1 344.5,1155 345.9,1150.9 347.3,1147 348.6,1143.3 350,1139.9 351.3,1137.1 352.7,1134.7 354.1,1132.9 355.4,1131.7 356.8,1131.3 358.2,1131.5 359.5,1132.4 360.9,1133.9 362.2,1136 363.6,1138.7 365,1141.9 366.3,1145.4 367.7,1149.3 369.1,1153.3 370.4,1157.5 371.8,1161.6 373.1,1165.7 374.5,1169.7 375.9,1173.5 377.2,1177 378.6,1180.3 379.9,1183.2 381.3,1185.9 382.7,1188.3 384,1190.3 385.4,1192.1 386.8,1193.6 388.1,1194.9 389.5,1196 390.8,1196.8 392.2,1197.5" fill="none" stroke="#D4621F" stroke-width="2.3" stroke-dasharray="6,4"/>
<polyline points="350,1193 351.3,1191.5 352.7,1189.7 354.1,1187.7 355.4,1185.2 356.8,1182.4 358.2,1179.2 359.5,1175.5 360.9,1171.4 362.2,1166.7 363.6,1161.5 365,1155.8 366.3,1149.4 367.7,1142.5 369.1,1135.1 370.4,1127 371.8,1118.5 373.1,1109.5 374.5,1100 375.9,1090.2 377.2,1080.1 378.6,1069.9 379.9,1059.6 381.3,1049.3 382.7,1039.2 384,1029.4 385.4,1020 386.8,1011.3 388.1,1003.2 389.5,995.9 390.8,989.6 392.2,984.4 393.6,980.3 394.9,977.3 396.3,975.7 397.7,975.3 399,976.2 400.4,978.4 401.7,981.8 403.1,986.4 404.5,992 405.8,998.7 407.2,1006.3 408.5,1014.7 409.9,1023.7 411.3,1033.3 412.6,1043.2 414,1053.4 415.4,1063.7 416.7,1074 418.1,1084.2 419.4,1094.2 420.8,1103.8 422.2,1113.1 423.5,1122 424.9,1130.3 426.2,1138.1 427.6,1145.4 429,1152 430.3,1158.1 431.7,1163.7 433.1,1168.7 434.4,1173.1 435.8,1177.1 437.1,1180.5 438.5,1183.6 439.9,1186.2 441.2,1188.5 442.6,1190.5 444,1192.2" fill="none" stroke="#D4621F" stroke-width="2.3" stroke-dasharray="6,4"/>
<polyline points="99.4,1200 100.8,1200 102.1,1200 103.5,1200 104.8,1200 106.2,1200 107.6,1200 108.9,1200 110.3,1200 111.7,1200 113,1200 114.4,1200 115.7,1200 117.1,1200 118.5,1200 119.8,1200 121.2,1200 122.6,1200 123.9,1200 125.3,1200 126.6,1200 128,1200 129.4,1200 130.7,1200 132.1,1200 133.4,1200 134.8,1200 136.2,1200 137.5,1200 138.9,1200 140.3,1200 141.6,1200 143,1200 144.3,1200 145.7,1200 147.1,1200 148.4,1200 149.8,1200 151.2,1200 152.5,1200 153.9,1200 155.2,1200 156.6,1200 158,1200 159.3,1200 160.7,1200 162,1200 163.4,1200 164.8,1200 166.1,1200 167.5,1200 168.9,1200 170.2,1200 171.6,1200 172.9,1199.9 174.3,1199.9 175.7,1199.9 177,1199.9 178.4,1199.8 179.8,1199.8 181.1,1199.7 182.5,1199.6 183.8,1199.5 185.2,1199.4 186.6,1199.2 187.9,1199.1 189.3,1198.8 190.6,1198.6 192,1198.3 193.4,1197.9 194.7,1197.5 196.1,1197 197.5,1196.4 198.8,1195.7 200.2,1195 201.5,1194.1 202.9,1193.2 204.3,1192.1 205.6,1190.9 207,1189.7 208.4,1188.3 209.7,1186.8 211.1,1185.2 212.4,1183.6 213.8,1181.8 215.2,1180 216.5,1178.2 217.9,1176.3 219.2,1174.4 220.6,1172.6 222,1170.8 223.3,1169 224.7,1167.4 226.1,1165.8 227.4,1164.5 228.8,1163.3 230.1,1162.2 231.5,1161.4 232.9,1160.8 234.2,1160.5 235.6,1160.3 236.9,1160.5 238.3,1160.8 239.7,1161.4 241,1162.2 242.4,1163.3 243.8,1164.5 245.1,1165.8 246.5,1167.4 247.8,1169 249.2,1170.8 250.6,1172.6 251.9,1174.4 253.3,1176.3 254.7,1178.2 256,1180 257.4,1181.8 258.7,1183.6 260.1,1185.2 261.5,1186.8 262.8,1188.3 264.2,1189.7 265.5,1190.9 266.9,1192.1 268.3,1193.2 269.6,1194.1 271,1195 272.4,1195.7 273.7,1196.4 275.1,1197 276.4,1197.5 277.8,1197.9 279.2,1198.3 280.5,1198.6 281.9,1198.8 283.3,1199.1 284.6,1199.2 286,1199.4 287.3,1199.5 288.7,1199.6 290.1,1199.7 291.4,1199.8 292.8,1199.8 294.1,1199.8 295.5,1199.9 296.9,1199.9 298.2,1199.9 299.6,1199.9 301,1199.9 302.3,1199.8 303.7,1199.8 305,1199.7 306.4,1199.6 307.8,1199.5 309.1,1199.4 310.5,1199.2 311.9,1199 313.2,1198.7 314.6,1198.4 315.9,1197.9 317.3,1197.4 318.7,1196.7 320,1195.9 321.4,1195 322.7,1193.9 324.1,1192.5 325.5,1191 326.8,1189.2 328.2,1187.2 329.6,1184.9 330.9,1182.3 332.3,1179.4 333.6,1176.2 335,1172.7 336.4,1168.9 337.7,1164.8 339.1,1160.5 340.5,1155.8 341.8,1151 343.2,1146 344.5,1140.8 345.9,1135.5 347.3,1130.1 348.6,1124.7 350,1119.3 351.3,1114 352.7,1108.8 354.1,1103.7 355.4,1098.8 356.8,1094 358.2,1089.3 359.5,1084.9 360.9,1080.5 362.2,1076.3 363.6,1072.1 365,1068 366.3,1063.9 367.7,1059.8 369.1,1055.6 370.4,1051.3 371.8,1046.8 373.1,1042.2 374.5,1037.5 375.9,1032.6 377.2,1027.5 378.6,1022.3 379.9,1017 381.3,1011.7 382.7,1006.4 384,1001.2 385.4,996.1 386.8,991.2 388.1,986.7 389.5,982.6 390.8,978.9 392.2,975.9 393.6,973.4 394.9,971.6 396.3,970.6 397.7,970.4 399,971 400.4,972.4 401.7,974.7 403.1,977.8 404.5,981.7 405.8,986.4 407.2,991.8 408.5,997.9 409.9,1004.6 411.3,1011.9 412.6,1019.6 414,1027.8 415.4,1036.2 416.7,1044.9 418.1,1053.7 419.4,1062.6 420.8,1071.5 422.2,1080.3 423.5,1089 424.9,1097.5 426.2,1105.7 427.6,1113.6 429,1121.2 430.3,1128.5 431.7,1135.3 433.1,1141.7 434.4,1147.7 435.8,1153.3 437.1,1158.5 438.5,1163.2 439.9,1167.6 441.2,1171.5 442.6,1175.1 444,1178.3 445.3,1181.2 446.7,1183.7 448,1186 449.4,1188 450.8,1189.8 452.1,1191.3 453.5,1192.7 454.8,1193.8 456.2,1194.8 457.6,1195.7 458.9,1196.4 460.3,1197 461.7,1197.5 463,1198 464.4,1198.3 465.7,1198.7 467.1,1198.9 468.5,1199.1 469.8,1199.3 471.2,1199.4 472.6,1199.5 473.9,1199.6 475.3,1199.7 476.6,1199.8 478,1199.8 479.4,1199.9 480.7,1199.9 482.1,1199.9 483.4,1199.9 484.8,1200 486.2,1200 487.5,1200 488.9,1200 490.3,1200 491.6,1200 493,1200 494.3,1200 495.7,1200 497.1,1200 498.4,1200 499.8,1200 501.2,1200 502.5,1200 503.9,1200 505.2,1200 506.6,1200 508,1200 509.3,1200 510.7,1200 512,1200 513.4,1200 514.8,1200 516.1,1200 517.5,1200 518.9,1200 520.2,1200 521.6,1200 522.9,1200 524.3,1200 525.7,1200 527,1200 528.4,1200 529.8,1200 531.1,1200 532.5,1200 533.8,1200 535.2,1200" fill="none" stroke="#B01E24" stroke-width="2.6" stroke-linejoin="round"/>
<rect x="99.40" y="935.60" width="435.80" height="264.40" fill="none" stroke="#262626" stroke-width="2.0"/>
<line x1="153.88" y1="1200.00" x2="153.88" y2="1192.00" stroke="#262626" stroke-width="2.0"/>
<line x1="153.88" y1="935.60" x2="153.88" y2="943.60" stroke="#262626" stroke-width="2.0"/>
<line x1="208.35" y1="1200.00" x2="208.35" y2="1192.00" stroke="#262626" stroke-width="2.0"/>
<line x1="208.35" y1="935.60" x2="208.35" y2="943.60" stroke="#262626" stroke-width="2.0"/>
<line x1="262.83" y1="1200.00" x2="262.83" y2="1192.00" stroke="#262626" stroke-width="2.0"/>
<line x1="262.83" y1="935.60" x2="262.83" y2="943.60" stroke="#262626" stroke-width="2.0"/>
<line x1="317.30" y1="1200.00" x2="317.30" y2="1192.00" stroke="#262626" stroke-width="2.0"/>
<line x1="317.30" y1="935.60" x2="317.30" y2="943.60" stroke="#262626" stroke-width="2.0"/>
<line x1="371.78" y1="1200.00" x2="371.78" y2="1192.00" stroke="#262626" stroke-width="2.0"/>
<line x1="371.78" y1="935.60" x2="371.78" y2="943.60" stroke="#262626" stroke-width="2.0"/>
<line x1="426.25" y1="1200.00" x2="426.25" y2="1192.00" stroke="#262626" stroke-width="2.0"/>
<line x1="426.25" y1="935.60" x2="426.25" y2="943.60" stroke="#262626" stroke-width="2.0"/>
<line x1="480.73" y1="1200.00" x2="480.73" y2="1192.00" stroke="#262626" stroke-width="2.0"/>
<line x1="480.73" y1="935.60" x2="480.73" y2="943.60" stroke="#262626" stroke-width="2.0"/>
<line x1="99.40" y1="1133.90" x2="107.40" y2="1133.90" stroke="#262626" stroke-width="2.0"/>
<line x1="535.20" y1="1133.90" x2="527.20" y2="1133.90" stroke="#262626" stroke-width="2.0"/>
<line x1="99.40" y1="1067.80" x2="107.40" y2="1067.80" stroke="#262626" stroke-width="2.0"/>
<line x1="535.20" y1="1067.80" x2="527.20" y2="1067.80" stroke="#262626" stroke-width="2.0"/>
<line x1="99.40" y1="1001.70" x2="107.40" y2="1001.70" stroke="#262626" stroke-width="2.0"/>
<line x1="535.20" y1="1001.70" x2="527.20" y2="1001.70" stroke="#262626" stroke-width="2.0"/>
<text x="63.13" y="944.87" font-size="25.5" fill="#000">20</text>
<text x="63.21" y="1010.97" font-size="25.5" fill="#000">15</text>
<text x="63.13" y="1077.07" font-size="25.5" fill="#000">10</text>
<text x="74.89" y="1143.17" font-size="25.5" fill="#000">5</text>
<text x="74.81" y="1201.27" font-size="25.5" fill="#000">0</text>
<text x="110.70" y="982.40" font-size="30.3" font-weight="bold" fill="#000">0 - 0.5 pN</text>
<text x="124.84" y="1020.80" font-size="27.5" fill="#000">N=98, R</text>
<text x="227.94" y="1012.50" font-size="19.5" fill="#000">2</text>
<text x="241.86" y="1020.80" font-size="27.5" fill="#000">=0.974</text>
<rect x="183.07" y="1459.31" width="9.70" height="5.29" fill="#565858" stroke="#3c3e3e" stroke-width="0.8"/>
<rect x="223.93" y="1459.31" width="9.70" height="5.29" fill="#565858" stroke="#3c3e3e" stroke-width="0.8"/>
<rect x="237.55" y="1443.43" width="9.70" height="21.17" fill="#565858" stroke="#3c3e3e" stroke-width="0.8"/>
<rect x="251.17" y="1454.02" width="9.70" height="10.58" fill="#565858" stroke="#3c3e3e" stroke-width="0.8"/>
<rect x="278.40" y="1448.72" width="9.70" height="15.88" fill="#565858" stroke="#3c3e3e" stroke-width="0.8"/>
<rect x="305.64" y="1459.31" width="9.70" height="5.29" fill="#565858" stroke="#3c3e3e" stroke-width="0.8"/>
<rect x="319.26" y="1448.72" width="9.70" height="15.88" fill="#565858" stroke="#3c3e3e" stroke-width="0.8"/>
<rect x="332.88" y="1448.72" width="9.70" height="15.88" fill="#565858" stroke="#3c3e3e" stroke-width="0.8"/>
<rect x="346.50" y="1379.93" width="9.70" height="84.67" fill="#565858" stroke="#3c3e3e" stroke-width="0.8"/>
<rect x="360.12" y="1369.34" width="9.70" height="95.26" fill="#565858" stroke="#3c3e3e" stroke-width="0.8"/>
<rect x="373.73" y="1353.47" width="9.70" height="111.13" fill="#565858" stroke="#3c3e3e" stroke-width="0.8"/>
<rect x="387.35" y="1252.92" width="9.70" height="211.68" fill="#565858" stroke="#3c3e3e" stroke-width="0.8"/>
<rect x="400.97" y="1305.84" width="9.70" height="158.76" fill="#565858" stroke="#3c3e3e" stroke-width="0.8"/>
<rect x="414.59" y="1300.55" width="9.70" height="164.05" fill="#565858" stroke="#3c3e3e" stroke-width="0.8"/>
<rect x="428.21" y="1416.97" width="9.70" height="47.63" fill="#565858" stroke="#3c3e3e" stroke-width="0.8"/>
<rect x="441.83" y="1406.39" width="9.70" height="58.21" fill="#565858" stroke="#3c3e3e" stroke-width="0.8"/>
<rect x="455.45" y="1432.85" width="9.70" height="31.75" fill="#565858" stroke="#3c3e3e" stroke-width="0.8"/>
<rect x="469.07" y="1448.72" width="9.70" height="15.88" fill="#565858" stroke="#3c3e3e" stroke-width="0.8"/>
<rect x="482.68" y="1448.72" width="9.70" height="15.88" fill="#565858" stroke="#3c3e3e" stroke-width="0.8"/>
<polyline points="196.1,1464.3 197.5,1464.3 198.8,1464.2 200.2,1464.1 201.5,1464 202.9,1463.9 204.3,1463.7 205.6,1463.6 207,1463.4 208.4,1463.2 209.7,1463 211.1,1462.8 212.4,1462.5 213.8,1462.3 215.2,1462 216.5,1461.6 217.9,1461.3 219.2,1461 220.6,1460.6 222,1460.2 223.3,1459.9 224.7,1459.5 226.1,1459.1 227.4,1458.7 228.8,1458.4 230.1,1458.1 231.5,1457.8 232.9,1457.5 234.2,1457.2 235.6,1457 236.9,1456.9 238.3,1456.8 239.7,1456.7 241,1456.7 242.4,1456.7 243.8,1456.8 245.1,1456.9 246.5,1457 247.8,1457.2 249.2,1457.5 250.6,1457.8 251.9,1458.1 253.3,1458.4 254.7,1458.7 256,1459.1 257.4,1459.5 258.7,1459.9 260.1,1460.2 261.5,1460.6 262.8,1461 264.2,1461.3 265.5,1461.6 266.9,1462 268.3,1462.3 269.6,1462.5 271,1462.8 272.4,1463 273.7,1463.2 275.1,1463.4 276.4,1463.6 277.8,1463.7 279.2,1463.9 280.5,1464 281.9,1464.1 283.3,1464.2 284.6,1464.3 286,1464.3" fill="none" stroke="#D4621F" stroke-width="2.3" stroke-dasharray="6,4"/>
<polyline points="231.5,1464.3 232.9,1464.3 234.2,1464.2 235.6,1464.1 236.9,1464 238.3,1463.9 239.7,1463.8 241,1463.6 242.4,1463.4 243.8,1463.2 245.1,1463 246.5,1462.8 247.8,1462.5 249.2,1462.2 250.6,1461.9 251.9,1461.6 253.3,1461.2 254.7,1460.8 256,1460.5 257.4,1460.1 258.7,1459.7 260.1,1459.4 261.5,1459 262.8,1458.7 264.2,1458.4 265.5,1458.1 266.9,1457.8 268.3,1457.6 269.6,1457.4 271,1457.3 272.4,1457.2 273.7,1457.2 275.1,1457.2 276.4,1457.3 277.8,1457.4 279.2,1457.6 280.5,1457.8 281.9,1458.1 283.3,1458.4 284.6,1458.7 286,1459 287.3,1459.4 288.7,1459.7 290.1,1460.1 291.4,1460.5 292.8,1460.8 294.1,1461.2 295.5,1461.6 296.9,1461.9 298.2,1462.2 299.6,1462.5 301,1462.8 302.3,1463 303.7,1463.2 305,1463.4 306.4,1463.6 307.8,1463.8 309.1,1463.9 310.5,1464 311.9,1464.1 313.2,1464.2 314.6,1464.3 315.9,1464.3" fill="none" stroke="#D4621F" stroke-width="2.3" stroke-dasharray="6,4"/>
<polyline points="315.9,1463 317.3,1462.6 318.7,1462.2 320,1461.7 321.4,1461 322.7,1460.3 324.1,1459.5 325.5,1458.5 326.8,1457.4 328.2,1456.2 329.6,1454.8 330.9,1453.3 332.3,1451.7 333.6,1449.9 335,1447.9 336.4,1445.9 337.7,1443.7 339.1,1441.5 340.5,1439.2 341.8,1436.8 343.2,1434.5 344.5,1432.2 345.9,1429.9 347.3,1427.7 348.6,1425.7 350,1423.8 351.3,1422.2 352.7,1420.8 354.1,1419.7 355.4,1418.8 356.8,1418.3 358.2,1418 359.5,1418.1 360.9,1418.6 362.2,1419.3 363.6,1420.3 365,1421.6 366.3,1423.2 367.7,1424.9 369.1,1426.9 370.4,1429 371.8,1431.2 373.1,1433.5 374.5,1435.9 375.9,1438.2 377.2,1440.6 378.6,1442.8 379.9,1445 381.3,1447.1 382.7,1449.1 384,1451 385.4,1452.7 386.8,1454.2 388.1,1455.7 389.5,1456.9 390.8,1458.1 392.2,1459.1 393.6,1460 394.9,1460.8 396.3,1461.4 397.7,1462 399,1462.5 400.4,1462.9" fill="none" stroke="#D4621F" stroke-width="2.3" stroke-dasharray="6,4"/>
<polyline points="340.5,1459.3 341.8,1458.3 343.2,1457.3 344.5,1456.1 345.9,1454.7 347.3,1453.2 348.6,1451.4 350,1449.5 351.3,1447.3 352.7,1445 354.1,1442.3 355.4,1439.4 356.8,1436.2 358.2,1432.8 359.5,1429.1 360.9,1425 362.2,1420.7 363.6,1416.1 365,1411.2 366.3,1406 367.7,1400.5 369.1,1394.8 370.4,1388.9 371.8,1382.8 373.1,1376.5 374.5,1370.1 375.9,1363.6 377.2,1357.1 378.6,1350.5 379.9,1344 381.3,1337.6 382.7,1331.4 384,1325.4 385.4,1319.6 386.8,1314.2 388.1,1309.1 389.5,1304.5 390.8,1300.3 392.2,1296.7 393.6,1293.6 394.9,1291.1 396.3,1289.2 397.7,1288 399,1287.4 400.4,1287.4 401.7,1288.2 403.1,1289.5 404.5,1291.5 405.8,1294.2 407.2,1297.4 408.5,1301.1 409.9,1305.4 411.3,1310.1 412.6,1315.2 414,1320.7 415.4,1326.6 416.7,1332.6 418.1,1338.9 419.4,1345.3 420.8,1351.8 422.2,1358.4 423.5,1364.9 424.9,1371.4 426.2,1377.8 427.6,1384.1 429,1390.1 430.3,1396 431.7,1401.6 433.1,1407 434.4,1412.2 435.8,1417 437.1,1421.6 438.5,1425.8 439.9,1429.8 441.2,1433.5 442.6,1436.9 444,1440 445.3,1442.9 446.7,1445.5 448,1447.8 449.4,1449.9 450.8,1451.8 452.1,1453.5 453.5,1455 454.8,1456.3 456.2,1457.5 457.6,1458.5" fill="none" stroke="#D4621F" stroke-width="2.3" stroke-dasharray="6,4"/>
<polyline points="99.4,1464.6 100.8,1464.6 102.1,1464.6 103.5,1464.6 104.8,1464.6 106.2,1464.6 107.6,1464.6 108.9,1464.6 110.3,1464.6 111.7,1464.6 113,1464.6 114.4,1464.6 115.7,1464.6 117.1,1464.6 118.5,1464.6 119.8,1464.6 121.2,1464.6 122.6,1464.6 123.9,1464.6 125.3,1464.6 126.6,1464.6 128,1464.6 129.4,1464.6 130.7,1464.6 132.1,1464.6 133.4,1464.6 134.8,1464.6 136.2,1464.6 137.5,1464.6 138.9,1464.6 140.3,1464.6 141.6,1464.6 143,1464.6 144.3,1464.6 145.7,1464.6 147.1,1464.6 148.4,1464.6 149.8,1464.6 151.2,1464.6 152.5,1464.6 153.9,1464.6 155.2,1464.6 156.6,1464.6 158,1464.6 159.3,1464.6 160.7,1464.6 162,1464.6 163.4,1464.6 164.8,1464.6 166.1,1464.6 167.5,1464.6 168.9,1464.6 170.2,1464.6 171.6,1464.6 172.9,1464.6 174.3,1464.6 175.7,1464.6 177,1464.6 178.4,1464.6 179.8,1464.6 181.1,1464.6 182.5,1464.6 183.8,1464.6 185.2,1464.6 186.6,1464.5 187.9,1464.5 189.3,1464.5 190.6,1464.5 192,1464.4 193.4,1464.4 194.7,1464.4 196.1,1464.3 197.5,1464.3 198.8,1464.2 200.2,1464.1 201.5,1464 202.9,1463.9 204.3,1463.7 205.6,1463.6 207,1463.4 208.4,1463.2 209.7,1463 211.1,1462.8 212.4,1462.5 213.8,1462.2 215.2,1462 216.5,1461.6 217.9,1461.3 219.2,1460.9 220.6,1460.6 222,1460.2 223.3,1459.8 224.7,1459.4 226.1,1459 227.4,1458.6 228.8,1458.2 230.1,1457.9 231.5,1457.5 232.9,1457.2 234.2,1456.8 235.6,1456.6 236.9,1456.3 238.3,1456 239.7,1455.8 241,1455.7 242.4,1455.5 243.8,1455.4 245.1,1455.3 246.5,1455.2 247.8,1455.1 249.2,1455.1 250.6,1455 251.9,1455 253.3,1455 254.7,1455 256,1455 257.4,1455 258.7,1455 260.1,1455 261.5,1455 262.8,1455 264.2,1455.1 265.5,1455.1 266.9,1455.2 268.3,1455.2 269.6,1455.3 271,1455.5 272.4,1455.6 273.7,1455.8 275.1,1456 276.4,1456.3 277.8,1456.5 279.2,1456.8 280.5,1457.2 281.9,1457.5 283.3,1457.9 284.6,1458.2 286,1458.6 287.3,1459 288.7,1459.4 290.1,1459.8 291.4,1460.1 292.8,1460.5 294.1,1460.8 295.5,1461.1 296.9,1461.4 298.2,1461.6 299.6,1461.8 301,1461.9 302.3,1462 303.7,1462.1 305,1462.1 306.4,1462 307.8,1461.9 309.1,1461.7 310.5,1461.5 311.9,1461.2 313.2,1460.8 314.6,1460.4 315.9,1459.8 317.3,1459.2 318.7,1458.5 320,1457.7 321.4,1456.8 322.7,1455.8 324.1,1454.6 325.5,1453.4 326.8,1452 328.2,1450.4 329.6,1448.7 330.9,1446.9 332.3,1444.9 333.6,1442.8 335,1440.4 336.4,1438 337.7,1435.3 339.1,1432.5 340.5,1429.5 341.8,1426.3 343.2,1422.9 344.5,1419.4 345.9,1415.8 347.3,1411.9 348.6,1408 350,1403.9 351.3,1399.7 352.7,1395.4 354.1,1391 355.4,1386.6 356.8,1382.1 358.2,1377.6 359.5,1373 360.9,1368.5 362.2,1364 363.6,1359.5 365,1355.1 366.3,1350.7 367.7,1346.5 369.1,1342.3 370.4,1338.3 371.8,1334.3 373.1,1330.5 374.5,1326.8 375.9,1323.2 377.2,1319.7 378.6,1316.4 379.9,1313.2 381.3,1310.1 382.7,1307.1 384,1304.3 385.4,1301.5 386.8,1298.9 388.1,1296.4 389.5,1294 390.8,1291.7 392.2,1289.6 393.6,1287.7 394.9,1285.9 396.3,1284.4 397.7,1283.1 399,1282.1 400.4,1281.4 401.7,1281 403.1,1281 404.5,1281.3 405.8,1282.2 407.2,1283.4 408.5,1285.2 409.9,1287.4 411.3,1290.1 412.6,1293.4 414,1297.1 415.4,1301.3 416.7,1306.1 418.1,1311.2 419.4,1316.8 420.8,1322.7 422.2,1329 423.5,1335.5 424.9,1342.2 426.2,1349.1 427.6,1356.1 429,1363.1 430.3,1370.2 431.7,1377.1 433.1,1383.9 434.4,1390.5 435.8,1397 437.1,1403.1 438.5,1409 439.9,1414.5 441.2,1419.8 442.6,1424.6 444,1429.2 445.3,1433.3 446.7,1437.2 448,1440.6 449.4,1443.8 450.8,1446.6 452.1,1449.1 453.5,1451.3 454.8,1453.3 456.2,1455 457.6,1456.5 458.9,1457.8 460.3,1458.9 461.7,1459.9 463,1460.7 464.4,1461.4 465.7,1462 467.1,1462.5 468.5,1462.9 469.8,1463.2 471.2,1463.5 472.6,1463.7 473.9,1463.9 475.3,1464 476.6,1464.2 478,1464.3 479.4,1464.3 480.7,1464.4 482.1,1464.4 483.4,1464.5 484.8,1464.5 486.2,1464.5 487.5,1464.5 488.9,1464.6 490.3,1464.6 491.6,1464.6 493,1464.6 494.3,1464.6 495.7,1464.6 497.1,1464.6 498.4,1464.6 499.8,1464.6 501.2,1464.6 502.5,1464.6 503.9,1464.6 505.2,1464.6 506.6,1464.6 508,1464.6 509.3,1464.6 510.7,1464.6 512,1464.6 513.4,1464.6 514.8,1464.6 516.1,1464.6 517.5,1464.6 518.9,1464.6 520.2,1464.6 521.6,1464.6 522.9,1464.6 524.3,1464.6 525.7,1464.6 527,1464.6 528.4,1464.6 529.8,1464.6 531.1,1464.6 532.5,1464.6 533.8,1464.6 535.2,1464.6" fill="none" stroke="#B01E24" stroke-width="2.6" stroke-linejoin="round"/>
<rect x="99.40" y="1200.00" width="435.80" height="264.60" fill="none" stroke="#262626" stroke-width="2.0"/>
<line x1="153.88" y1="1464.60" x2="153.88" y2="1456.60" stroke="#262626" stroke-width="2.0"/>
<line x1="153.88" y1="1200.00" x2="153.88" y2="1208.00" stroke="#262626" stroke-width="2.0"/>
<line x1="208.35" y1="1464.60" x2="208.35" y2="1456.60" stroke="#262626" stroke-width="2.0"/>
<line x1="208.35" y1="1200.00" x2="208.35" y2="1208.00" stroke="#262626" stroke-width="2.0"/>
<line x1="262.83" y1="1464.60" x2="262.83" y2="1456.60" stroke="#262626" stroke-width="2.0"/>
<line x1="262.83" y1="1200.00" x2="262.83" y2="1208.00" stroke="#262626" stroke-width="2.0"/>
<line x1="317.30" y1="1464.60" x2="317.30" y2="1456.60" stroke="#262626" stroke-width="2.0"/>
<line x1="317.30" y1="1200.00" x2="317.30" y2="1208.00" stroke="#262626" stroke-width="2.0"/>
<line x1="371.78" y1="1464.60" x2="371.78" y2="1456.60" stroke="#262626" stroke-width="2.0"/>
<line x1="371.78" y1="1200.00" x2="371.78" y2="1208.00" stroke="#262626" stroke-width="2.0"/>
<line x1="426.25" y1="1464.60" x2="426.25" y2="1456.60" stroke="#262626" stroke-width="2.0"/>
<line x1="426.25" y1="1200.00" x2="426.25" y2="1208.00" stroke="#262626" stroke-width="2.0"/>
<line x1="480.73" y1="1464.60" x2="480.73" y2="1456.60" stroke="#262626" stroke-width="2.0"/>
<line x1="480.73" y1="1200.00" x2="480.73" y2="1208.00" stroke="#262626" stroke-width="2.0"/>
<line x1="99.40" y1="1411.68" x2="107.40" y2="1411.68" stroke="#262626" stroke-width="2.0"/>
<line x1="535.20" y1="1411.68" x2="527.20" y2="1411.68" stroke="#262626" stroke-width="2.0"/>
<line x1="99.40" y1="1358.76" x2="107.40" y2="1358.76" stroke="#262626" stroke-width="2.0"/>
<line x1="535.20" y1="1358.76" x2="527.20" y2="1358.76" stroke="#262626" stroke-width="2.0"/>
<line x1="99.40" y1="1305.84" x2="107.40" y2="1305.84" stroke="#262626" stroke-width="2.0"/>
<line x1="535.20" y1="1305.84" x2="527.20" y2="1305.84" stroke="#262626" stroke-width="2.0"/>
<line x1="99.40" y1="1252.92" x2="107.40" y2="1252.92" stroke="#262626" stroke-width="2.0"/>
<line x1="535.20" y1="1252.92" x2="527.20" y2="1252.92" stroke="#262626" stroke-width="2.0"/>
<text x="63.13" y="1262.19" font-size="25.5" fill="#000">40</text>
<text x="63.13" y="1315.11" font-size="25.5" fill="#000">30</text>
<text x="63.13" y="1368.03" font-size="25.5" fill="#000">20</text>
<text x="63.13" y="1420.95" font-size="25.5" fill="#000">10</text>
<text x="74.81" y="1470.87" font-size="25.5" fill="#000">0</text>
<text x="110.70" y="1241.90" font-size="30.3" font-weight="bold" fill="#000">0.5 -1.1 pN</text>
<text x="124.84" y="1280.90" font-size="27.5" fill="#000">N=208, R</text>
<text x="243.23" y="1272.60" font-size="19.5" fill="#000">2</text>
<text x="257.15" y="1280.90" font-size="27.5" fill="#000">=0.945</text>
<rect x="264.78" y="1701.84" width="9.70" height="26.36" fill="#565858" stroke="#3c3e3e" stroke-width="0.8"/>
<rect x="319.26" y="1715.02" width="9.70" height="13.18" fill="#565858" stroke="#3c3e3e" stroke-width="0.8"/>
<rect x="332.88" y="1701.84" width="9.70" height="26.36" fill="#565858" stroke="#3c3e3e" stroke-width="0.8"/>
<rect x="346.50" y="1583.22" width="9.70" height="144.98" fill="#565858" stroke="#3c3e3e" stroke-width="0.8"/>
<rect x="360.12" y="1477.78" width="9.70" height="250.42" fill="#565858" stroke="#3c3e3e" stroke-width="0.8"/>
<rect x="373.73" y="1504.14" width="9.70" height="224.06" fill="#565858" stroke="#3c3e3e" stroke-width="0.8"/>
<rect x="387.35" y="1583.22" width="9.70" height="144.98" fill="#565858" stroke="#3c3e3e" stroke-width="0.8"/>
<rect x="400.97" y="1530.50" width="9.70" height="197.70" fill="#565858" stroke="#3c3e3e" stroke-width="0.8"/>
<rect x="414.59" y="1583.22" width="9.70" height="144.98" fill="#565858" stroke="#3c3e3e" stroke-width="0.8"/>
<rect x="428.21" y="1688.66" width="9.70" height="39.54" fill="#565858" stroke="#3c3e3e" stroke-width="0.8"/>
<rect x="441.83" y="1715.02" width="9.70" height="13.18" fill="#565858" stroke="#3c3e3e" stroke-width="0.8"/>
<rect x="455.45" y="1715.02" width="9.70" height="13.18" fill="#565858" stroke="#3c3e3e" stroke-width="0.8"/>
<rect x="482.68" y="1701.84" width="9.70" height="26.36" fill="#565858" stroke="#3c3e3e" stroke-width="0.8"/>
<polyline points="330.9,1720.6 332.3,1718.2 333.6,1715.1 335,1711.4 336.4,1706.7 337.7,1701.2 339.1,1694.6 340.5,1686.8 341.8,1677.9 343.2,1667.8 344.5,1656.6 345.9,1644.2 347.3,1630.8 348.6,1616.6 350,1601.9 351.3,1586.9 352.7,1572 354.1,1557.5 355.4,1543.9 356.8,1531.5 358.2,1520.8 359.5,1512 360.9,1505.5 362.2,1501.5 363.6,1500.2 365,1501.5 366.3,1505.5 367.7,1512 369.1,1520.8 370.4,1531.5 371.8,1543.9 373.1,1557.5 374.5,1572 375.9,1586.9 377.2,1601.9 378.6,1616.6 379.9,1630.8 381.3,1644.2 382.7,1656.6 384,1667.8 385.4,1677.9 386.8,1686.8 388.1,1694.6 389.5,1701.2 390.8,1706.7 392.2,1711.4 393.6,1715.1 394.9,1718.2 396.3,1720.6" fill="none" stroke="#D4621F" stroke-width="2.3" stroke-dasharray="6,4"/>
<polyline points="359.5,1721.8 360.9,1720.4 362.2,1718.8 363.6,1716.9 365,1714.7 366.3,1712.3 367.7,1709.4 369.1,1706.2 370.4,1702.6 371.8,1698.5 373.1,1694.1 374.5,1689.1 375.9,1683.7 377.2,1677.9 378.6,1671.6 379.9,1664.9 381.3,1657.8 382.7,1650.3 384,1642.5 385.4,1634.5 386.8,1626.4 388.1,1618.2 389.5,1610 390.8,1601.9 392.2,1594 393.6,1586.4 394.9,1579.3 396.3,1572.7 397.7,1566.8 399,1561.6 400.4,1557.2 401.7,1553.6 403.1,1551.1 404.5,1549.5 405.8,1549 407.2,1549.4 408.5,1550.9 409.9,1553.4 411.3,1556.8 412.6,1561.2 414,1566.3 415.4,1572.2 416.7,1578.8 418.1,1585.8 419.4,1593.4 420.8,1601.2 422.2,1609.3 423.5,1617.5 424.9,1625.7 426.2,1633.9 427.6,1641.9 429,1649.7 430.3,1657.2 431.7,1664.3 433.1,1671.1 434.4,1677.4 435.8,1683.3 437.1,1688.7 438.5,1693.7 439.9,1698.2 441.2,1702.3 442.6,1705.9 444,1709.2 445.3,1712 446.7,1714.6 448,1716.7 449.4,1718.6 450.8,1720.3 452.1,1721.7" fill="none" stroke="#D4621F" stroke-width="2.3" stroke-dasharray="6,4"/>
<polyline points="99.4,1728.2 100.8,1728.2 102.1,1728.2 103.5,1728.2 104.8,1728.2 106.2,1728.2 107.6,1728.2 108.9,1728.2 110.3,1728.2 111.7,1728.2 113,1728.2 114.4,1728.2 115.7,1728.2 117.1,1728.2 118.5,1728.2 119.8,1728.2 121.2,1728.2 122.6,1728.2 123.9,1728.2 125.3,1728.2 126.6,1728.2 128,1728.2 129.4,1728.2 130.7,1728.2 132.1,1728.2 133.4,1728.2 134.8,1728.2 136.2,1728.2 137.5,1728.2 138.9,1728.2 140.3,1728.2 141.6,1728.2 143,1728.2 144.3,1728.2 145.7,1728.2 147.1,1728.2 148.4,1728.2 149.8,1728.2 151.2,1728.2 152.5,1728.2 153.9,1728.2 155.2,1728.2 156.6,1728.2 158,1728.2 159.3,1728.2 160.7,1728.2 162,1728.2 163.4,1728.2 164.8,1728.2 166.1,1728.2 167.5,1728.2 168.9,1728.2 170.2,1728.2 171.6,1728.2 172.9,1728.2 174.3,1728.2 175.7,1728.2 177,1728.2 178.4,1728.2 179.8,1728.2 181.1,1728.2 182.5,1728.2 183.8,1728.2 185.2,1728.2 186.6,1728.2 187.9,1728.2 189.3,1728.2 190.6,1728.2 192,1728.2 193.4,1728.2 194.7,1728.2 196.1,1728.2 197.5,1728.2 198.8,1728.2 200.2,1728.2 201.5,1728.2 202.9,1728.2 204.3,1728.2 205.6,1728.2 207,1728.2 208.4,1728.2 209.7,1728.2 211.1,1728.2 212.4,1728.2 213.8,1728.2 215.2,1728.2 216.5,1728.2 217.9,1728.2 219.2,1728.2 220.6,1728.2 222,1728.2 223.3,1728.2 224.7,1728.2 226.1,1728.2 227.4,1728.2 228.8,1728.2 230.1,1728.2 231.5,1728.2 232.9,1728.2 234.2,1728.2 235.6,1728.2 236.9,1728.1 238.3,1728.1 239.7,1728.1 241,1728 242.4,1727.9 243.8,1727.8 245.1,1727.6 246.5,1727.4 247.8,1727.1 249.2,1726.8 250.6,1726.3 251.9,1725.8 253.3,1725.2 254.7,1724.5 256,1723.7 257.4,1722.8 258.7,1721.8 260.1,1720.7 261.5,1719.6 262.8,1718.5 264.2,1717.5 265.5,1716.5 266.9,1715.6 268.3,1714.8 269.6,1714.2 271,1713.9 272.4,1713.7 273.7,1713.8 275.1,1714.1 276.4,1714.6 277.8,1715.2 279.2,1716.1 280.5,1717.1 281.9,1718.1 283.3,1719.2 284.6,1720.3 286,1721.4 287.3,1722.4 288.7,1723.3 290.1,1724.2 291.4,1724.9 292.8,1725.6 294.1,1726.1 295.5,1726.6 296.9,1727 298.2,1727.3 299.6,1727.5 301,1727.7 302.3,1727.8 303.7,1727.9 305,1728 306.4,1728 307.8,1728 309.1,1728 310.5,1727.9 311.9,1727.9 313.2,1727.7 314.6,1727.5 315.9,1727.3 317.3,1727 318.7,1726.5 320,1725.9 321.4,1725.1 322.7,1724.1 324.1,1722.8 325.5,1721.2 326.8,1719.2 328.2,1716.7 329.6,1713.7 330.9,1710 332.3,1705.6 333.6,1700.4 335,1694.4 336.4,1687.4 337.7,1679.5 339.1,1670.5 340.5,1660.6 341.8,1649.6 343.2,1637.8 344.5,1625.1 345.9,1611.8 347.3,1598 348.6,1583.8 350,1569.6 351.3,1555.6 352.7,1542.1 354.1,1529.3 355.4,1517.6 356.8,1507.1 358.2,1498.2 359.5,1490.9 360.9,1485.5 362.2,1481.9 363.6,1480.3 365,1480.5 366.3,1482.5 367.7,1486.1 369.1,1491.2 370.4,1497.3 371.8,1504.4 373.1,1512 374.5,1520 375.9,1527.9 377.2,1535.7 378.6,1542.9 379.9,1549.5 381.3,1555.2 382.7,1559.9 384,1563.7 385.4,1566.4 386.8,1568.1 388.1,1568.8 389.5,1568.6 390.8,1567.7 392.2,1566.2 393.6,1564.2 394.9,1561.8 396.3,1559.3 397.7,1556.8 399,1554.4 400.4,1552.2 401.7,1550.4 403.1,1549.1 404.5,1548.4 405.8,1548.3 407.2,1548.8 408.5,1550.1 409.9,1552.1 411.3,1554.8 412.6,1558.2 414,1562.3 415.4,1567.1 416.7,1572.4 418.1,1578.2 419.4,1584.4 420.8,1591.1 422.2,1598 423.5,1605.1 424.9,1612.4 426.2,1619.8 427.6,1627.2 429,1634.5 430.3,1641.7 431.7,1648.7 433.1,1655.5 434.4,1662 435.8,1668.2 437.1,1674.1 438.5,1679.6 439.9,1684.8 441.2,1689.6 442.6,1694 444,1698.1 445.3,1701.8 446.7,1705.1 448,1708.1 449.4,1710.9 450.8,1713.3 452.1,1715.4 453.5,1717.3 454.8,1718.9 456.2,1720.4 457.6,1721.6 458.9,1722.7 460.3,1723.6 461.7,1724.4 463,1725.1 464.4,1725.6 465.7,1726.1 467.1,1726.5 468.5,1726.8 469.8,1727.1 471.2,1727.3 472.6,1727.5 473.9,1727.6 475.3,1727.7 476.6,1727.8 478,1727.9 479.4,1728 480.7,1728 482.1,1728.1 483.4,1728.1 484.8,1728.1 486.2,1728.1 487.5,1728.2 488.9,1728.2 490.3,1728.2 491.6,1728.2 493,1728.2 494.3,1728.2 495.7,1728.2 497.1,1728.2 498.4,1728.2 499.8,1728.2 501.2,1728.2 502.5,1728.2 503.9,1728.2 505.2,1728.2 506.6,1728.2 508,1728.2 509.3,1728.2 510.7,1728.2 512,1728.2 513.4,1728.2 514.8,1728.2 516.1,1728.2 517.5,1728.2 518.9,1728.2 520.2,1728.2 521.6,1728.2 522.9,1728.2 524.3,1728.2 525.7,1728.2 527,1728.2 528.4,1728.2 529.8,1728.2 531.1,1728.2 532.5,1728.2 533.8,1728.2 535.2,1728.2" fill="none" stroke="#B01E24" stroke-width="2.6" stroke-linejoin="round"/>
<rect x="99.40" y="1464.60" width="435.80" height="263.60" fill="none" stroke="#262626" stroke-width="2.0"/>
<line x1="153.88" y1="1728.20" x2="153.88" y2="1720.20" stroke="#262626" stroke-width="2.0"/>
<line x1="153.88" y1="1464.60" x2="153.88" y2="1472.60" stroke="#262626" stroke-width="2.0"/>
<line x1="208.35" y1="1728.20" x2="208.35" y2="1720.20" stroke="#262626" stroke-width="2.0"/>
<line x1="208.35" y1="1464.60" x2="208.35" y2="1472.60" stroke="#262626" stroke-width="2.0"/>
<line x1="262.83" y1="1728.20" x2="262.83" y2="1720.20" stroke="#262626" stroke-width="2.0"/>
<line x1="262.83" y1="1464.60" x2="262.83" y2="1472.60" stroke="#262626" stroke-width="2.0"/>
<line x1="317.30" y1="1728.20" x2="317.30" y2="1720.20" stroke="#262626" stroke-width="2.0"/>
<line x1="317.30" y1="1464.60" x2="317.30" y2="1472.60" stroke="#262626" stroke-width="2.0"/>
<line x1="371.78" y1="1728.20" x2="371.78" y2="1720.20" stroke="#262626" stroke-width="2.0"/>
<line x1="371.78" y1="1464.60" x2="371.78" y2="1472.60" stroke="#262626" stroke-width="2.0"/>
<line x1="426.25" y1="1728.20" x2="426.25" y2="1720.20" stroke="#262626" stroke-width="2.0"/>
<line x1="426.25" y1="1464.60" x2="426.25" y2="1472.60" stroke="#262626" stroke-width="2.0"/>
<line x1="480.73" y1="1728.20" x2="480.73" y2="1720.20" stroke="#262626" stroke-width="2.0"/>
<line x1="480.73" y1="1464.60" x2="480.73" y2="1472.60" stroke="#262626" stroke-width="2.0"/>
<line x1="99.40" y1="1662.30" x2="107.40" y2="1662.30" stroke="#262626" stroke-width="2.0"/>
<line x1="535.20" y1="1662.30" x2="527.20" y2="1662.30" stroke="#262626" stroke-width="2.0"/>
<line x1="99.40" y1="1596.40" x2="107.40" y2="1596.40" stroke="#262626" stroke-width="2.0"/>
<line x1="535.20" y1="1596.40" x2="527.20" y2="1596.40" stroke="#262626" stroke-width="2.0"/>
<line x1="99.40" y1="1530.50" x2="107.40" y2="1530.50" stroke="#262626" stroke-width="2.0"/>
<line x1="535.20" y1="1530.50" x2="527.20" y2="1530.50" stroke="#262626" stroke-width="2.0"/>
<text x="63.21" y="1539.77" font-size="25.5" fill="#000">15</text>
<text x="63.13" y="1605.67" font-size="25.5" fill="#000">10</text>
<text x="74.89" y="1671.57" font-size="25.5" fill="#000">5</text>
<text x="74.81" y="1732.47" font-size="25.5" fill="#000">0</text>
<text x="109.99" y="1509.30" font-size="30.3" font-weight="bold" fill="#000">1.1- 2.5 pN</text>
<text x="124.84" y="1543.50" font-size="27.5" fill="#000">N=96, R</text>
<text x="227.94" y="1535.20" font-size="19.5" fill="#000">2</text>
<text x="241.86" y="1543.50" font-size="27.5" fill="#000">=0.971</text>
<text x="80.90" y="1755.30" font-size="25.5" fill="#000">-40</text>
<text x="189.85" y="1755.30" font-size="25.5" fill="#000">-20</text>
<text x="310.21" y="1755.30" font-size="25.5" fill="#000">0</text>
<text x="411.92" y="1755.30" font-size="25.5" fill="#000">20</text>
<text x="521.22" y="1755.30" font-size="25.5" fill="#000">40</text>
<text x="225.53" y="1789.40" font-size="32.3" fill="#000">Step size (nm)</text>
<text transform="translate(39.00,1387.35) rotate(-90)" font-size="32.3">Number</text>
<text x="-0.48" y="939.30" font-size="57" fill="#000">B</text>
<rect x="674.10" y="946.20" width="10.20" height="252.70" fill="#565858" stroke="#3c3e3e" stroke-width="0.8"/>
<rect x="689.28" y="1043.73" width="10.20" height="155.17" fill="#565858" stroke="#3c3e3e" stroke-width="0.8"/>
<rect x="704.48" y="1119.10" width="10.20" height="79.80" fill="#565858" stroke="#3c3e3e" stroke-width="0.8"/>
<rect x="719.66" y="1132.40" width="10.20" height="66.50" fill="#565858" stroke="#3c3e3e" stroke-width="0.8"/>
<rect x="734.86" y="1154.57" width="10.20" height="44.33" fill="#565858" stroke="#3c3e3e" stroke-width="0.8"/>
<rect x="750.04" y="1163.43" width="10.20" height="35.47" fill="#565858" stroke="#3c3e3e" stroke-width="0.8"/>
<rect x="765.24" y="1167.87" width="10.20" height="31.03" fill="#565858" stroke="#3c3e3e" stroke-width="0.8"/>
<rect x="780.42" y="1190.03" width="10.20" height="8.87" fill="#565858" stroke="#3c3e3e" stroke-width="0.8"/>
<rect x="795.62" y="1176.73" width="10.20" height="22.17" fill="#565858" stroke="#3c3e3e" stroke-width="0.8"/>
<rect x="810.80" y="1185.60" width="10.20" height="13.30" fill="#565858" stroke="#3c3e3e" stroke-width="0.8"/>
<rect x="826.00" y="1190.03" width="10.20" height="8.87" fill="#565858" stroke="#3c3e3e" stroke-width="0.8"/>
<rect x="841.18" y="1194.47" width="10.20" height="4.43" fill="#565858" stroke="#3c3e3e" stroke-width="0.8"/>
<rect x="856.38" y="1194.47" width="10.20" height="4.43" fill="#565858" stroke="#3c3e3e" stroke-width="0.8"/>
<rect x="871.56" y="1190.03" width="10.20" height="8.87" fill="#565858" stroke="#3c3e3e" stroke-width="0.8"/>
<rect x="917.13" y="1194.47" width="10.20" height="4.43" fill="#565858" stroke="#3c3e3e" stroke-width="0.8"/>
<rect x="1038.65" y="1194.47" width="10.20" height="4.43" fill="#565858" stroke="#3c3e3e" stroke-width="0.8"/>
<polyline points="675.1,932.9 676.2,940.8 677.7,951.4 679.2,961.5 680.7,971.2 682.3,980.5 683.8,989.5 685.3,998.1 686.8,1006.3 688.4,1014.2 689.9,1021.7 691.4,1029 692.9,1035.9 694.5,1042.6 696,1049 697.5,1055.1 699,1061 700.6,1066.7 702.1,1072.1 703.6,1077.3 705.1,1082.3 706.7,1087 708.2,1091.6 709.7,1096 711.2,1100.2 712.8,1104.3 714.3,1108.1 715.8,1111.9 717.3,1115.4 718.8,1118.8 720.4,1122.1 721.9,1125.3 723.4,1128.3 724.9,1131.2 726.5,1133.9 728,1136.6 729.5,1139.1 731,1141.6 732.6,1143.9 734.1,1146.2 735.6,1148.4 737.1,1150.4 738.7,1152.4 740.2,1154.3 741.7,1156.1 743.2,1157.9 744.8,1159.6 746.3,1161.2 747.8,1162.7 749.3,1164.2 750.9,1165.6 752.4,1167 753.9,1168.3 755.4,1169.5 756.9,1170.7 758.5,1171.9 760,1173 761.5,1174.1 763,1175.1 764.6,1176.1 766.1,1177 767.6,1177.9 769.1,1178.7 770.7,1179.6 772.2,1180.4 773.7,1181.1 775.2,1181.9 776.8,1182.6 778.3,1183.2 779.8,1183.9 781.3,1184.5 782.9,1185.1 784.4,1185.6 785.9,1186.2 787.4,1186.7 789,1187.2 790.5,1187.7 792,1188.1 793.5,1188.6 795.1,1189 796.6,1189.4 798.1,1189.8 799.6,1190.2 801.1,1190.5 802.7,1190.9 804.2,1191.2 805.7,1191.5 807.2,1191.8 808.8,1192.1 810.3,1192.4 811.8,1192.6 813.3,1192.9 814.9,1193.2 816.4,1193.4 817.9,1193.6 819.4,1193.8 821,1194 822.5,1194.2 824,1194.4 825.5,1194.6 827.1,1194.8 828.6,1195 830.1,1195.1 831.6,1195.3 833.2,1195.4 834.7,1195.6 836.2,1195.7 837.7,1195.8 839.2,1196 840.8,1196.1 842.3,1196.2 843.8,1196.3 845.3,1196.4 846.9,1196.5 848.4,1196.6 849.9,1196.7 851.4,1196.8 853,1196.9 854.5,1197 856,1197 857.5,1197.1 859.1,1197.2 860.6,1197.3 862.1,1197.3 863.6,1197.4 865.2,1197.5 866.7,1197.5 868.2,1197.6 869.7,1197.6 871.3,1197.7 872.8,1197.7 874.3,1197.8 875.8,1197.8 877.4,1197.9 878.9,1197.9 880.4,1197.9 881.9,1198 883.4,1198 885,1198.1 886.5,1198.1 888,1198.1 889.5,1198.2 891.1,1198.2 892.6,1198.2 894.1,1198.2 895.6,1198.3 897.2,1198.3 898.7,1198.3 900.2,1198.3 901.7,1198.4 903.3,1198.4 904.8,1198.4 906.3,1198.4 907.8,1198.5 909.4,1198.5 910.9,1198.5 912.4,1198.5 913.9,1198.5 915.5,1198.5 917,1198.6 918.5,1198.6 920,1198.6 921.5,1198.6 923.1,1198.6 924.6,1198.6 926.1,1198.6 927.6,1198.6 929.2,1198.7 930.7,1198.7 932.2,1198.7 933.7,1198.7 935.3,1198.7 936.8,1198.7 938.3,1198.7 939.8,1198.7 941.4,1198.7 942.9,1198.7 944.4,1198.7 945.9,1198.7 947.5,1198.7 949,1198.8 950.5,1198.8 952,1198.8 953.6,1198.8 955.1,1198.8 956.6,1198.8 958.1,1198.8 959.7,1198.8 961.2,1198.8 962.7,1198.8 964.2,1198.8 965.7,1198.8 967.3,1198.8 968.8,1198.8 970.3,1198.8 971.8,1198.8 973.4,1198.8 974.9,1198.8 976.4,1198.8 977.9,1198.8 979.5,1198.8 981,1198.8 982.5,1198.8 984,1198.8 985.6,1198.8 987.1,1198.8 988.6,1198.9 990.1,1198.9 991.7,1198.9 993.2,1198.9 994.7,1198.9 996.2,1198.9 997.8,1198.9 999.3,1198.9 1000.8,1198.9 1002.3,1198.9 1003.8,1198.9 1005.4,1198.9 1006.9,1198.9 1008.4,1198.9 1009.9,1198.9 1011.5,1198.9 1013,1198.9 1014.5,1198.9 1016,1198.9 1017.6,1198.9 1019.1,1198.9 1020.6,1198.9 1022.1,1198.9 1023.7,1198.9 1025.2,1198.9 1026.7,1198.9 1028.2,1198.9 1029.8,1198.9 1031.3,1198.9 1032.8,1198.9 1034.3,1198.9 1035.9,1198.9 1037.4,1198.9 1038.9,1198.9 1040.4,1198.9 1042,1198.9 1043.5,1198.9 1045,1198.9 1046.5,1198.9 1048,1198.9 1049.6,1198.9 1051.1,1198.9 1052.6,1198.9 1054.1,1198.9 1055.7,1198.9 1057.2,1198.9 1058.7,1198.9 1060.2,1198.9 1061.8,1198.9 1063.3,1198.9 1064.8,1198.9 1066.3,1198.9 1067.9,1198.9 1069.4,1198.9 1070.9,1198.9 1072.4,1198.9 1074,1198.9 1075.5,1198.9 1077,1198.9 1078.5,1198.9 1080.1,1198.9 1081.6,1198.9 1083.1,1198.9 1084.6,1198.9 1086.1,1198.9 1087.7,1198.9 1089.2,1198.9 1090.7,1198.9 1092.2,1198.9 1093.8,1198.9 1095.3,1198.9 1096.8,1198.9 1098.3,1198.9 1099.9,1198.9 1101.4,1198.9 1102.9,1198.9 1104.4,1198.9 1106,1198.9 1107.5,1198.9 1109,1198.9 1110.5,1198.9 1112.1,1198.9 1113.6,1198.9 1115.1,1198.9 1116.6,1198.9 1118.2,1198.9 1119.7,1198.9 1121.2,1198.9 1122.7,1198.9 1124.3,1198.9 1125.8,1198.9 1127.3,1198.9" fill="none" stroke="#B01E24" stroke-width="2.6" stroke-linejoin="round"/>
<rect x="671.60" y="932.90" width="455.70" height="266.00" fill="none" stroke="#262626" stroke-width="2.0"/>
<line x1="747.55" y1="1198.90" x2="747.55" y2="1190.90" stroke="#262626" stroke-width="2.0"/>
<line x1="747.55" y1="932.90" x2="747.55" y2="940.90" stroke="#262626" stroke-width="2.0"/>
<line x1="823.50" y1="1198.90" x2="823.50" y2="1190.90" stroke="#262626" stroke-width="2.0"/>
<line x1="823.50" y1="932.90" x2="823.50" y2="940.90" stroke="#262626" stroke-width="2.0"/>
<line x1="899.45" y1="1198.90" x2="899.45" y2="1190.90" stroke="#262626" stroke-width="2.0"/>
<line x1="899.45" y1="932.90" x2="899.45" y2="940.90" stroke="#262626" stroke-width="2.0"/>
<line x1="975.40" y1="1198.90" x2="975.40" y2="1190.90" stroke="#262626" stroke-width="2.0"/>
<line x1="975.40" y1="932.90" x2="975.40" y2="940.90" stroke="#262626" stroke-width="2.0"/>
<line x1="1051.35" y1="1198.90" x2="1051.35" y2="1190.90" stroke="#262626" stroke-width="2.0"/>
<line x1="1051.35" y1="932.90" x2="1051.35" y2="940.90" stroke="#262626" stroke-width="2.0"/>
<line x1="671.60" y1="1154.57" x2="679.60" y2="1154.57" stroke="#262626" stroke-width="2.0"/>
<line x1="1127.30" y1="1154.57" x2="1119.30" y2="1154.57" stroke="#262626" stroke-width="2.0"/>
<line x1="671.60" y1="1110.23" x2="679.60" y2="1110.23" stroke="#262626" stroke-width="2.0"/>
<line x1="1127.30" y1="1110.23" x2="1119.30" y2="1110.23" stroke="#262626" stroke-width="2.0"/>
<line x1="671.60" y1="1065.90" x2="679.60" y2="1065.90" stroke="#262626" stroke-width="2.0"/>
<line x1="1127.30" y1="1065.90" x2="1119.30" y2="1065.90" stroke="#262626" stroke-width="2.0"/>
<line x1="671.60" y1="1021.57" x2="679.60" y2="1021.57" stroke="#262626" stroke-width="2.0"/>
<line x1="1127.30" y1="1021.57" x2="1119.30" y2="1021.57" stroke="#262626" stroke-width="2.0"/>
<line x1="671.60" y1="977.23" x2="679.60" y2="977.23" stroke="#262626" stroke-width="2.0"/>
<line x1="1127.30" y1="977.23" x2="1119.30" y2="977.23" stroke="#262626" stroke-width="2.0"/>
<text x="631.93" y="942.17" font-size="25.5" fill="#000">60</text>
<text x="631.93" y="1030.84" font-size="25.5" fill="#000">40</text>
<text x="631.93" y="1119.51" font-size="25.5" fill="#000">20</text>
<text x="646.11" y="1205.17" font-size="25.5" fill="#000">0</text>
<text x="882.60" y="981.40" font-size="30.3" font-weight="bold" fill="#000">0 - 0.5 pN</text>
<text x="895.44" y="1017.90" font-size="27.5" fill="#000">N=169, R</text>
<text x="1013.83" y="1009.60" font-size="19.5" fill="#000">2</text>
<text x="1027.75" y="1017.90" font-size="27.5" fill="#000">=0.988</text>
<rect x="676.69" y="1228.79" width="20.20" height="235.81" fill="#565858" stroke="#3c3e3e" stroke-width="0.8"/>
<rect x="707.07" y="1335.07" width="20.20" height="129.53" fill="#565858" stroke="#3c3e3e" stroke-width="0.8"/>
<rect x="737.45" y="1401.50" width="20.20" height="63.10" fill="#565858" stroke="#3c3e3e" stroke-width="0.8"/>
<rect x="767.83" y="1424.74" width="20.20" height="39.85" fill="#565858" stroke="#3c3e3e" stroke-width="0.8"/>
<rect x="798.21" y="1431.39" width="20.20" height="33.21" fill="#565858" stroke="#3c3e3e" stroke-width="0.8"/>
<rect x="828.59" y="1447.99" width="20.20" height="16.61" fill="#565858" stroke="#3c3e3e" stroke-width="0.8"/>
<rect x="858.97" y="1457.96" width="20.20" height="6.64" fill="#565858" stroke="#3c3e3e" stroke-width="0.8"/>
<rect x="889.35" y="1444.67" width="20.20" height="19.93" fill="#565858" stroke="#3c3e3e" stroke-width="0.8"/>
<rect x="980.49" y="1461.28" width="20.20" height="3.32" fill="#565858" stroke="#3c3e3e" stroke-width="0.8"/>
<rect x="1010.87" y="1461.28" width="20.20" height="3.32" fill="#565858" stroke="#3c3e3e" stroke-width="0.8"/>
<rect x="1041.25" y="1457.96" width="20.20" height="6.64" fill="#565858" stroke="#3c3e3e" stroke-width="0.8"/>
<polyline points="679.2,1198.9 679.2,1199 680.7,1206.7 682.3,1214.2 683.8,1221.5 685.3,1228.5 686.8,1235.4 688.4,1242.1 689.9,1248.5 691.4,1254.8 692.9,1260.9 694.5,1266.8 696,1272.6 697.5,1278.2 699,1283.6 700.6,1288.9 702.1,1294 703.6,1298.9 705.1,1303.7 706.7,1308.4 708.2,1313 709.7,1317.4 711.2,1321.7 712.8,1325.8 714.3,1329.8 715.8,1333.8 717.3,1337.6 718.8,1341.3 720.4,1344.9 721.9,1348.3 723.4,1351.7 724.9,1355 726.5,1358.2 728,1361.3 729.5,1364.3 731,1367.2 732.6,1370 734.1,1372.8 735.6,1375.5 737.1,1378 738.7,1380.6 740.2,1383 741.7,1385.4 743.2,1387.7 744.8,1389.9 746.3,1392.1 747.8,1394.2 749.3,1396.2 750.9,1398.2 752.4,1400.2 753.9,1402 755.4,1403.9 756.9,1405.6 758.5,1407.3 760,1409 761.5,1410.6 763,1412.2 764.6,1413.7 766.1,1415.2 767.6,1416.6 769.1,1418 770.7,1419.4 772.2,1420.7 773.7,1422 775.2,1423.2 776.8,1424.4 778.3,1425.6 779.8,1426.7 781.3,1427.8 782.9,1428.9 784.4,1429.9 785.9,1430.9 787.4,1431.9 789,1432.9 790.5,1433.8 792,1434.7 793.5,1435.6 795.1,1436.4 796.6,1437.2 798.1,1438 799.6,1438.8 801.1,1439.5 802.7,1440.3 804.2,1441 805.7,1441.7 807.2,1442.3 808.8,1443 810.3,1443.6 811.8,1444.2 813.3,1444.8 814.9,1445.4 816.4,1445.9 817.9,1446.5 819.4,1447 821,1447.5 822.5,1448 824,1448.5 825.5,1449 827.1,1449.4 828.6,1449.9 830.1,1450.3 831.6,1450.7 833.2,1451.1 834.7,1451.5 836.2,1451.9 837.7,1452.3 839.2,1452.6 840.8,1453 842.3,1453.3 843.8,1453.6 845.3,1454 846.9,1454.3 848.4,1454.6 849.9,1454.9 851.4,1455.1 853,1455.4 854.5,1455.7 856,1455.9 857.5,1456.2 859.1,1456.4 860.6,1456.7 862.1,1456.9 863.6,1457.1 865.2,1457.3 866.7,1457.6 868.2,1457.8 869.7,1458 871.3,1458.2 872.8,1458.3 874.3,1458.5 875.8,1458.7 877.4,1458.9 878.9,1459 880.4,1459.2 881.9,1459.4 883.4,1459.5 885,1459.7 886.5,1459.8 888,1459.9 889.5,1460.1 891.1,1460.2 892.6,1460.3 894.1,1460.5 895.6,1460.6 897.2,1460.7 898.7,1460.8 900.2,1460.9 901.7,1461 903.3,1461.1 904.8,1461.2 906.3,1461.3 907.8,1461.4 909.4,1461.5 910.9,1461.6 912.4,1461.7 913.9,1461.8 915.5,1461.9 917,1461.9 918.5,1462 920,1462.1 921.5,1462.2 923.1,1462.2 924.6,1462.3 926.1,1462.4 927.6,1462.4 929.2,1462.5 930.7,1462.6 932.2,1462.6 933.7,1462.7 935.3,1462.7 936.8,1462.8 938.3,1462.8 939.8,1462.9 941.4,1462.9 942.9,1463 944.4,1463 945.9,1463.1 947.5,1463.1 949,1463.2 950.5,1463.2 952,1463.3 953.6,1463.3 955.1,1463.3 956.6,1463.4 958.1,1463.4 959.7,1463.4 961.2,1463.5 962.7,1463.5 964.2,1463.5 965.7,1463.6 967.3,1463.6 968.8,1463.6 970.3,1463.7 971.8,1463.7 973.4,1463.7 974.9,1463.7 976.4,1463.8 977.9,1463.8 979.5,1463.8 981,1463.8 982.5,1463.9 984,1463.9 985.6,1463.9 987.1,1463.9 988.6,1463.9 990.1,1464 991.7,1464 993.2,1464 994.7,1464 996.2,1464 997.8,1464 999.3,1464.1 1000.8,1464.1 1002.3,1464.1 1003.8,1464.1 1005.4,1464.1 1006.9,1464.1 1008.4,1464.1 1009.9,1464.2 1011.5,1464.2 1013,1464.2 1014.5,1464.2 1016,1464.2 1017.6,1464.2 1019.1,1464.2 1020.6,1464.2 1022.1,1464.3 1023.7,1464.3 1025.2,1464.3 1026.7,1464.3 1028.2,1464.3 1029.8,1464.3 1031.3,1464.3 1032.8,1464.3 1034.3,1464.3 1035.9,1464.3 1037.4,1464.3 1038.9,1464.3 1040.4,1464.4 1042,1464.4 1043.5,1464.4 1045,1464.4 1046.5,1464.4 1048,1464.4 1049.6,1464.4 1051.1,1464.4 1052.6,1464.4 1054.1,1464.4 1055.7,1464.4 1057.2,1464.4 1058.7,1464.4 1060.2,1464.4 1061.8,1464.4 1063.3,1464.4 1064.8,1464.4 1066.3,1464.5 1067.9,1464.5 1069.4,1464.5 1070.9,1464.5 1072.4,1464.5 1074,1464.5 1075.5,1464.5 1077,1464.5 1078.5,1464.5 1080.1,1464.5 1081.6,1464.5 1083.1,1464.5 1084.6,1464.5 1086.1,1464.5 1087.7,1464.5 1089.2,1464.5 1090.7,1464.5 1092.2,1464.5 1093.8,1464.5 1095.3,1464.5 1096.8,1464.5 1098.3,1464.5 1099.9,1464.5 1101.4,1464.5 1102.9,1464.5 1104.4,1464.5 1106,1464.5 1107.5,1464.5 1109,1464.5 1110.5,1464.5 1112.1,1464.5 1113.6,1464.5 1115.1,1464.5 1116.6,1464.5 1118.2,1464.5 1119.7,1464.5 1121.2,1464.5 1122.7,1464.6 1124.3,1464.6 1125.8,1464.6 1127.3,1464.6" fill="none" stroke="#B01E24" stroke-width="2.6" stroke-linejoin="round"/>
<rect x="671.60" y="1198.90" width="455.70" height="265.70" fill="none" stroke="#262626" stroke-width="2.0"/>
<line x1="747.55" y1="1464.60" x2="747.55" y2="1456.60" stroke="#262626" stroke-width="2.0"/>
<line x1="747.55" y1="1198.90" x2="747.55" y2="1206.90" stroke="#262626" stroke-width="2.0"/>
<line x1="823.50" y1="1464.60" x2="823.50" y2="1456.60" stroke="#262626" stroke-width="2.0"/>
<line x1="823.50" y1="1198.90" x2="823.50" y2="1206.90" stroke="#262626" stroke-width="2.0"/>
<line x1="899.45" y1="1464.60" x2="899.45" y2="1456.60" stroke="#262626" stroke-width="2.0"/>
<line x1="899.45" y1="1198.90" x2="899.45" y2="1206.90" stroke="#262626" stroke-width="2.0"/>
<line x1="975.40" y1="1464.60" x2="975.40" y2="1456.60" stroke="#262626" stroke-width="2.0"/>
<line x1="975.40" y1="1198.90" x2="975.40" y2="1206.90" stroke="#262626" stroke-width="2.0"/>
<line x1="1051.35" y1="1464.60" x2="1051.35" y2="1456.60" stroke="#262626" stroke-width="2.0"/>
<line x1="1051.35" y1="1198.90" x2="1051.35" y2="1206.90" stroke="#262626" stroke-width="2.0"/>
<line x1="671.60" y1="1431.39" x2="679.60" y2="1431.39" stroke="#262626" stroke-width="2.0"/>
<line x1="1127.30" y1="1431.39" x2="1119.30" y2="1431.39" stroke="#262626" stroke-width="2.0"/>
<line x1="671.60" y1="1398.17" x2="679.60" y2="1398.17" stroke="#262626" stroke-width="2.0"/>
<line x1="1127.30" y1="1398.17" x2="1119.30" y2="1398.17" stroke="#262626" stroke-width="2.0"/>
<line x1="671.60" y1="1364.96" x2="679.60" y2="1364.96" stroke="#262626" stroke-width="2.0"/>
<line x1="1127.30" y1="1364.96" x2="1119.30" y2="1364.96" stroke="#262626" stroke-width="2.0"/>
<line x1="671.60" y1="1331.75" x2="679.60" y2="1331.75" stroke="#262626" stroke-width="2.0"/>
<line x1="1127.30" y1="1331.75" x2="1119.30" y2="1331.75" stroke="#262626" stroke-width="2.0"/>
<line x1="671.60" y1="1298.54" x2="679.60" y2="1298.54" stroke="#262626" stroke-width="2.0"/>
<line x1="1127.30" y1="1298.54" x2="1119.30" y2="1298.54" stroke="#262626" stroke-width="2.0"/>
<line x1="671.60" y1="1265.33" x2="679.60" y2="1265.33" stroke="#262626" stroke-width="2.0"/>
<line x1="1127.30" y1="1265.33" x2="1119.30" y2="1265.33" stroke="#262626" stroke-width="2.0"/>
<line x1="671.60" y1="1232.11" x2="679.60" y2="1232.11" stroke="#262626" stroke-width="2.0"/>
<line x1="1127.30" y1="1232.11" x2="1119.30" y2="1232.11" stroke="#262626" stroke-width="2.0"/>
<text x="631.93" y="1274.60" font-size="25.5" fill="#000">60</text>
<text x="631.93" y="1341.02" font-size="25.5" fill="#000">40</text>
<text x="631.93" y="1407.45" font-size="25.5" fill="#000">20</text>
<text x="646.11" y="1470.87" font-size="25.5" fill="#000">0</text>
<text x="882.60" y="1239.70" font-size="30.3" font-weight="bold" fill="#000">0.5 -1.1 pN</text>
<text x="894.64" y="1277.40" font-size="27.5" fill="#000">N=168, R</text>
<text x="1013.03" y="1269.10" font-size="19.5" fill="#000">2</text>
<text x="1026.95" y="1277.40" font-size="27.5" fill="#000">=0.993</text>
<rect x="676.69" y="1517.70" width="20.20" height="212.40" fill="#565858" stroke="#3c3e3e" stroke-width="0.8"/>
<rect x="707.07" y="1581.42" width="20.20" height="148.68" fill="#565858" stroke="#3c3e3e" stroke-width="0.8"/>
<rect x="737.45" y="1634.52" width="20.20" height="95.58" fill="#565858" stroke="#3c3e3e" stroke-width="0.8"/>
<rect x="767.83" y="1655.76" width="20.20" height="74.34" fill="#565858" stroke="#3c3e3e" stroke-width="0.8"/>
<rect x="798.21" y="1708.86" width="20.20" height="21.24" fill="#565858" stroke="#3c3e3e" stroke-width="0.8"/>
<rect x="828.59" y="1698.24" width="20.20" height="31.86" fill="#565858" stroke="#3c3e3e" stroke-width="0.8"/>
<rect x="858.97" y="1708.86" width="20.20" height="21.24" fill="#565858" stroke="#3c3e3e" stroke-width="0.8"/>
<rect x="889.35" y="1708.86" width="20.20" height="21.24" fill="#565858" stroke="#3c3e3e" stroke-width="0.8"/>
<rect x="919.73" y="1719.48" width="20.20" height="10.62" fill="#565858" stroke="#3c3e3e" stroke-width="0.8"/>
<rect x="980.49" y="1708.86" width="20.20" height="21.24" fill="#565858" stroke="#3c3e3e" stroke-width="0.8"/>
<rect x="1102.01" y="1719.48" width="20.20" height="10.62" fill="#565858" stroke="#3c3e3e" stroke-width="0.8"/>
<polyline points="671.6,1469.9 673.1,1475.2 674.6,1480.4 676.2,1485.4 677.7,1490.4 679.2,1495.2 680.7,1500 682.3,1504.7 683.8,1509.2 685.3,1513.7 686.8,1518.1 688.4,1522.4 689.9,1526.6 691.4,1530.7 692.9,1534.8 694.5,1538.7 696,1542.6 697.5,1546.4 699,1550.1 700.6,1553.8 702.1,1557.3 703.6,1560.8 705.1,1564.3 706.7,1567.6 708.2,1570.9 709.7,1574.2 711.2,1577.3 712.8,1580.4 714.3,1583.4 715.8,1586.4 717.3,1589.3 718.8,1592.2 720.4,1595 721.9,1597.7 723.4,1600.4 724.9,1603 726.5,1605.6 728,1608.1 729.5,1610.6 731,1613 732.6,1615.4 734.1,1617.7 735.6,1620 737.1,1622.2 738.7,1624.4 740.2,1626.6 741.7,1628.7 743.2,1630.7 744.8,1632.7 746.3,1634.7 747.8,1636.6 749.3,1638.5 750.9,1640.4 752.4,1642.2 753.9,1644 755.4,1645.7 756.9,1647.4 758.5,1649.1 760,1650.8 761.5,1652.4 763,1653.9 764.6,1655.5 766.1,1657 767.6,1658.5 769.1,1659.9 770.7,1661.4 772.2,1662.7 773.7,1664.1 775.2,1665.4 776.8,1666.8 778.3,1668 779.8,1669.3 781.3,1670.5 782.9,1671.7 784.4,1672.9 785.9,1674.1 787.4,1675.2 789,1676.3 790.5,1677.4 792,1678.5 793.5,1679.5 795.1,1680.6 796.6,1681.6 798.1,1682.5 799.6,1683.5 801.1,1684.5 802.7,1685.4 804.2,1686.3 805.7,1687.2 807.2,1688 808.8,1688.9 810.3,1689.7 811.8,1690.5 813.3,1691.4 814.9,1692.1 816.4,1692.9 817.9,1693.7 819.4,1694.4 821,1695.1 822.5,1695.8 824,1696.5 825.5,1697.2 827.1,1697.9 828.6,1698.5 830.1,1699.2 831.6,1699.8 833.2,1700.4 834.7,1701 836.2,1701.6 837.7,1702.2 839.2,1702.7 840.8,1703.3 842.3,1703.8 843.8,1704.4 845.3,1704.9 846.9,1705.4 848.4,1705.9 849.9,1706.4 851.4,1706.9 853,1707.3 854.5,1707.8 856,1708.3 857.5,1708.7 859.1,1709.1 860.6,1709.6 862.1,1710 863.6,1710.4 865.2,1710.8 866.7,1711.2 868.2,1711.6 869.7,1711.9 871.3,1712.3 872.8,1712.7 874.3,1713 875.8,1713.4 877.4,1713.7 878.9,1714 880.4,1714.4 881.9,1714.7 883.4,1715 885,1715.3 886.5,1715.6 888,1715.9 889.5,1716.2 891.1,1716.5 892.6,1716.7 894.1,1717 895.6,1717.3 897.2,1717.5 898.7,1717.8 900.2,1718 901.7,1718.3 903.3,1718.5 904.8,1718.8 906.3,1719 907.8,1719.2 909.4,1719.4 910.9,1719.6 912.4,1719.9 913.9,1720.1 915.5,1720.3 917,1720.5 918.5,1720.7 920,1720.9 921.5,1721 923.1,1721.2 924.6,1721.4 926.1,1721.6 927.6,1721.8 929.2,1721.9 930.7,1722.1 932.2,1722.3 933.7,1722.4 935.3,1722.6 936.8,1722.7 938.3,1722.9 939.8,1723 941.4,1723.2 942.9,1723.3 944.4,1723.4 945.9,1723.6 947.5,1723.7 949,1723.8 950.5,1724 952,1724.1 953.6,1724.2 955.1,1724.3 956.6,1724.4 958.1,1724.6 959.7,1724.7 961.2,1724.8 962.7,1724.9 964.2,1725 965.7,1725.1 967.3,1725.2 968.8,1725.3 970.3,1725.4 971.8,1725.5 973.4,1725.6 974.9,1725.7 976.4,1725.8 977.9,1725.9 979.5,1725.9 981,1726 982.5,1726.1 984,1726.2 985.6,1726.3 987.1,1726.3 988.6,1726.4 990.1,1726.5 991.7,1726.6 993.2,1726.6 994.7,1726.7 996.2,1726.8 997.8,1726.8 999.3,1726.9 1000.8,1727 1002.3,1727 1003.8,1727.1 1005.4,1727.2 1006.9,1727.2 1008.4,1727.3 1009.9,1727.3 1011.5,1727.4 1013,1727.4 1014.5,1727.5 1016,1727.6 1017.6,1727.6 1019.1,1727.7 1020.6,1727.7 1022.1,1727.8 1023.7,1727.8 1025.2,1727.9 1026.7,1727.9 1028.2,1727.9 1029.8,1728 1031.3,1728 1032.8,1728.1 1034.3,1728.1 1035.9,1728.2 1037.4,1728.2 1038.9,1728.2 1040.4,1728.3 1042,1728.3 1043.5,1728.3 1045,1728.4 1046.5,1728.4 1048,1728.4 1049.6,1728.5 1051.1,1728.5 1052.6,1728.5 1054.1,1728.6 1055.7,1728.6 1057.2,1728.6 1058.7,1728.7 1060.2,1728.7 1061.8,1728.7 1063.3,1728.8 1064.8,1728.8 1066.3,1728.8 1067.9,1728.8 1069.4,1728.9 1070.9,1728.9 1072.4,1728.9 1074,1728.9 1075.5,1729 1077,1729 1078.5,1729 1080.1,1729 1081.6,1729 1083.1,1729.1 1084.6,1729.1 1086.1,1729.1 1087.7,1729.1 1089.2,1729.1 1090.7,1729.2 1092.2,1729.2 1093.8,1729.2 1095.3,1729.2 1096.8,1729.2 1098.3,1729.3 1099.9,1729.3 1101.4,1729.3 1102.9,1729.3 1104.4,1729.3 1106,1729.3 1107.5,1729.4 1109,1729.4 1110.5,1729.4 1112.1,1729.4 1113.6,1729.4 1115.1,1729.4 1116.6,1729.4 1118.2,1729.5 1119.7,1729.5 1121.2,1729.5 1122.7,1729.5 1124.3,1729.5 1125.8,1729.5 1127.3,1729.5" fill="none" stroke="#B01E24" stroke-width="2.6" stroke-linejoin="round"/>
<rect x="671.60" y="1464.60" width="455.70" height="265.50" fill="none" stroke="#262626" stroke-width="2.0"/>
<line x1="747.55" y1="1730.10" x2="747.55" y2="1722.10" stroke="#262626" stroke-width="2.0"/>
<line x1="747.55" y1="1464.60" x2="747.55" y2="1472.60" stroke="#262626" stroke-width="2.0"/>
<line x1="823.50" y1="1730.10" x2="823.50" y2="1722.10" stroke="#262626" stroke-width="2.0"/>
<line x1="823.50" y1="1464.60" x2="823.50" y2="1472.60" stroke="#262626" stroke-width="2.0"/>
<line x1="899.45" y1="1730.10" x2="899.45" y2="1722.10" stroke="#262626" stroke-width="2.0"/>
<line x1="899.45" y1="1464.60" x2="899.45" y2="1472.60" stroke="#262626" stroke-width="2.0"/>
<line x1="975.40" y1="1730.10" x2="975.40" y2="1722.10" stroke="#262626" stroke-width="2.0"/>
<line x1="975.40" y1="1464.60" x2="975.40" y2="1472.60" stroke="#262626" stroke-width="2.0"/>
<line x1="1051.35" y1="1730.10" x2="1051.35" y2="1722.10" stroke="#262626" stroke-width="2.0"/>
<line x1="1051.35" y1="1464.60" x2="1051.35" y2="1472.60" stroke="#262626" stroke-width="2.0"/>
<line x1="671.60" y1="1677.00" x2="679.60" y2="1677.00" stroke="#262626" stroke-width="2.0"/>
<line x1="1127.30" y1="1677.00" x2="1119.30" y2="1677.00" stroke="#262626" stroke-width="2.0"/>
<line x1="671.60" y1="1623.90" x2="679.60" y2="1623.90" stroke="#262626" stroke-width="2.0"/>
<line x1="1127.30" y1="1623.90" x2="1119.30" y2="1623.90" stroke="#262626" stroke-width="2.0"/>
<line x1="671.60" y1="1570.80" x2="679.60" y2="1570.80" stroke="#262626" stroke-width="2.0"/>
<line x1="1127.30" y1="1570.80" x2="1119.30" y2="1570.80" stroke="#262626" stroke-width="2.0"/>
<line x1="671.60" y1="1517.70" x2="679.60" y2="1517.70" stroke="#262626" stroke-width="2.0"/>
<line x1="1127.30" y1="1517.70" x2="1119.30" y2="1517.70" stroke="#262626" stroke-width="2.0"/>
<text x="631.93" y="1526.97" font-size="25.5" fill="#000">20</text>
<text x="631.93" y="1633.17" font-size="25.5" fill="#000">10</text>
<text x="646.11" y="1739.37" font-size="25.5" fill="#000">0</text>
<text x="883.09" y="1507.60" font-size="30.3" font-weight="bold" fill="#000">1.1- 2.5 pN</text>
<text x="897.44" y="1542.20" font-size="27.5" fill="#000">N=65, R</text>
<text x="1000.54" y="1533.90" font-size="19.5" fill="#000">2</text>
<text x="1014.46" y="1542.20" font-size="27.5" fill="#000">=0.984</text>
<text x="664.51" y="1754.60" font-size="25.5" fill="#000">0</text>
<text x="729.95" y="1754.60" font-size="25.5" fill="#000">0.1</text>
<text x="805.92" y="1754.60" font-size="25.5" fill="#000">0.2</text>
<text x="881.79" y="1754.60" font-size="25.5" fill="#000">0.3</text>
<text x="957.55" y="1754.60" font-size="25.5" fill="#000">0.4</text>
<text x="1033.66" y="1754.60" font-size="25.5" fill="#000">0.5</text>
<text x="1109.64" y="1754.60" font-size="25.5" fill="#000">0.6</text>
<text x="802.85" y="1789.70" font-size="32.3" fill="#000">Dwell time (s)</text>
<text transform="translate(615.60,1389.35) rotate(-90)" font-size="32.3">Number</text>
<text x="580.81" y="945.20" font-size="57" fill="#000">C</text>
<polyline points="104,1948.8 106,1950.7 107.9,1952.5 109.9,1954.4 111.9,1956.2 113.8,1958 115.8,1959.8 117.8,1961.6 119.8,1963.4 121.7,1965.2 123.7,1967 125.7,1968.7 127.6,1970.4 129.6,1972.2 131.6,1973.9 133.5,1975.6 135.5,1977.3 137.5,1979 139.4,1980.6 141.4,1982.3 143.4,1983.9 145.4,1985.6 147.3,1987.2 149.3,1988.8 151.3,1990.4 153.2,1992 155.2,1993.6 157.2,1995.1 159.1,1996.7 161.1,1998.2 163.1,1999.8 165,2001.3 167,2002.8 169,2004.3 171,2005.8 172.9,2007.3 174.9,2008.8 176.9,2010.3 178.8,2011.7 180.8,2013.2 182.8,2014.6 184.7,2016 186.7,2017.5 188.7,2018.9 190.7,2020.3 192.6,2021.6 194.6,2023 196.6,2024.4 198.5,2025.8 200.5,2027.1 202.5,2028.5 204.4,2029.8 206.4,2031.1 208.4,2032.4 210.3,2033.7 212.3,2035 214.3,2036.3 216.3,2037.6 218.2,2038.9 220.2,2040.2 222.2,2041.4 224.1,2042.7 226.1,2043.9 228.1,2045.1 230,2046.4 232,2047.6 234,2048.8 235.9,2050 237.9,2051.2 239.9,2052.4 241.9,2053.5 243.8,2054.7 245.8,2055.9 247.8,2057 249.7,2058.1 251.7,2059.3 253.7,2060.4 255.6,2061.5 257.6,2062.6 259.6,2063.7 261.5,2064.8 263.5,2065.9 265.5,2067 267.5,2068.1 269.4,2069.2 271.4,2070.2 273.4,2071.3 275.3,2072.3 277.3,2073.4 279.3,2074.4 281.2,2075.4 283.2,2076.4 285.2,2077.5 287.1,2078.5 289.1,2079.5 291.1,2080.5 293.1,2081.4 295,2082.4 297,2083.4 299,2084.4 300.9,2085.3 302.9,2086.3 304.9,2087.2 306.8,2088.2 308.8,2089.1 310.8,2090 312.8,2090.9 314.7,2091.9 316.7,2092.8 318.7,2093.7 320.6,2094.6 322.6,2095.5 324.6,2096.3 326.5,2097.2 328.5,2098.1 330.5,2099 332.4,2099.8 334.4,2100.7 336.4,2101.5 338.4,2102.4 340.3,2103.2 342.3,2104 344.3,2104.9 346.2,2105.7 348.2,2106.5 350.2,2107.3 352.1,2108.1 354.1,2108.9 356.1,2109.7 358,2110.5 360,2111.3 362,2112.1 364,2112.8 365.9,2113.6 367.9,2114.4 369.9,2115.1 371.8,2115.9 373.8,2116.6 375.8,2117.4 377.7,2118.1 379.7,2118.8 381.7,2119.6 383.6,2120.3 385.6,2121 387.6,2121.7 389.6,2122.4 391.5,2123.1 393.5,2123.8 395.5,2124.5 397.4,2125.2 399.4,2125.9 401.4,2126.6 403.3,2127.3 405.3,2127.9 407.3,2128.6 409.2,2129.3 411.2,2129.9 413.2,2130.6 415.2,2131.2 417.1,2131.9 419.1,2132.5 421.1,2133.1 423,2133.8 425,2134.4 427,2135 428.9,2135.6 430.9,2136.2 432.9,2136.9 434.9,2137.5 436.8,2138.1 438.8,2138.7 440.8,2139.3 442.7,2139.9 444.7,2140.4 446.7,2141 448.6,2141.6 450.6,2142.2 452.6,2142.7 454.5,2143.3 456.5,2143.9 458.5,2144.4 460.5,2145 462.4,2145.5 464.4,2146.1 466.4,2146.6 468.3,2147.2 470.3,2147.7 472.3,2148.2 474.2,2148.8 476.2,2149.3 478.2,2149.8 480.1,2150.3 482.1,2150.9 484.1,2151.4 486.1,2151.9 488,2152.4 490,2152.9 492,2153.4 493.9,2153.9 495.9,2154.4" fill="none" stroke="#B01E24" stroke-width="2.6"/>
<circle cx="163.6" cy="1983.3" r="6.6" fill="#000"/>
<circle cx="250.3" cy="2067.7" r="6.6" fill="#000"/>
<circle cx="396.0" cy="2118.7" r="6.6" fill="#000"/>
<rect x="104.00" y="1895.80" width="391.90" height="331.30" fill="none" stroke="#262626" stroke-width="2.0"/>
<line x1="201.97" y1="2227.10" x2="201.97" y2="2219.10" stroke="#262626" stroke-width="2.0"/>
<line x1="201.97" y1="1895.80" x2="201.97" y2="1903.80" stroke="#262626" stroke-width="2.0"/>
<line x1="299.95" y1="2227.10" x2="299.95" y2="2219.10" stroke="#262626" stroke-width="2.0"/>
<line x1="299.95" y1="1895.80" x2="299.95" y2="1903.80" stroke="#262626" stroke-width="2.0"/>
<line x1="397.92" y1="2227.10" x2="397.92" y2="2219.10" stroke="#262626" stroke-width="2.0"/>
<line x1="397.92" y1="1895.80" x2="397.92" y2="1903.80" stroke="#262626" stroke-width="2.0"/>
<line x1="104.00" y1="2171.88" x2="112.00" y2="2171.88" stroke="#262626" stroke-width="2.0"/>
<line x1="495.90" y1="2171.88" x2="487.90" y2="2171.88" stroke="#262626" stroke-width="2.0"/>
<line x1="104.00" y1="2116.67" x2="112.00" y2="2116.67" stroke="#262626" stroke-width="2.0"/>
<line x1="495.90" y1="2116.67" x2="487.90" y2="2116.67" stroke="#262626" stroke-width="2.0"/>
<line x1="104.00" y1="2061.45" x2="112.00" y2="2061.45" stroke="#262626" stroke-width="2.0"/>
<line x1="495.90" y1="2061.45" x2="487.90" y2="2061.45" stroke="#262626" stroke-width="2.0"/>
<line x1="104.00" y1="2006.23" x2="112.00" y2="2006.23" stroke="#262626" stroke-width="2.0"/>
<line x1="495.90" y1="2006.23" x2="487.90" y2="2006.23" stroke="#262626" stroke-width="2.0"/>
<line x1="104.00" y1="1951.02" x2="112.00" y2="1951.02" stroke="#262626" stroke-width="2.0"/>
<line x1="495.90" y1="1951.02" x2="487.90" y2="1951.02" stroke="#262626" stroke-width="2.0"/>
<text x="70.73" y="1907.57" font-size="25.5" fill="#000">30</text>
<text x="70.73" y="2015.51" font-size="25.5" fill="#000">20</text>
<text x="70.73" y="2125.94" font-size="25.5" fill="#000">10</text>
<text x="84.91" y="2236.37" font-size="25.5" fill="#000">0</text>
<text x="96.91" y="2254.30" font-size="25.5" fill="#000">0</text>
<text x="184.29" y="2254.30" font-size="25.5" fill="#000">0.5</text>
<text x="292.51" y="2254.30" font-size="25.5" fill="#000">1</text>
<text x="379.76" y="2254.30" font-size="25.5" fill="#000">1.5</text>
<text x="488.81" y="2254.30" font-size="25.5" fill="#000">2</text>
<text x="230.85" y="2287.40" font-size="32.3" fill="#000">Force (pN)</text>
<text transform="translate(51.20,2185.57) rotate(-90)" font-size="32.3">Stepping rate (/s)</text>
<text x="359.34" y="1943.00" font-size="27.5" fill="#000">R</text>
<text x="380.65" y="1934.70" font-size="19.5" fill="#000">2</text>
<text x="394.57" y="1943.00" font-size="27.5" fill="#000">=0.953</text>
<text x="7.42" y="1867.90" font-size="57" fill="#000">D</text>
<line x1="606.60" y1="1906.80" x2="936.40" y2="2227.90" stroke="#B01E24" stroke-width="2.8"/>
<circle cx="661.6" cy="1952.5" r="6.4" fill="#555757"/>
<circle cx="740.7" cy="2052.5" r="6.4" fill="#555757"/>
<circle cx="873.2" cy="2166.0" r="6.4" fill="#555757"/>
<rect x="606.60" y="1895.50" width="357.60" height="332.40" fill="none" stroke="#262626" stroke-width="2.0"/>
<line x1="696.00" y1="2227.90" x2="696.00" y2="2219.90" stroke="#262626" stroke-width="2.0"/>
<line x1="696.00" y1="1895.50" x2="696.00" y2="1903.50" stroke="#262626" stroke-width="2.0"/>
<line x1="785.40" y1="2227.90" x2="785.40" y2="2219.90" stroke="#262626" stroke-width="2.0"/>
<line x1="785.40" y1="1895.50" x2="785.40" y2="1903.50" stroke="#262626" stroke-width="2.0"/>
<line x1="874.80" y1="2227.90" x2="874.80" y2="2219.90" stroke="#262626" stroke-width="2.0"/>
<line x1="874.80" y1="1895.50" x2="874.80" y2="1903.50" stroke="#262626" stroke-width="2.0"/>
<line x1="606.60" y1="2186.35" x2="614.60" y2="2186.35" stroke="#262626" stroke-width="2.0"/>
<line x1="964.20" y1="2186.35" x2="956.20" y2="2186.35" stroke="#262626" stroke-width="2.0"/>
<line x1="606.60" y1="2144.80" x2="614.60" y2="2144.80" stroke="#262626" stroke-width="2.0"/>
<line x1="964.20" y1="2144.80" x2="956.20" y2="2144.80" stroke="#262626" stroke-width="2.0"/>
<line x1="606.60" y1="2103.25" x2="614.60" y2="2103.25" stroke="#262626" stroke-width="2.0"/>
<line x1="964.20" y1="2103.25" x2="956.20" y2="2103.25" stroke="#262626" stroke-width="2.0"/>
<line x1="606.60" y1="2061.70" x2="614.60" y2="2061.70" stroke="#262626" stroke-width="2.0"/>
<line x1="964.20" y1="2061.70" x2="956.20" y2="2061.70" stroke="#262626" stroke-width="2.0"/>
<line x1="606.60" y1="2020.15" x2="614.60" y2="2020.15" stroke="#262626" stroke-width="2.0"/>
<line x1="964.20" y1="2020.15" x2="956.20" y2="2020.15" stroke="#262626" stroke-width="2.0"/>
<line x1="606.60" y1="1978.60" x2="614.60" y2="1978.60" stroke="#262626" stroke-width="2.0"/>
<line x1="964.20" y1="1978.60" x2="956.20" y2="1978.60" stroke="#262626" stroke-width="2.0"/>
<line x1="606.60" y1="1937.05" x2="614.60" y2="1937.05" stroke="#262626" stroke-width="2.0"/>
<line x1="964.20" y1="1937.05" x2="956.20" y2="1937.05" stroke="#262626" stroke-width="2.0"/>
<text x="554.45" y="1908.27" font-size="25.5" fill="#000">400</text>
<text x="554.45" y="1987.87" font-size="25.5" fill="#000">300</text>
<text x="554.45" y="2070.97" font-size="25.5" fill="#000">200</text>
<text x="554.45" y="2154.07" font-size="25.5" fill="#000">100</text>
<text x="582.81" y="2237.17" font-size="25.5" fill="#000">0</text>
<text x="599.51" y="2255.00" font-size="25.5" fill="#000">0</text>
<text x="678.31" y="2255.00" font-size="25.5" fill="#000">0.5</text>
<text x="777.96" y="2255.00" font-size="25.5" fill="#000">1</text>
<text x="856.64" y="2255.00" font-size="25.5" fill="#000">1.5</text>
<text x="957.11" y="2255.00" font-size="25.5" fill="#000">2</text>
<text x="718.55" y="2287.50" font-size="32.3" fill="#000">Force (pN)</text>
<text transform="translate(542.90,2166.64) rotate(-90)" font-size="32.3">Velocity (nm/s)</text>
<text x="812.34" y="1939.20" font-size="27.5" fill="#000">R</text>
<text x="833.65" y="1930.90" font-size="19.5" fill="#000">2</text>
<text x="847.57" y="1939.20" font-size="27.5" fill="#000">=0.995</text>
<text x="507.42" y="1867.90" font-size="57" fill="#000">E</text>
<rect x="1123.21" y="1935.53" width="20" height="291.37" fill="#565858" stroke="#3c3e3e" stroke-width="0.8"/>
<rect x="1150.54" y="2028.24" width="20" height="198.66" fill="#565858" stroke="#3c3e3e" stroke-width="0.8"/>
<rect x="1177.86" y="2028.24" width="20" height="198.66" fill="#565858" stroke="#3c3e3e" stroke-width="0.8"/>
<rect x="1205.19" y="2094.46" width="20" height="132.44" fill="#565858" stroke="#3c3e3e" stroke-width="0.8"/>
<rect x="1232.51" y="2134.19" width="20" height="92.71" fill="#565858" stroke="#3c3e3e" stroke-width="0.8"/>
<rect x="1259.84" y="2200.41" width="20" height="26.49" fill="#565858" stroke="#3c3e3e" stroke-width="0.8"/>
<rect x="1287.16" y="2200.41" width="20" height="26.49" fill="#565858" stroke="#3c3e3e" stroke-width="0.8"/>
<rect x="1314.49" y="2200.41" width="20" height="26.49" fill="#565858" stroke="#3c3e3e" stroke-width="0.8"/>
<polyline points="1124.1,1895.8 1125.3,1900.9 1126.6,1905.9 1127.9,1910.9 1129.1,1915.7 1130.4,1920.5 1131.7,1925.3 1132.9,1929.9 1134.2,1934.5 1135.4,1939 1136.7,1943.4 1138,1947.8 1139.2,1952.1 1140.5,1956.3 1141.8,1960.5 1143,1964.6 1144.3,1968.6 1145.6,1972.6 1146.8,1976.5 1148.1,1980.4 1149.4,1984.2 1150.6,1987.9 1151.9,1991.6 1153.1,1995.2 1154.4,1998.8 1155.7,2002.3 1156.9,2005.8 1158.2,2009.2 1159.5,2012.5 1160.7,2015.8 1162,2019.1 1163.3,2022.3 1164.5,2025.4 1165.8,2028.6 1167.1,2031.6 1168.3,2034.6 1169.6,2037.6 1170.8,2040.5 1172.1,2043.4 1173.4,2046.2 1174.6,2049 1175.9,2051.7 1177.2,2054.4 1178.4,2057.1 1179.7,2059.7 1181,2062.3 1182.2,2064.8 1183.5,2067.3 1184.8,2069.8 1186,2072.2 1187.3,2074.6 1188.5,2076.9 1189.8,2079.2 1191.1,2081.5 1192.3,2083.7 1193.6,2085.9 1194.9,2088.1 1196.1,2090.3 1197.4,2092.4 1198.7,2094.4 1199.9,2096.5 1201.2,2098.5 1202.5,2100.5 1203.7,2102.4 1205,2104.3 1206.2,2106.2 1207.5,2108.1 1208.8,2109.9 1210,2111.7 1211.3,2113.5 1212.6,2115.2 1213.8,2117 1215.1,2118.6 1216.4,2120.3 1217.6,2122 1218.9,2123.6 1220.2,2125.2 1221.4,2126.7 1222.7,2128.3 1223.9,2129.8 1225.2,2131.3 1226.5,2132.8 1227.7,2134.2 1229,2135.6 1230.3,2137 1231.5,2138.4 1232.8,2139.8 1234.1,2141.1 1235.3,2142.5 1236.6,2143.8 1237.9,2145 1239.1,2146.3 1240.4,2147.5 1241.6,2148.8 1242.9,2150 1244.2,2151.2 1245.4,2152.3 1246.7,2153.5 1248,2154.6 1249.2,2155.7 1250.5,2156.8 1251.8,2157.9 1253,2159 1254.3,2160 1255.6,2161 1256.8,2162 1258.1,2163 1259.3,2164 1260.6,2165 1261.9,2166 1263.1,2166.9 1264.4,2167.8 1265.7,2168.7 1266.9,2169.6 1268.2,2170.5 1269.5,2171.4 1270.7,2172.2 1272,2173.1 1273.3,2173.9 1274.5,2174.7 1275.8,2175.5 1277,2176.3 1278.3,2177.1 1279.6,2177.9 1280.8,2178.6 1282.1,2179.4 1283.4,2180.1 1284.6,2180.8 1285.9,2181.5 1287.2,2182.2 1288.4,2182.9 1289.7,2183.6 1291,2184.3 1292.2,2184.9 1293.5,2185.6 1294.7,2186.2 1296,2186.8 1297.3,2187.4 1298.5,2188.1 1299.8,2188.6 1301.1,2189.2 1302.3,2189.8 1303.6,2190.4 1304.9,2191 1306.1,2191.5 1307.4,2192.1 1308.7,2192.6 1309.9,2193.1 1311.2,2193.6 1312.5,2194.1 1313.7,2194.7 1315,2195.2 1316.2,2195.6 1317.5,2196.1 1318.8,2196.6 1320,2197.1 1321.3,2197.5 1322.6,2198 1323.8,2198.4 1325.1,2198.9 1326.4,2199.3 1327.6,2199.7 1328.9,2200.1 1330.2,2200.5 1331.4,2201 1332.7,2201.4 1333.9,2201.7 1335.2,2202.1 1336.5,2202.5 1337.7,2202.9 1339,2203.3 1340.3,2203.6 1341.5,2204 1342.8,2204.3 1344.1,2204.7 1345.3,2205 1346.6,2205.4 1347.9,2205.7 1349.1,2206 1350.4,2206.3 1351.6,2206.7 1352.9,2207 1354.2,2207.3 1355.4,2207.6 1356.7,2207.9 1358,2208.2 1359.2,2208.5 1360.5,2208.7 1361.8,2209 1363,2209.3 1364.3,2209.6 1365.6,2209.8 1366.8,2210.1 1368.1,2210.4 1369.3,2210.6 1370.6,2210.9 1371.9,2211.1 1373.1,2211.4 1374.4,2211.6 1375.7,2211.8 1376.9,2212.1 1378.2,2212.3 1379.5,2212.5 1380.7,2212.7 1382,2213 1383.3,2213.2 1384.5,2213.4 1385.8,2213.6 1387,2213.8 1388.3,2214 1389.6,2214.2 1390.8,2214.4 1392.1,2214.6 1393.4,2214.8 1394.6,2215 1395.9,2215.1 1397.2,2215.3 1398.4,2215.5 1399.7,2215.7 1401,2215.9 1402.2,2216 1403.5,2216.2 1404.7,2216.4 1406,2216.5 1407.3,2216.7 1408.5,2216.8 1409.8,2217 1411.1,2217.1 1412.3,2217.3 1413.6,2217.4 1414.9,2217.6 1416.1,2217.7 1417.4,2217.9 1418.7,2218 1419.9,2218.1 1421.2,2218.3 1422.4,2218.4 1423.7,2218.5 1425,2218.7 1426.2,2218.8 1427.5,2218.9 1428.8,2219.1 1430,2219.2 1431.3,2219.3 1432.6,2219.4 1433.8,2219.5 1435.1,2219.6 1436.4,2219.7 1437.6,2219.9 1438.9,2220 1440.1,2220.1 1441.4,2220.2 1442.7,2220.3 1443.9,2220.4 1445.2,2220.5 1446.5,2220.6 1447.7,2220.7 1449,2220.8 1450.3,2220.9 1451.5,2221 1452.8,2221.1 1454.1,2221.1 1455.3,2221.2 1456.6,2221.3 1457.8,2221.4 1459.1,2221.5 1460.4,2221.6 1461.6,2221.7 1462.9,2221.7 1464.2,2221.8 1465.4,2221.9 1466.7,2222 1468,2222 1469.2,2222.1 1470.5,2222.2 1471.8,2222.3 1473,2222.3 1474.3,2222.4 1475.5,2222.5 1476.8,2222.5 1478.1,2222.6 1479.3,2222.7 1480.6,2222.7 1481.9,2222.8 1483.1,2222.9 1484.4,2222.9 1485.7,2223 1486.9,2223.1 1488.2,2223.1 1489.5,2223.2 1490.7,2223.2 1492,2223.3 1493.2,2223.3 1494.5,2223.4 1495.8,2223.5 1497,2223.5 1498.3,2223.6 1499.6,2223.6 1500.8,2223.7 1502.1,2223.7" fill="none" stroke="#B01E24" stroke-width="2.6"/>
<rect x="1064.90" y="1895.80" width="437.20" height="331.10" fill="none" stroke="#262626" stroke-width="2.0"/>
<line x1="1119.55" y1="2226.90" x2="1119.55" y2="2218.90" stroke="#262626" stroke-width="2.0"/>
<line x1="1174.20" y1="2226.90" x2="1174.20" y2="2218.90" stroke="#262626" stroke-width="2.0"/>
<line x1="1228.85" y1="2226.90" x2="1228.85" y2="2218.90" stroke="#262626" stroke-width="2.0"/>
<line x1="1283.50" y1="2226.90" x2="1283.50" y2="2218.90" stroke="#262626" stroke-width="2.0"/>
<line x1="1338.15" y1="2226.90" x2="1338.15" y2="2218.90" stroke="#262626" stroke-width="2.0"/>
<line x1="1392.80" y1="2226.90" x2="1392.80" y2="2218.90" stroke="#262626" stroke-width="2.0"/>
<line x1="1447.45" y1="2226.90" x2="1447.45" y2="2218.90" stroke="#262626" stroke-width="2.0"/>
<line x1="1151.90" y1="1895.80" x2="1151.90" y2="1903.80" stroke="#262626" stroke-width="2.0"/>
<line x1="1238.90" y1="1895.80" x2="1238.90" y2="1903.80" stroke="#262626" stroke-width="2.0"/>
<line x1="1325.90" y1="1895.80" x2="1325.90" y2="1903.80" stroke="#262626" stroke-width="2.0"/>
<line x1="1412.90" y1="1895.80" x2="1412.90" y2="1903.80" stroke="#262626" stroke-width="2.0"/>
<line x1="1499.90" y1="1895.80" x2="1499.90" y2="1903.80" stroke="#262626" stroke-width="2.0"/>
<line x1="1064.90" y1="2160.68" x2="1072.90" y2="2160.68" stroke="#262626" stroke-width="2.0"/>
<line x1="1502.10" y1="2160.68" x2="1494.10" y2="2160.68" stroke="#262626" stroke-width="2.0"/>
<line x1="1064.90" y1="2094.46" x2="1072.90" y2="2094.46" stroke="#262626" stroke-width="2.0"/>
<line x1="1502.10" y1="2094.46" x2="1494.10" y2="2094.46" stroke="#262626" stroke-width="2.0"/>
<line x1="1064.90" y1="2028.24" x2="1072.90" y2="2028.24" stroke="#262626" stroke-width="2.0"/>
<line x1="1502.10" y1="2028.24" x2="1494.10" y2="2028.24" stroke="#262626" stroke-width="2.0"/>
<line x1="1064.90" y1="1962.02" x2="1072.90" y2="1962.02" stroke="#262626" stroke-width="2.0"/>
<line x1="1502.10" y1="1962.02" x2="1494.10" y2="1962.02" stroke="#262626" stroke-width="2.0"/>
<text x="1028.11" y="1910.57" font-size="25.5" fill="#000">25</text>
<text x="1028.03" y="1971.29" font-size="25.5" fill="#000">20</text>
<text x="1028.11" y="2037.51" font-size="25.5" fill="#000">15</text>
<text x="1028.03" y="2103.73" font-size="25.5" fill="#000">10</text>
<text x="1042.29" y="2169.95" font-size="25.5" fill="#000">5</text>
<text x="1042.21" y="2236.17" font-size="25.5" fill="#000">0</text>
<text x="1057.81" y="2254.90" font-size="25.5" fill="#000">0</text>
<text x="1166.76" y="2254.90" font-size="25.5" fill="#000">1</text>
<text x="1276.41" y="2254.90" font-size="25.5" fill="#000">2</text>
<text x="1385.78" y="2254.90" font-size="25.5" fill="#000">3</text>
<text x="1495.09" y="2254.90" font-size="25.5" fill="#000">4</text>
<text x="1057.81" y="1891.00" font-size="25.5" fill="#000">0</text>
<text x="1217.15" y="1891.00" font-size="25.5" fill="#000">100</text>
<text x="1391.48" y="1891.00" font-size="25.5" fill="#000">200</text>
<text x="1157.75" y="2287.40" font-size="32.3" fill="#000">Peak force (pN)</text>
<text x="1167.95" y="1861.90" font-size="32.3" fill="#000">Run length (nm)</text>
<text transform="translate(1012.80,2110.45) rotate(-90)" font-size="32.3">Number</text>
<text x="1249.14" y="1954.80" font-size="27.5" fill="#000">N=80, R</text>
<text x="1352.24" y="1946.50" font-size="19.5" fill="#000">2</text>
<text x="1366.16" y="1954.80" font-size="27.5" fill="#000">=0.972</text>
<text x="976.22" y="1867.90" font-size="57" fill="#000">F</text>
</svg>
</body></html>
